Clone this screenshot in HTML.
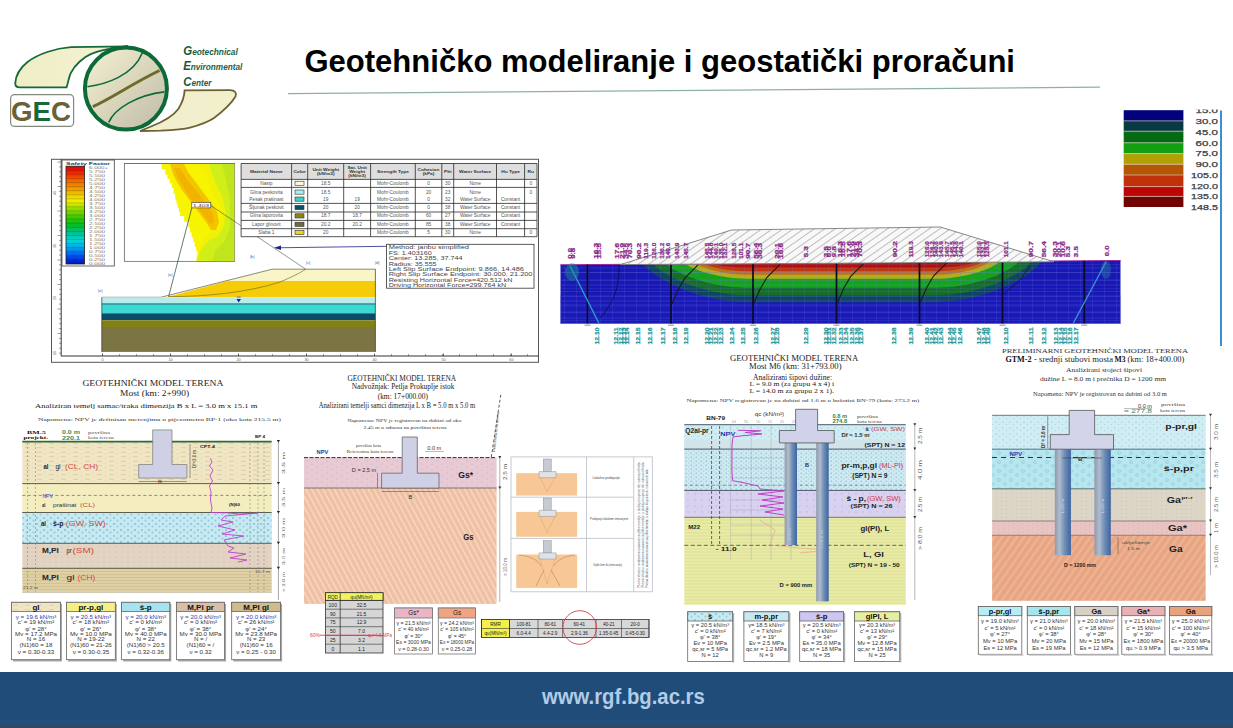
<!DOCTYPE html>
<html><head><meta charset="utf-8"><title>Geotehnicko modeliranje</title>
<style>*{margin:0;padding:0}html,body{width:1233px;height:728px;overflow:hidden;background:#fff;font-family:"Liberation Sans",sans-serif}</style>
</head><body>
<svg width="1233" height="728" viewBox="0 0 1233 728" style="position:absolute;left:0;top:0">
<defs>
<linearGradient id="cg" x1="0" y1="0" x2="1" y2="1"><stop offset="0" stop-color="#f4f1d2"/><stop offset="1" stop-color="#bfbba6"/></linearGradient>
<linearGradient id="sf" x1="0" y1="0" x2="0" y2="1">
<stop offset="0" stop-color="#e00000"/><stop offset="0.08" stop-color="#f03000"/><stop offset="0.16" stop-color="#f07000"/>
<stop offset="0.24" stop-color="#f0a000"/><stop offset="0.30" stop-color="#f0d000"/><stop offset="0.36" stop-color="#f0f000"/>
<stop offset="0.42" stop-color="#a8e000"/><stop offset="0.52" stop-color="#40c800"/><stop offset="0.60" stop-color="#00c020"/>
<stop offset="0.68" stop-color="#00c090"/><stop offset="0.76" stop-color="#00d8d8"/><stop offset="0.84" stop-color="#00a0f0"/>
<stop offset="0.92" stop-color="#0050f0"/><stop offset="1" stop-color="#0010c0"/></linearGradient>
<pattern id="hatch" width="6" height="6" patternUnits="userSpaceOnUse" patternTransform="rotate(55)"><rect width="6" height="6" fill="#f8f8f8"/><line x1="0" y1="0" x2="0" y2="6" stroke="#8c8c8c" stroke-width="1.1"/></pattern>
<pattern id="hatch2" width="5" height="5" patternUnits="userSpaceOnUse" patternTransform="rotate(-28)"><rect width="5" height="5" fill="#f1c4a8"/><line x1="0.5" y1="0" x2="0.5" y2="5" stroke="#f8d9c6" stroke-width="1.2"/><line x1="3" y1="0" x2="3" y2="5" stroke="#e9b497" stroke-width="0.7"/></pattern>
<pattern id="hatch3" width="6" height="6" patternUnits="userSpaceOnUse" patternTransform="rotate(35)"><rect width="6" height="6" fill="#e9a886"/><line x1="1" y1="0" x2="1" y2="6" stroke="#f0b898" stroke-width="1.4"/><line x1="4" y1="0" x2="4" y2="6" stroke="#e29e7c" stroke-width="0.8"/></pattern>
<pattern id="dots" width="7" height="6" patternUnits="userSpaceOnUse"><rect width="7" height="6" fill="#c6e9f2"/><circle cx="2" cy="2" r="1.1" fill="#8fc2d8"/><circle cx="5.5" cy="4.5" r="1" fill="#98c8dc"/></pattern>
<pattern id="dots2" width="7" height="6" patternUnits="userSpaceOnUse"><rect width="7" height="6" fill="#d0edf4"/><circle cx="2" cy="2" r="0.8" fill="#a8d0dc"/><circle cx="5.5" cy="4.5" r="0.7" fill="#b0d6e2"/></pattern>
<pattern id="circ" width="12" height="9" patternUnits="userSpaceOnUse"><rect width="12" height="9" fill="#b7e6ef"/><circle cx="3" cy="3" r="1.5" fill="none" stroke="#8ccbd8" stroke-width="0.7"/><circle cx="9" cy="7" r="1.3" fill="none" stroke="#8ccbd8" stroke-width="0.7"/></pattern>
<pattern id="dash1" width="12" height="4.5" patternUnits="userSpaceOnUse"><rect width="12" height="4.5" fill="#f0e6c4"/><line x1="1" y1="2.2" x2="6" y2="2.2" stroke="#d8c8a0" stroke-width="0.9"/><line x1="7.5" y1="4.4" x2="11" y2="4.4" stroke="#e0d2ac" stroke-width="0.7"/></pattern>
<pattern id="hl" width="10" height="3" patternUnits="userSpaceOnUse"><rect width="10" height="3" fill="#e0d0a6"/><line x1="0" y1="1.5" x2="10" y2="1.5" stroke="#cbb98c" stroke-width="0.6"/></pattern>
<pattern id="hl2" width="10" height="3.2" patternUnits="userSpaceOnUse"><rect width="10" height="3.2" fill="#e9eca6"/><line x1="0" y1="1.6" x2="10" y2="1.6" stroke="#d2d488" stroke-width="0.6"/></pattern>
<pattern id="bgrid" width="12" height="8" patternUnits="userSpaceOnUse"><line x1="0" y1="0" x2="0" y2="8" stroke="#6a78e8" stroke-width="0.5" opacity="0.6"/><line x1="0" y1="0" x2="12" y2="0" stroke="#6a78e8" stroke-width="0.5" opacity="0.6"/></pattern>
<pattern id="pinkd" width="6" height="5" patternUnits="userSpaceOnUse"><rect width="6" height="5" fill="#e3d3c3"/><circle cx="2" cy="2" r="0.6" fill="#cdb8a8"/></pattern>
<pattern id="lav" width="7" height="6" patternUnits="userSpaceOnUse"><rect width="7" height="6" fill="#d8d2f0"/><circle cx="2" cy="2" r="0.7" fill="#b8b0dc"/></pattern>
<pattern id="beige" width="5" height="4" patternUnits="userSpaceOnUse"><rect width="5" height="4" fill="#ddd5c6"/><circle cx="1.5" cy="1.5" r="0.5" fill="#c8bfae"/></pattern>
<linearGradient id="pile" x1="0" y1="0" x2="1" y2="0"><stop offset="0" stop-color="#8e9aae"/><stop offset="0.3" stop-color="#b0bccc"/><stop offset="0.6" stop-color="#7090b8"/><stop offset="1" stop-color="#3e64a0"/></linearGradient>
<pattern id="dots3" width="5" height="4" patternUnits="userSpaceOnUse"><rect width="5" height="4" fill="#cdeaf2"/><circle cx="1.2" cy="1.2" r="0.7" fill="#8ab8cc"/><circle cx="3.7" cy="3" r="0.6" fill="#9cc4d6"/></pattern>
</defs>
<rect x="0.0" y="0.0" width="1233.0" height="728.0" fill="#ffffff" />
<linearGradient id="lf" x1="0" y1="0" x2="1" y2="0"><stop offset="0" stop-color="#eeeec6"/><stop offset="1" stop-color="#f6f2d4"/></linearGradient>
<path d="M128,46.4 L71,47.2 C55,48.3 38,54 27.5,62 C20,68 15.6,76 15.2,83.4 C15.4,86.6 17,87.4 19.5,87.4 L66.5,87.4 C68,84 68.6,77 71.2,72.3 C75,65 83,57.5 90.7,54.2 C98,51 108,48.6 118,47.6 Z" fill="url(#lf)" stroke="#17683a" stroke-width="1.8" />
<path d="M140,131 L160.6,130.7 C175,130 184,129.2 190,127.6 C200,125 208,122 214,118 C222,112 231,104 235.5,96.5 C237,93 235,90.2 230,90.2 L184.6,90.4 C184.4,95 182.6,102 178.5,108.7 C174,115 165,121 151,126.5 Z" fill="#f2efcc" stroke="#6c6232" stroke-width="1.8" />
<circle cx="125.9" cy="88.6" r="41" fill="url(#cg)" stroke="#0b6a37" stroke-width="4"/>
<path d="M87.4,86.7 C105,84.5 133,76 142.3,53" fill="none" stroke="#0b6a37" stroke-width="1.6" />
<path d="M108.7,122.4 C115,108 138,95 164.3,91.9" fill="none" stroke="#0b6a37" stroke-width="1.6" />
<path d="M92.9,106.6 C112,98 128,86 159.5,70.5" fill="none" stroke="#6d6a2c" stroke-width="3" />
<rect x="10.6" y="94.6" width="63" height="31.8" rx="4" fill="#ffffff" stroke="#7f8a7c" stroke-width="1.2"/>
<text x="11" y="120.7" font-family='"Liberation Sans",sans-serif' font-weight="bold" font-size="27.5" fill="#6a6236" textLength="60" lengthAdjust="spacingAndGlyphs">G<tspan fill="#13683c">E</tspan>C</text>
<text x="183.2" y="55.1" font-family='"Liberation Sans",sans-serif' font-weight="bold" font-style="italic" fill="#1d6145" font-size="8.6" textLength="54.60000000000002" lengthAdjust="spacingAndGlyphs"><tspan font-size="11.9" fill="#1a5a38">G</tspan>eotechnical</text>
<text x="183.2" y="70.2" font-family='"Liberation Sans",sans-serif' font-weight="bold" font-style="italic" fill="#1d6145" font-size="8.6" textLength="59.10000000000002" lengthAdjust="spacingAndGlyphs"><tspan font-size="11.9" fill="#1a5a38">E</tspan>nvironmental</text>
<text x="183.2" y="86" font-family='"Liberation Sans",sans-serif' font-weight="bold" font-style="italic" fill="#1d6145" font-size="8.6" textLength="28.200000000000017" lengthAdjust="spacingAndGlyphs"><tspan font-size="11.9" fill="#1a5a38">C</tspan>enter</text>
<text x="304.4" y="71.8" font-family='"Liberation Sans",sans-serif' font-size="32" fill="#000" font-weight="bold" textLength="710.6" lengthAdjust="spacingAndGlyphs" >Geotehničko modeliranje i geostatički proračuni</text>
<line x1="288.0" y1="93.6" x2="1100.0" y2="87.2" stroke="#8fb0a6" stroke-width="1.2" />
<rect x="51.5" y="159.3" width="487.0" height="203.0" fill="#ffffff" stroke="#555" stroke-width="1" />
<line x1="61.2" y1="159.3" x2="61.2" y2="356.0" stroke="#333" stroke-width="1" />
<line x1="61.2" y1="356.0" x2="538.5" y2="356.0" stroke="#333" stroke-width="1" />
<line x1="57.5" y1="162.0" x2="61.2" y2="162.0" stroke="#555" stroke-width="0.6" />
<line x1="59.0" y1="166.9" x2="61.2" y2="166.9" stroke="#555" stroke-width="0.6" />
<line x1="59.0" y1="171.8" x2="61.2" y2="171.8" stroke="#555" stroke-width="0.6" />
<line x1="59.0" y1="176.7" x2="61.2" y2="176.7" stroke="#555" stroke-width="0.6" />
<line x1="59.0" y1="181.6" x2="61.2" y2="181.6" stroke="#555" stroke-width="0.6" />
<line x1="57.5" y1="186.5" x2="61.2" y2="186.5" stroke="#555" stroke-width="0.6" />
<line x1="59.0" y1="191.4" x2="61.2" y2="191.4" stroke="#555" stroke-width="0.6" />
<line x1="59.0" y1="196.3" x2="61.2" y2="196.3" stroke="#555" stroke-width="0.6" />
<line x1="59.0" y1="201.2" x2="61.2" y2="201.2" stroke="#555" stroke-width="0.6" />
<line x1="59.0" y1="206.1" x2="61.2" y2="206.1" stroke="#555" stroke-width="0.6" />
<line x1="57.5" y1="211.0" x2="61.2" y2="211.0" stroke="#555" stroke-width="0.6" />
<line x1="59.0" y1="215.9" x2="61.2" y2="215.9" stroke="#555" stroke-width="0.6" />
<line x1="59.0" y1="220.8" x2="61.2" y2="220.8" stroke="#555" stroke-width="0.6" />
<line x1="59.0" y1="225.7" x2="61.2" y2="225.7" stroke="#555" stroke-width="0.6" />
<line x1="59.0" y1="230.6" x2="61.2" y2="230.6" stroke="#555" stroke-width="0.6" />
<line x1="57.5" y1="235.5" x2="61.2" y2="235.5" stroke="#555" stroke-width="0.6" />
<line x1="59.0" y1="240.4" x2="61.2" y2="240.4" stroke="#555" stroke-width="0.6" />
<line x1="59.0" y1="245.3" x2="61.2" y2="245.3" stroke="#555" stroke-width="0.6" />
<line x1="59.0" y1="250.2" x2="61.2" y2="250.2" stroke="#555" stroke-width="0.6" />
<line x1="59.0" y1="255.1" x2="61.2" y2="255.1" stroke="#555" stroke-width="0.6" />
<line x1="57.5" y1="260.0" x2="61.2" y2="260.0" stroke="#555" stroke-width="0.6" />
<line x1="59.0" y1="264.9" x2="61.2" y2="264.9" stroke="#555" stroke-width="0.6" />
<line x1="59.0" y1="269.8" x2="61.2" y2="269.8" stroke="#555" stroke-width="0.6" />
<line x1="59.0" y1="274.7" x2="61.2" y2="274.7" stroke="#555" stroke-width="0.6" />
<line x1="59.0" y1="279.6" x2="61.2" y2="279.6" stroke="#555" stroke-width="0.6" />
<line x1="57.5" y1="284.5" x2="61.2" y2="284.5" stroke="#555" stroke-width="0.6" />
<line x1="59.0" y1="289.4" x2="61.2" y2="289.4" stroke="#555" stroke-width="0.6" />
<line x1="59.0" y1="294.3" x2="61.2" y2="294.3" stroke="#555" stroke-width="0.6" />
<line x1="59.0" y1="299.2" x2="61.2" y2="299.2" stroke="#555" stroke-width="0.6" />
<line x1="59.0" y1="304.1" x2="61.2" y2="304.1" stroke="#555" stroke-width="0.6" />
<line x1="57.5" y1="309.0" x2="61.2" y2="309.0" stroke="#555" stroke-width="0.6" />
<line x1="59.0" y1="313.9" x2="61.2" y2="313.9" stroke="#555" stroke-width="0.6" />
<line x1="59.0" y1="318.8" x2="61.2" y2="318.8" stroke="#555" stroke-width="0.6" />
<line x1="59.0" y1="323.7" x2="61.2" y2="323.7" stroke="#555" stroke-width="0.6" />
<line x1="59.0" y1="328.6" x2="61.2" y2="328.6" stroke="#555" stroke-width="0.6" />
<line x1="57.5" y1="333.5" x2="61.2" y2="333.5" stroke="#555" stroke-width="0.6" />
<line x1="59.0" y1="338.4" x2="61.2" y2="338.4" stroke="#555" stroke-width="0.6" />
<line x1="59.0" y1="343.3" x2="61.2" y2="343.3" stroke="#555" stroke-width="0.6" />
<line x1="59.0" y1="348.2" x2="61.2" y2="348.2" stroke="#555" stroke-width="0.6" />
<line x1="59.0" y1="353.1" x2="61.2" y2="353.1" stroke="#555" stroke-width="0.6" />
<line x1="102.5" y1="354.2" x2="102.5" y2="356.0" stroke="#555" stroke-width="0.7" />
<line x1="119.5" y1="354.2" x2="119.5" y2="356.0" stroke="#555" stroke-width="0.7" />
<line x1="136.5" y1="354.2" x2="136.5" y2="356.0" stroke="#555" stroke-width="0.7" />
<line x1="153.5" y1="354.2" x2="153.5" y2="356.0" stroke="#555" stroke-width="0.7" />
<line x1="170.5" y1="354.2" x2="170.5" y2="356.0" stroke="#555" stroke-width="0.7" />
<line x1="187.5" y1="354.2" x2="187.5" y2="356.0" stroke="#555" stroke-width="0.7" />
<line x1="204.5" y1="354.2" x2="204.5" y2="356.0" stroke="#555" stroke-width="0.7" />
<line x1="221.5" y1="354.2" x2="221.5" y2="356.0" stroke="#555" stroke-width="0.7" />
<line x1="238.5" y1="354.2" x2="238.5" y2="356.0" stroke="#555" stroke-width="0.7" />
<line x1="255.5" y1="354.2" x2="255.5" y2="356.0" stroke="#555" stroke-width="0.7" />
<line x1="272.5" y1="354.2" x2="272.5" y2="356.0" stroke="#555" stroke-width="0.7" />
<line x1="289.5" y1="354.2" x2="289.5" y2="356.0" stroke="#555" stroke-width="0.7" />
<line x1="306.5" y1="354.2" x2="306.5" y2="356.0" stroke="#555" stroke-width="0.7" />
<line x1="323.5" y1="354.2" x2="323.5" y2="356.0" stroke="#555" stroke-width="0.7" />
<line x1="340.5" y1="354.2" x2="340.5" y2="356.0" stroke="#555" stroke-width="0.7" />
<line x1="357.5" y1="354.2" x2="357.5" y2="356.0" stroke="#555" stroke-width="0.7" />
<line x1="374.5" y1="354.2" x2="374.5" y2="356.0" stroke="#555" stroke-width="0.7" />
<line x1="391.5" y1="354.2" x2="391.5" y2="356.0" stroke="#555" stroke-width="0.7" />
<line x1="408.5" y1="354.2" x2="408.5" y2="356.0" stroke="#555" stroke-width="0.7" />
<line x1="425.5" y1="354.2" x2="425.5" y2="356.0" stroke="#555" stroke-width="0.7" />
<line x1="442.5" y1="354.2" x2="442.5" y2="356.0" stroke="#555" stroke-width="0.7" />
<line x1="459.5" y1="354.2" x2="459.5" y2="356.0" stroke="#555" stroke-width="0.7" />
<line x1="476.5" y1="354.2" x2="476.5" y2="356.0" stroke="#555" stroke-width="0.7" />
<line x1="493.5" y1="354.2" x2="493.5" y2="356.0" stroke="#555" stroke-width="0.7" />
<line x1="510.5" y1="354.2" x2="510.5" y2="356.0" stroke="#555" stroke-width="0.7" />
<line x1="527.5" y1="354.2" x2="527.5" y2="356.0" stroke="#555" stroke-width="0.7" />
<text x="54" y="193" font-family='"Liberation Sans",sans-serif' font-size="3.5" fill="#555" transform="rotate(-90 56 193)">40</text>
<text x="54" y="246" font-family='"Liberation Sans",sans-serif' font-size="3.5" fill="#555" transform="rotate(-90 56 246)">30</text>
<text x="54" y="298" font-family='"Liberation Sans",sans-serif' font-size="3.5" fill="#555" transform="rotate(-90 56 298)">20</text>
<text x="54" y="353" font-family='"Liberation Sans",sans-serif' font-size="3.5" fill="#555" transform="rotate(-90 56 353)">10</text>
<text x="101.4" y="361.0" font-family='"Liberation Sans",sans-serif' font-size="3.8" fill="#666" textLength="2.1" lengthAdjust="spacingAndGlyphs" >0</text>
<line x1="102.5" y1="353.5" x2="102.5" y2="356.0" stroke="#444" stroke-width="0.8" />
<text x="168.4" y="361.0" font-family='"Liberation Sans",sans-serif' font-size="3.8" fill="#666" textLength="4.2" lengthAdjust="spacingAndGlyphs" >10</text>
<line x1="170.5" y1="353.5" x2="170.5" y2="356.0" stroke="#444" stroke-width="0.8" />
<text x="236.4" y="361.0" font-family='"Liberation Sans",sans-serif' font-size="3.8" fill="#666" textLength="4.2" lengthAdjust="spacingAndGlyphs" >20</text>
<line x1="238.5" y1="353.5" x2="238.5" y2="356.0" stroke="#444" stroke-width="0.8" />
<text x="304.4" y="361.0" font-family='"Liberation Sans",sans-serif' font-size="3.8" fill="#666" textLength="4.2" lengthAdjust="spacingAndGlyphs" >30</text>
<line x1="306.5" y1="353.5" x2="306.5" y2="356.0" stroke="#444" stroke-width="0.8" />
<text x="372.4" y="361.0" font-family='"Liberation Sans",sans-serif' font-size="3.8" fill="#666" textLength="4.2" lengthAdjust="spacingAndGlyphs" >40</text>
<line x1="374.5" y1="353.5" x2="374.5" y2="356.0" stroke="#444" stroke-width="0.8" />
<text x="441.4" y="361.0" font-family='"Liberation Sans",sans-serif' font-size="3.8" fill="#666" textLength="4.2" lengthAdjust="spacingAndGlyphs" >50</text>
<line x1="443.5" y1="353.5" x2="443.5" y2="356.0" stroke="#444" stroke-width="0.8" />
<text x="509.3" y="361.0" font-family='"Liberation Sans",sans-serif' font-size="3.8" fill="#666" textLength="4.2" lengthAdjust="spacingAndGlyphs" >60</text>
<line x1="511.4" y1="353.5" x2="511.4" y2="356.0" stroke="#444" stroke-width="0.8" />
<rect x="62.0" y="160.0" width="52.3" height="106.0" fill="#ffffff" stroke="#444" stroke-width="0.8" />
<text x="66.0" y="164.8" font-family='"Liberation Sans",sans-serif' font-size="4" fill="#333" font-weight="bold" textLength="44.0" lengthAdjust="spacingAndGlyphs" >Safety Factor</text>
<rect x="66.0" y="166.2" width="18.6" height="97.8" fill="url(#sf)" stroke="#222" stroke-width="0.8" />
<line x1="66.0" y1="170.3" x2="84.6" y2="170.3" stroke="#00000055" stroke-width="0.5" />
<line x1="66.0" y1="174.3" x2="84.6" y2="174.3" stroke="#00000055" stroke-width="0.5" />
<line x1="66.0" y1="178.4" x2="84.6" y2="178.4" stroke="#00000055" stroke-width="0.5" />
<line x1="66.0" y1="182.5" x2="84.6" y2="182.5" stroke="#00000055" stroke-width="0.5" />
<line x1="66.0" y1="186.6" x2="84.6" y2="186.6" stroke="#00000055" stroke-width="0.5" />
<line x1="66.0" y1="190.6" x2="84.6" y2="190.6" stroke="#00000055" stroke-width="0.5" />
<line x1="66.0" y1="194.7" x2="84.6" y2="194.7" stroke="#00000055" stroke-width="0.5" />
<line x1="66.0" y1="198.8" x2="84.6" y2="198.8" stroke="#00000055" stroke-width="0.5" />
<line x1="66.0" y1="202.9" x2="84.6" y2="202.9" stroke="#00000055" stroke-width="0.5" />
<line x1="66.0" y1="206.9" x2="84.6" y2="206.9" stroke="#00000055" stroke-width="0.5" />
<line x1="66.0" y1="211.0" x2="84.6" y2="211.0" stroke="#00000055" stroke-width="0.5" />
<line x1="66.0" y1="215.1" x2="84.6" y2="215.1" stroke="#00000055" stroke-width="0.5" />
<line x1="66.0" y1="219.2" x2="84.6" y2="219.2" stroke="#00000055" stroke-width="0.5" />
<line x1="66.0" y1="223.2" x2="84.6" y2="223.2" stroke="#00000055" stroke-width="0.5" />
<line x1="66.0" y1="227.3" x2="84.6" y2="227.3" stroke="#00000055" stroke-width="0.5" />
<line x1="66.0" y1="231.4" x2="84.6" y2="231.4" stroke="#00000055" stroke-width="0.5" />
<line x1="66.0" y1="235.5" x2="84.6" y2="235.5" stroke="#00000055" stroke-width="0.5" />
<line x1="66.0" y1="239.6" x2="84.6" y2="239.6" stroke="#00000055" stroke-width="0.5" />
<line x1="66.0" y1="243.6" x2="84.6" y2="243.6" stroke="#00000055" stroke-width="0.5" />
<line x1="66.0" y1="247.7" x2="84.6" y2="247.7" stroke="#00000055" stroke-width="0.5" />
<line x1="66.0" y1="251.8" x2="84.6" y2="251.8" stroke="#00000055" stroke-width="0.5" />
<line x1="66.0" y1="255.9" x2="84.6" y2="255.9" stroke="#00000055" stroke-width="0.5" />
<line x1="66.0" y1="259.9" x2="84.6" y2="259.9" stroke="#00000055" stroke-width="0.5" />
<text x="89.0" y="168.8" font-family='"Liberation Sans",sans-serif' font-size="3.8" fill="#777" textLength="19.0" lengthAdjust="spacingAndGlyphs" >6.000+</text>
<text x="89.0" y="172.8" font-family='"Liberation Sans",sans-serif' font-size="3.8" fill="#777" textLength="16.0" lengthAdjust="spacingAndGlyphs" >5.750</text>
<text x="89.0" y="176.8" font-family='"Liberation Sans",sans-serif' font-size="3.8" fill="#777" textLength="16.0" lengthAdjust="spacingAndGlyphs" >5.500</text>
<text x="89.0" y="180.8" font-family='"Liberation Sans",sans-serif' font-size="3.8" fill="#777" textLength="16.0" lengthAdjust="spacingAndGlyphs" >5.250</text>
<text x="89.0" y="184.8" font-family='"Liberation Sans",sans-serif' font-size="3.8" fill="#777" textLength="16.0" lengthAdjust="spacingAndGlyphs" >5.000</text>
<text x="89.0" y="188.8" font-family='"Liberation Sans",sans-serif' font-size="3.8" fill="#777" textLength="16.0" lengthAdjust="spacingAndGlyphs" >4.750</text>
<text x="89.0" y="192.8" font-family='"Liberation Sans",sans-serif' font-size="3.8" fill="#777" textLength="16.0" lengthAdjust="spacingAndGlyphs" >4.500</text>
<text x="89.0" y="196.8" font-family='"Liberation Sans",sans-serif' font-size="3.8" fill="#777" textLength="16.0" lengthAdjust="spacingAndGlyphs" >4.250</text>
<text x="89.0" y="200.8" font-family='"Liberation Sans",sans-serif' font-size="3.8" fill="#777" textLength="16.0" lengthAdjust="spacingAndGlyphs" >4.000</text>
<text x="89.0" y="204.8" font-family='"Liberation Sans",sans-serif' font-size="3.8" fill="#777" textLength="16.0" lengthAdjust="spacingAndGlyphs" >3.750</text>
<text x="89.0" y="208.8" font-family='"Liberation Sans",sans-serif' font-size="3.8" fill="#777" textLength="16.0" lengthAdjust="spacingAndGlyphs" >3.500</text>
<text x="89.0" y="212.8" font-family='"Liberation Sans",sans-serif' font-size="3.8" fill="#777" textLength="16.0" lengthAdjust="spacingAndGlyphs" >3.250</text>
<text x="89.0" y="216.8" font-family='"Liberation Sans",sans-serif' font-size="3.8" fill="#777" textLength="16.0" lengthAdjust="spacingAndGlyphs" >3.000</text>
<text x="89.0" y="220.8" font-family='"Liberation Sans",sans-serif' font-size="3.8" fill="#777" textLength="16.0" lengthAdjust="spacingAndGlyphs" >2.750</text>
<text x="89.0" y="224.8" font-family='"Liberation Sans",sans-serif' font-size="3.8" fill="#777" textLength="16.0" lengthAdjust="spacingAndGlyphs" >2.500</text>
<text x="89.0" y="228.8" font-family='"Liberation Sans",sans-serif' font-size="3.8" fill="#777" textLength="16.0" lengthAdjust="spacingAndGlyphs" >2.250</text>
<text x="89.0" y="232.8" font-family='"Liberation Sans",sans-serif' font-size="3.8" fill="#777" textLength="16.0" lengthAdjust="spacingAndGlyphs" >2.000</text>
<text x="89.0" y="236.8" font-family='"Liberation Sans",sans-serif' font-size="3.8" fill="#777" textLength="16.0" lengthAdjust="spacingAndGlyphs" >1.750</text>
<text x="89.0" y="240.8" font-family='"Liberation Sans",sans-serif' font-size="3.8" fill="#777" textLength="16.0" lengthAdjust="spacingAndGlyphs" >1.500</text>
<text x="89.0" y="244.8" font-family='"Liberation Sans",sans-serif' font-size="3.8" fill="#777" textLength="16.0" lengthAdjust="spacingAndGlyphs" >1.250</text>
<text x="89.0" y="248.8" font-family='"Liberation Sans",sans-serif' font-size="3.8" fill="#777" textLength="16.0" lengthAdjust="spacingAndGlyphs" >1.000</text>
<text x="89.0" y="252.8" font-family='"Liberation Sans",sans-serif' font-size="3.8" fill="#777" textLength="16.0" lengthAdjust="spacingAndGlyphs" >0.750</text>
<text x="89.0" y="256.8" font-family='"Liberation Sans",sans-serif' font-size="3.8" fill="#777" textLength="16.0" lengthAdjust="spacingAndGlyphs" >0.500</text>
<text x="89.0" y="260.8" font-family='"Liberation Sans",sans-serif' font-size="3.8" fill="#777" textLength="16.0" lengthAdjust="spacingAndGlyphs" >0.250</text>
<text x="89.0" y="264.8" font-family='"Liberation Sans",sans-serif' font-size="3.8" fill="#777" textLength="16.0" lengthAdjust="spacingAndGlyphs" >0.000</text>
<rect x="124.4" y="163.5" width="110.2" height="97.8" fill="#ffffff" stroke="#666" stroke-width="0.9" />
<rect x="124.9" y="164.0" width="109.2" height="96.8" fill="#ffffff" />
<path d="M234.1,164 L234.1,260.8 L199.1,260.8 L199.1,256.2 L197.7,256.2 L197.7,251.6 L196.2,251.6 L196.2,246.9 L194.8,246.9 L194.8,242.3 L193.3,242.3 L193.3,237.4 L191.7,237.4 L191.7,232.4 L190.0,232.4 L190.0,227.5 L188.4,227.5 L188.4,221.8 L184.2,221.8 L184.2,216.0 L180.1,216.0 L180.1,211.9 L178.9,211.9 L178.9,207.8 L177.6,207.8 L177.6,203.6 L176.4,203.6 L176.4,199.5 L175.2,199.5 L175.2,193.7 L173.6,193.7 L173.6,187.9 L171.9,187.9 L171.9,183.5 L169.7,183.5 L169.7,179.1 L167.5,179.1 L167.5,174.7 L165.3,174.7 L165.3,169.3 L161.6,169.3 L161.6,164.0 L157.9,164 Z" fill="#f8f400" />
<path d="M198,164 L234.1,164 L234.1,260.8 L196,260.8 L198,252 L202,244 L206,236 L212,230 L220,228 L222,218 L220,206 L214,196 L210,186 L206,176 L202,170 Z" fill="#f2f006" />
<path d="M209,164 L234.1,164 L234.1,260.8 L198,260.8 L200,252 L204,246 L210,240 L218,236 L224,226 L226,212 L222,196 L216,184 L212,174 Z" fill="#d0ee18" />
<path d="M222,164 L234.1,164 L234.1,260.8 L212,260.8 L216,250 L224,242 L230,228 L230,200 L226,180 Z" fill="#bfe61c" />
<path d="M170,164 L184,164 L188,172 L194,180 L200,188 L206,196 L212,204 L217,212 L219,222 L216,230 L211,230 L206,222 L200,214 L194,206 L188,198 L182,190 L177,182 L173,174 Z" fill="#f4c400" />
<path d="M174,168 L180,168 L186,178 L194,188 L202,198 L208,206 L213,214 L214,222 L210,224 L204,216 L198,208 L190,198 L184,188 L178,178 Z" fill="#f0b400" />
<rect x="191.8" y="202.5" width="19.0" height="5.4" fill="#ffffff" stroke="#333" stroke-width="0.6" />
<text x="193.0" y="206.6" font-family='"Liberation Sans",sans-serif' font-size="4" fill="#333" textLength="16.0" lengthAdjust="spacingAndGlyphs" >1.403</text>
<line x1="191.8" y1="207.9" x2="168.5" y2="297.0" stroke="#3a5a4a" stroke-width="0.8" />
<line x1="210.8" y1="205.5" x2="305.7" y2="269.2" stroke="#3a5a4a" stroke-width="0.6" />
<line x1="386.6" y1="246.3" x2="276.0" y2="247.8" stroke="#23238a" stroke-width="0.8" />
<path d="M274,247.8 L281,245.6 L281,250 Z" fill="#22227f" />
<path d="M101.8,297.3 L166,297.3 L227.7,281 L375.4,281 L375.4,297.3 Z" fill="#f6cc08" />
<path d="M227.7,281 L272.2,269.2 L375.4,269.2 L375.4,281 Z" fill="#faf5c6" />
<path d="M101.8,297.3 L160.7,297.3 L272.2,269.2 L375.4,269.2" fill="none" stroke="#5a5a3a" stroke-width="0.7" />
<path d="M168.5,296.5 C205,297 250,292 280,282 C292,277 300,273 305.7,269.2" fill="none" stroke="#7a7420" stroke-width="0.7" />
<rect x="101.8" y="297.3" width="273.6" height="6.6" fill="#b8ecec" />
<rect x="101.8" y="303.9" width="273.6" height="9.4" fill="#3cd8d2" />
<rect x="101.8" y="313.3" width="273.6" height="7.0" fill="#0d4a6a" />
<rect x="101.8" y="320.3" width="273.6" height="6.7" fill="#838014" />
<rect x="101.8" y="327.0" width="273.6" height="24.9" fill="#7b7543" />
<line x1="101.8" y1="303.9" x2="375.4" y2="303.9" stroke="#124" stroke-width="0.7" />
<line x1="101.8" y1="297.3" x2="101.8" y2="351.9" stroke="#333" stroke-width="0.7" />
<line x1="375.4" y1="269.2" x2="375.4" y2="351.9" stroke="#333" stroke-width="0.7" />
<path d="M236.5,299 L241,299 L238.75,302.5 Z" fill="#1020c0" />
<rect x="236.8" y="296.5" width="3.9" height="1.0" fill="#6070d0" />
<text x="168.0" y="276.0" font-family='"Liberation Sans",sans-serif' font-size="3.5" fill="#4466aa" textLength="4.5" lengthAdjust="spacingAndGlyphs" >|a|</text>
<text x="250.0" y="258.0" font-family='"Liberation Sans",sans-serif' font-size="3.5" fill="#4466aa" textLength="4.5" lengthAdjust="spacingAndGlyphs" >|b|</text>
<text x="306.0" y="264.0" font-family='"Liberation Sans",sans-serif' font-size="3.5" fill="#4466aa" textLength="4.5" lengthAdjust="spacingAndGlyphs" >|c|</text>
<text x="375.0" y="264.0" font-family='"Liberation Sans",sans-serif' font-size="3.5" fill="#4466aa" textLength="4.5" lengthAdjust="spacingAndGlyphs" >|d|</text>
<text x="98.0" y="292.0" font-family='"Liberation Sans",sans-serif' font-size="3.5" fill="#4466aa" textLength="4.5" lengthAdjust="spacingAndGlyphs" >|e|</text>
<rect x="241.1" y="163.5" width="295.9" height="15.9" fill="#dedede" />
<rect x="241.1" y="179.4" width="295.9" height="57.3" fill="#ffffff" />
<line x1="241.1" y1="163.5" x2="241.1" y2="236.7" stroke="#2a2a2a" stroke-width="0.8" />
<line x1="291.6" y1="163.5" x2="291.6" y2="236.7" stroke="#2a2a2a" stroke-width="0.8" />
<line x1="307.7" y1="163.5" x2="307.7" y2="236.7" stroke="#2a2a2a" stroke-width="0.8" />
<line x1="343.7" y1="163.5" x2="343.7" y2="236.7" stroke="#2a2a2a" stroke-width="0.8" />
<line x1="370.6" y1="163.5" x2="370.6" y2="236.7" stroke="#2a2a2a" stroke-width="0.8" />
<line x1="415.3" y1="163.5" x2="415.3" y2="236.7" stroke="#2a2a2a" stroke-width="0.8" />
<line x1="441.8" y1="163.5" x2="441.8" y2="236.7" stroke="#2a2a2a" stroke-width="0.8" />
<line x1="453.7" y1="163.5" x2="453.7" y2="236.7" stroke="#2a2a2a" stroke-width="0.8" />
<line x1="496.5" y1="163.5" x2="496.5" y2="236.7" stroke="#2a2a2a" stroke-width="0.8" />
<line x1="524.6" y1="163.5" x2="524.6" y2="236.7" stroke="#2a2a2a" stroke-width="0.8" />
<line x1="537.0" y1="163.5" x2="537.0" y2="236.7" stroke="#2a2a2a" stroke-width="0.8" />
<line x1="241.1" y1="163.5" x2="537.0" y2="163.5" stroke="#2a2a2a" stroke-width="0.8" />
<line x1="241.1" y1="179.4" x2="537.0" y2="179.4" stroke="#2a2a2a" stroke-width="0.8" />
<line x1="241.1" y1="187.4" x2="537.0" y2="187.4" stroke="#2a2a2a" stroke-width="0.8" />
<line x1="241.1" y1="203.4" x2="537.0" y2="203.4" stroke="#2a2a2a" stroke-width="0.8" />
<line x1="241.1" y1="212.0" x2="537.0" y2="212.0" stroke="#2a2a2a" stroke-width="0.8" />
<line x1="241.1" y1="220.4" x2="537.0" y2="220.4" stroke="#2a2a2a" stroke-width="0.8" />
<line x1="241.1" y1="228.7" x2="537.0" y2="228.7" stroke="#2a2a2a" stroke-width="0.8" />
<line x1="241.1" y1="236.7" x2="537.0" y2="236.7" stroke="#2a2a2a" stroke-width="0.8" />
<text x="250.1" y="172.8" font-family='"Liberation Sans",sans-serif' font-size="4.4" fill="#333" font-weight="bold" textLength="32.5" lengthAdjust="spacingAndGlyphs" >Material Name</text>
<text x="293.4" y="172.8" font-family='"Liberation Sans",sans-serif' font-size="4.4" fill="#333" font-weight="bold" textLength="12.5" lengthAdjust="spacingAndGlyphs" >Color</text>
<text x="312.4" y="170.8" font-family='"Liberation Sans",sans-serif' font-size="4.4" fill="#333" font-weight="bold" textLength="26.6" lengthAdjust="spacingAndGlyphs" >Unit Weight</text>
<text x="316.9" y="174.8" font-family='"Liberation Sans",sans-serif' font-size="4.4" fill="#333" font-weight="bold" textLength="17.6" lengthAdjust="spacingAndGlyphs" >(kN/m3)</text>
<text x="347.4" y="168.8" font-family='"Liberation Sans",sans-serif' font-size="4.4" fill="#333" font-weight="bold" textLength="19.5" lengthAdjust="spacingAndGlyphs" >Sat. Unit</text>
<text x="349.2" y="172.8" font-family='"Liberation Sans",sans-serif' font-size="4.4" fill="#333" font-weight="bold" textLength="15.9" lengthAdjust="spacingAndGlyphs" >Weight</text>
<text x="348.3" y="176.8" font-family='"Liberation Sans",sans-serif' font-size="4.4" fill="#333" font-weight="bold" textLength="17.6" lengthAdjust="spacingAndGlyphs" >(kN/m3)</text>
<text x="377.0" y="172.8" font-family='"Liberation Sans",sans-serif' font-size="4.4" fill="#333" font-weight="bold" textLength="31.9" lengthAdjust="spacingAndGlyphs" >Strength Type</text>
<text x="417.6" y="170.8" font-family='"Liberation Sans",sans-serif' font-size="4.4" fill="#333" font-weight="bold" textLength="21.9" lengthAdjust="spacingAndGlyphs" >Cohesion</text>
<text x="422.7" y="174.8" font-family='"Liberation Sans",sans-serif' font-size="4.4" fill="#333" font-weight="bold" textLength="11.7" lengthAdjust="spacingAndGlyphs" >(kPa)</text>
<text x="444.0" y="172.8" font-family='"Liberation Sans",sans-serif' font-size="4.4" fill="#333" font-weight="bold" textLength="7.5" lengthAdjust="spacingAndGlyphs" >Phi</text>
<text x="459.1" y="172.8" font-family='"Liberation Sans",sans-serif' font-size="4.4" fill="#333" font-weight="bold" textLength="32.1" lengthAdjust="spacingAndGlyphs" >Water Surface</text>
<text x="501.3" y="172.8" font-family='"Liberation Sans",sans-serif' font-size="4.4" fill="#333" font-weight="bold" textLength="18.6" lengthAdjust="spacingAndGlyphs" >Hu Type</text>
<text x="527.6" y="172.8" font-family='"Liberation Sans",sans-serif' font-size="4.4" fill="#333" font-weight="bold" textLength="6.4" lengthAdjust="spacingAndGlyphs" >Ru</text>
<text x="260.2" y="184.8" font-family='"Liberation Sans",sans-serif' font-size="4.6" fill="#555" textLength="12.3" lengthAdjust="spacingAndGlyphs" >Nasip</text>
<rect x="295.0" y="181.2" width="9.0" height="4.2" fill="#fff6d6" stroke="#333" stroke-width="0.6" />
<text x="321.0" y="184.8" font-family='"Liberation Sans",sans-serif' font-size="4.6" fill="#555" textLength="9.3" lengthAdjust="spacingAndGlyphs" >18.5</text>
<text x="377.1" y="184.8" font-family='"Liberation Sans",sans-serif' font-size="4.6" fill="#555" textLength="31.7" lengthAdjust="spacingAndGlyphs" >Mohr-Coulomb</text>
<text x="427.2" y="184.8" font-family='"Liberation Sans",sans-serif' font-size="4.6" fill="#555" textLength="2.7" lengthAdjust="spacingAndGlyphs" >0</text>
<text x="445.1" y="184.8" font-family='"Liberation Sans",sans-serif' font-size="4.6" fill="#555" textLength="5.3" lengthAdjust="spacingAndGlyphs" >30</text>
<text x="469.4" y="184.8" font-family='"Liberation Sans",sans-serif' font-size="4.6" fill="#555" textLength="11.5" lengthAdjust="spacingAndGlyphs" >None</text>
<text x="529.5" y="184.8" font-family='"Liberation Sans",sans-serif' font-size="4.6" fill="#555" textLength="2.7" lengthAdjust="spacingAndGlyphs" >0</text>
<text x="249.9" y="193.6" font-family='"Liberation Sans",sans-serif' font-size="4.6" fill="#555" textLength="32.8" lengthAdjust="spacingAndGlyphs" >Glina peskovita</text>
<rect x="295.0" y="190.0" width="9.0" height="4.2" fill="#a8eeee" stroke="#333" stroke-width="0.6" />
<text x="321.0" y="193.6" font-family='"Liberation Sans",sans-serif' font-size="4.6" fill="#555" textLength="9.3" lengthAdjust="spacingAndGlyphs" >18.5</text>
<text x="377.1" y="193.6" font-family='"Liberation Sans",sans-serif' font-size="4.6" fill="#555" textLength="31.7" lengthAdjust="spacingAndGlyphs" >Mohr-Coulomb</text>
<text x="425.9" y="193.6" font-family='"Liberation Sans",sans-serif' font-size="4.6" fill="#555" textLength="5.3" lengthAdjust="spacingAndGlyphs" >20</text>
<text x="445.1" y="193.6" font-family='"Liberation Sans",sans-serif' font-size="4.6" fill="#555" textLength="5.3" lengthAdjust="spacingAndGlyphs" >23</text>
<text x="469.4" y="193.6" font-family='"Liberation Sans",sans-serif' font-size="4.6" fill="#555" textLength="11.5" lengthAdjust="spacingAndGlyphs" >None</text>
<text x="529.5" y="193.6" font-family='"Liberation Sans",sans-serif' font-size="4.6" fill="#555" textLength="2.7" lengthAdjust="spacingAndGlyphs" >0</text>
<text x="249.3" y="200.6" font-family='"Liberation Sans",sans-serif' font-size="4.6" fill="#555" textLength="34.1" lengthAdjust="spacingAndGlyphs" >Pesak prašinast</text>
<rect x="295.0" y="197.0" width="9.0" height="4.2" fill="#3ccfc6" stroke="#333" stroke-width="0.6" />
<text x="323.0" y="200.6" font-family='"Liberation Sans",sans-serif' font-size="4.6" fill="#555" textLength="5.3" lengthAdjust="spacingAndGlyphs" >19</text>
<text x="354.5" y="200.6" font-family='"Liberation Sans",sans-serif' font-size="4.6" fill="#555" textLength="5.3" lengthAdjust="spacingAndGlyphs" >19</text>
<text x="377.1" y="200.6" font-family='"Liberation Sans",sans-serif' font-size="4.6" fill="#555" textLength="31.7" lengthAdjust="spacingAndGlyphs" >Mohr-Coulomb</text>
<text x="427.2" y="200.6" font-family='"Liberation Sans",sans-serif' font-size="4.6" fill="#555" textLength="2.7" lengthAdjust="spacingAndGlyphs" >0</text>
<text x="445.1" y="200.6" font-family='"Liberation Sans",sans-serif' font-size="4.6" fill="#555" textLength="5.3" lengthAdjust="spacingAndGlyphs" >32</text>
<text x="459.9" y="200.6" font-family='"Liberation Sans",sans-serif' font-size="4.6" fill="#555" textLength="30.5" lengthAdjust="spacingAndGlyphs" >Water Surface</text>
<text x="500.9" y="200.6" font-family='"Liberation Sans",sans-serif' font-size="4.6" fill="#555" textLength="19.2" lengthAdjust="spacingAndGlyphs" >Constant</text>
<text x="249.0" y="209.0" font-family='"Liberation Sans",sans-serif' font-size="4.6" fill="#555" textLength="34.7" lengthAdjust="spacingAndGlyphs" >Šljunak peskovit</text>
<rect x="295.0" y="205.4" width="9.0" height="4.2" fill="#0d4d68" stroke="#333" stroke-width="0.6" />
<text x="323.0" y="209.0" font-family='"Liberation Sans",sans-serif' font-size="4.6" fill="#555" textLength="5.3" lengthAdjust="spacingAndGlyphs" >20</text>
<text x="354.5" y="209.0" font-family='"Liberation Sans",sans-serif' font-size="4.6" fill="#555" textLength="5.3" lengthAdjust="spacingAndGlyphs" >20</text>
<text x="377.1" y="209.0" font-family='"Liberation Sans",sans-serif' font-size="4.6" fill="#555" textLength="31.7" lengthAdjust="spacingAndGlyphs" >Mohr-Coulomb</text>
<text x="427.2" y="209.0" font-family='"Liberation Sans",sans-serif' font-size="4.6" fill="#555" textLength="2.7" lengthAdjust="spacingAndGlyphs" >0</text>
<text x="445.1" y="209.0" font-family='"Liberation Sans",sans-serif' font-size="4.6" fill="#555" textLength="5.3" lengthAdjust="spacingAndGlyphs" >38</text>
<text x="459.9" y="209.0" font-family='"Liberation Sans",sans-serif' font-size="4.6" fill="#555" textLength="30.5" lengthAdjust="spacingAndGlyphs" >Water Surface</text>
<text x="500.9" y="209.0" font-family='"Liberation Sans",sans-serif' font-size="4.6" fill="#555" textLength="19.2" lengthAdjust="spacingAndGlyphs" >Constant</text>
<text x="249.7" y="217.4" font-family='"Liberation Sans",sans-serif' font-size="4.6" fill="#555" textLength="33.3" lengthAdjust="spacingAndGlyphs" >Glina laporovita</text>
<rect x="295.0" y="213.8" width="9.0" height="4.2" fill="#8a8418" stroke="#333" stroke-width="0.6" />
<text x="321.0" y="217.4" font-family='"Liberation Sans",sans-serif' font-size="4.6" fill="#555" textLength="9.3" lengthAdjust="spacingAndGlyphs" >18.7</text>
<text x="352.5" y="217.4" font-family='"Liberation Sans",sans-serif' font-size="4.6" fill="#555" textLength="9.3" lengthAdjust="spacingAndGlyphs" >18.7</text>
<text x="377.1" y="217.4" font-family='"Liberation Sans",sans-serif' font-size="4.6" fill="#555" textLength="31.7" lengthAdjust="spacingAndGlyphs" >Mohr-Coulomb</text>
<text x="425.9" y="217.4" font-family='"Liberation Sans",sans-serif' font-size="4.6" fill="#555" textLength="5.3" lengthAdjust="spacingAndGlyphs" >60</text>
<text x="445.1" y="217.4" font-family='"Liberation Sans",sans-serif' font-size="4.6" fill="#555" textLength="5.3" lengthAdjust="spacingAndGlyphs" >27</text>
<text x="459.9" y="217.4" font-family='"Liberation Sans",sans-serif' font-size="4.6" fill="#555" textLength="30.5" lengthAdjust="spacingAndGlyphs" >Water Surface</text>
<text x="500.9" y="217.4" font-family='"Liberation Sans",sans-serif' font-size="4.6" fill="#555" textLength="19.2" lengthAdjust="spacingAndGlyphs" >Constant</text>
<text x="252.1" y="225.8" font-family='"Liberation Sans",sans-serif' font-size="4.6" fill="#555" textLength="28.5" lengthAdjust="spacingAndGlyphs" >Lapor glinovit</text>
<rect x="295.0" y="222.2" width="9.0" height="4.2" fill="#6c6c3c" stroke="#333" stroke-width="0.6" />
<text x="321.0" y="225.8" font-family='"Liberation Sans",sans-serif' font-size="4.6" fill="#555" textLength="9.3" lengthAdjust="spacingAndGlyphs" >20.2</text>
<text x="352.5" y="225.8" font-family='"Liberation Sans",sans-serif' font-size="4.6" fill="#555" textLength="9.3" lengthAdjust="spacingAndGlyphs" >20.2</text>
<text x="377.1" y="225.8" font-family='"Liberation Sans",sans-serif' font-size="4.6" fill="#555" textLength="31.7" lengthAdjust="spacingAndGlyphs" >Mohr-Coulomb</text>
<text x="425.9" y="225.8" font-family='"Liberation Sans",sans-serif' font-size="4.6" fill="#555" textLength="5.3" lengthAdjust="spacingAndGlyphs" >85</text>
<text x="445.1" y="225.8" font-family='"Liberation Sans",sans-serif' font-size="4.6" fill="#555" textLength="5.3" lengthAdjust="spacingAndGlyphs" >38</text>
<text x="459.9" y="225.8" font-family='"Liberation Sans",sans-serif' font-size="4.6" fill="#555" textLength="30.5" lengthAdjust="spacingAndGlyphs" >Water Surface</text>
<text x="500.9" y="225.8" font-family='"Liberation Sans",sans-serif' font-size="4.6" fill="#555" textLength="19.2" lengthAdjust="spacingAndGlyphs" >Constant</text>
<text x="258.2" y="234.0" font-family='"Liberation Sans",sans-serif' font-size="4.6" fill="#555" textLength="16.3" lengthAdjust="spacingAndGlyphs" >Slaba 1</text>
<rect x="295.0" y="230.4" width="9.0" height="4.2" fill="#eed61a" stroke="#333" stroke-width="0.6" />
<text x="323.0" y="234.0" font-family='"Liberation Sans",sans-serif' font-size="4.6" fill="#555" textLength="5.3" lengthAdjust="spacingAndGlyphs" >20</text>
<text x="377.1" y="234.0" font-family='"Liberation Sans",sans-serif' font-size="4.6" fill="#555" textLength="31.7" lengthAdjust="spacingAndGlyphs" >Mohr-Coulomb</text>
<text x="427.2" y="234.0" font-family='"Liberation Sans",sans-serif' font-size="4.6" fill="#555" textLength="2.7" lengthAdjust="spacingAndGlyphs" >5</text>
<text x="445.1" y="234.0" font-family='"Liberation Sans",sans-serif' font-size="4.6" fill="#555" textLength="5.3" lengthAdjust="spacingAndGlyphs" >30</text>
<text x="469.4" y="234.0" font-family='"Liberation Sans",sans-serif' font-size="4.6" fill="#555" textLength="11.5" lengthAdjust="spacingAndGlyphs" >None</text>
<text x="529.5" y="234.0" font-family='"Liberation Sans",sans-serif' font-size="4.6" fill="#555" textLength="2.7" lengthAdjust="spacingAndGlyphs" >0</text>
<rect x="386.6" y="244.3" width="147.4" height="43.9" fill="#ffffff" stroke="#333" stroke-width="0.8" />
<text x="388.7" y="249.3" font-family='"Liberation Sans",sans-serif' font-size="4.7" fill="#444" textLength="80.3" lengthAdjust="spacingAndGlyphs" >Method: janbu simplified</text>
<text x="388.7" y="254.7" font-family='"Liberation Sans",sans-serif' font-size="4.7" fill="#444" textLength="43.0" lengthAdjust="spacingAndGlyphs" >FS: 1.403160</text>
<text x="388.7" y="260.1" font-family='"Liberation Sans",sans-serif' font-size="4.7" fill="#444" textLength="73.8" lengthAdjust="spacingAndGlyphs" >Center: 13.285, 37.744</text>
<text x="388.7" y="265.5" font-family='"Liberation Sans",sans-serif' font-size="4.7" fill="#444" textLength="47.9" lengthAdjust="spacingAndGlyphs" >Radius: 35.555</text>
<text x="388.7" y="270.9" font-family='"Liberation Sans",sans-serif' font-size="4.7" fill="#444" textLength="135.3" lengthAdjust="spacingAndGlyphs" >Left Slip Surface Endpoint: 9.866, 14.486</text>
<text x="388.7" y="276.3" font-family='"Liberation Sans",sans-serif' font-size="4.7" fill="#444" textLength="143.8" lengthAdjust="spacingAndGlyphs" >Right Slip Surface Endpoint: 30.000, 21.200</text>
<text x="388.7" y="281.7" font-family='"Liberation Sans",sans-serif' font-size="4.7" fill="#444" textLength="123.8" lengthAdjust="spacingAndGlyphs" >Resisting Horizontal Force=420.512 kN</text>
<text x="388.7" y="287.1" font-family='"Liberation Sans",sans-serif' font-size="4.7" fill="#444" textLength="117.5" lengthAdjust="spacingAndGlyphs" >Driving Horizontal Force=299.764 kN</text>
<clipPath id="fclip"><path d="M560.3,264.8 L1120.7,260.5 L1120.7,323.4 L560.3,323.4 Z"/></clipPath>
<g clip-path="url(#fclip)">
<rect x="560.3" y="250.0" width="560.4" height="73.4" fill="#1818b4" />
<rect x="560.3" y="295" width="560.4" height="30" fill="#2020c0" opacity="0.35"/>
<path d="M639,259.1461634546752 L641,262.1461634546752 C656.75,282.1461634546752 704.0,302.1461634546752 746,302.1461634546752 L936,302.1461634546752 C978.0,302.1461634546752 1025.25,282.1461634546752 1041,262.1461634546752 L1043,259.1461634546752 Z" fill="#0e4662" />
<path d="M649,259.1461634546752 L651,262.1461634546752 C665.25,278.6461634546752 708.0,295.1461634546752 746,295.1461634546752 L936,295.1461634546752 C974.0,295.1461634546752 1016.75,278.6461634546752 1031,262.1461634546752 L1033,259.1461634546752 Z" fill="#136e26" />
<path d="M662,259.1461634546752 L664,262.1461634546752 C676.3,274.8961634546752 713.2,287.6461634546752 746,287.6461634546752 L936,287.6461634546752 C968.8,287.6461634546752 1005.7,274.8961634546752 1018,262.1461634546752 L1020,259.1461634546752 Z" fill="#14a41c" />
<path d="M681,259.1461634546752 L683,262.1461634546752 C692.45,270.3961634546752 720.8,278.6461634546752 746,278.6461634546752 L936,278.6461634546752 C961.2,278.6461634546752 989.55,270.3961634546752 999,262.1461634546752 L1001,259.1461634546752 Z" fill="#b4ac18" />
<path d="M691,259.1461634546752 L693,262.1461634546752 C700.95,268.3961634546752 724.8,274.6461634546752 746,274.6461634546752 L936,274.6461634546752 C957.2,274.6461634546752 981.05,268.3961634546752 989,262.1461634546752 L991,259.1461634546752 Z" fill="#c4700e" />
<path d="M698,259.1461634546752 L700,262.1461634546752 C706.9,266.6461634546752 727.6,271.1461634546752 746,271.1461634546752 L936,271.1461634546752 C954.4,271.1461634546752 975.1,266.6461634546752 982,262.1461634546752 L984,259.1461634546752 Z" fill="#c4340c" />
<path d="M705,259.1461634546752 L707,262.1461634546752 C712.85,264.8961634546752 730.4,267.6461634546752 746,267.6461634546752 L936,267.6461634546752 C951.6,267.6461634546752 969.15,264.8961634546752 975,262.1461634546752 L977,259.1461634546752 Z" fill="#b41008" />
<rect x="560.3" y="250.0" width="560.4" height="73.4" fill="url(#bgrid)" />
<line x1="560.3" y1="268.0" x2="1120.7" y2="268.0" stroke="#7a86e0" stroke-width="0.5" opacity="0.45"/>
<line x1="560.3" y1="272.5" x2="1120.7" y2="272.5" stroke="#7a86e0" stroke-width="0.5" opacity="0.45"/>
<line x1="560.3" y1="280.0" x2="1120.7" y2="280.0" stroke="#7a86e0" stroke-width="0.5" opacity="0.45"/>
<line x1="560.3" y1="285.0" x2="1120.7" y2="285.0" stroke="#7a86e0" stroke-width="0.5" opacity="0.45"/>
<line x1="560.3" y1="291.4" x2="1120.7" y2="291.4" stroke="#7a86e0" stroke-width="0.5" opacity="0.45"/>
<line x1="560.3" y1="296.0" x2="1120.7" y2="296.0" stroke="#7a86e0" stroke-width="0.5" opacity="0.45"/>
<line x1="560.3" y1="301.0" x2="1120.7" y2="301.0" stroke="#7a86e0" stroke-width="0.5" opacity="0.45"/>
<line x1="560.3" y1="306.0" x2="1120.7" y2="306.0" stroke="#7a86e0" stroke-width="0.5" opacity="0.45"/>
<line x1="560.3" y1="312.0" x2="1120.7" y2="312.0" stroke="#7a86e0" stroke-width="0.5" opacity="0.45"/>
<line x1="560.3" y1="318.0" x2="1120.7" y2="318.0" stroke="#7a86e0" stroke-width="0.5" opacity="0.45"/>
</g>
<line x1="560.3" y1="264.8" x2="1120.7" y2="260.5" stroke="#9a2a9a" stroke-width="1" />
<line x1="560.3" y1="323.4" x2="1120.7" y2="323.4" stroke="#2a2a80" stroke-width="0.6" />
<line x1="587.5" y1="264.6" x2="587.5" y2="323.4" stroke="#0a0a28" stroke-width="1.7" />
<line x1="671.0" y1="264.0" x2="671.0" y2="323.4" stroke="#0a0a28" stroke-width="1.7" />
<line x1="753.0" y1="263.3" x2="753.0" y2="323.4" stroke="#0a0a28" stroke-width="1.7" />
<line x1="836.5" y1="262.7" x2="836.5" y2="323.4" stroke="#0a0a28" stroke-width="1.7" />
<line x1="919.5" y1="262.0" x2="919.5" y2="323.4" stroke="#0a0a28" stroke-width="1.7" />
<line x1="1002.5" y1="261.4" x2="1002.5" y2="323.4" stroke="#0a0a28" stroke-width="1.7" />
<line x1="1084.3" y1="260.8" x2="1084.3" y2="323.4" stroke="#0a0a28" stroke-width="1.7" />
<path d="M698,264.9505888650964 L685,277.9505888650964 L678,289.9505888650964 L672,303.9505888650964" fill="none" stroke="#1a1a1a" stroke-width="1.1" />
<path d="M780,264.3213954318344 L767,277.3213954318344 L760,289.3213954318344 L754,303.3213954318344" fill="none" stroke="#1a1a1a" stroke-width="1.1" />
<path d="M863.5,263.68069236259817 L850.5,276.68069236259817 L843.5,288.68069236259817 L837.5,302.68069236259817" fill="none" stroke="#1a1a1a" stroke-width="1.1" />
<path d="M946.5,263.04382583868664 L933.5,276.04382583868664 L926.5,288.04382583868664 L920.5,302.04382583868664" fill="none" stroke="#1a1a1a" stroke-width="1.1" />
<path d="M1002.5,295 L1020,280 L1030,266" fill="none" stroke="#1a1a3a" stroke-width="1" />
<path d="M619,265 C619,285 616,300 600,318" fill="none" stroke="#101060" stroke-width="1" />
<line x1="570.0" y1="265.7" x2="598.8" y2="323.0" stroke="#2a9ec4" stroke-width="1.4" />
<line x1="1106.0" y1="262.0" x2="1073.4" y2="323.0" stroke="#3a90d0" stroke-width="1.4" />
<ellipse cx="1106" cy="270" rx="5" ry="9" fill="#2a9a9a" opacity="0.35"/>
<ellipse cx="572" cy="272" rx="7" ry="9" fill="#1a9a8a" opacity="0.45"/>
<path d="M620.4,264.6 L731.6,230 L940.3,227 L1054,261.8 Z" fill="url(#hatch)" stroke="#7a7a7a" stroke-width="0.9" />
<text transform="translate(571.5,258.8) rotate(-90)" font-family='"Liberation Sans",sans-serif' font-size="6.2" fill="#8a2a8a" font-weight="bold" stroke="#8a2a8a" stroke-width="0.25" textLength="11.0" lengthAdjust="spacingAndGlyphs">0.0</text>
<text transform="translate(574.9,258.8) rotate(-90)" font-family='"Liberation Sans",sans-serif' font-size="6.2" fill="#8a2a8a" font-weight="bold" stroke="#8a2a8a" stroke-width="0.25" textLength="11.0" lengthAdjust="spacingAndGlyphs">9.8</text>
<text transform="translate(597.6,258.8) rotate(-90)" font-family='"Liberation Sans",sans-serif' font-size="6.2" fill="#8a2a8a" font-weight="bold" stroke="#8a2a8a" stroke-width="0.25" textLength="16.0" lengthAdjust="spacingAndGlyphs">16.3</text>
<text transform="translate(601.0,258.8) rotate(-90)" font-family='"Liberation Sans",sans-serif' font-size="6.2" fill="#8a2a8a" font-weight="bold" stroke="#8a2a8a" stroke-width="0.25" textLength="16.0" lengthAdjust="spacingAndGlyphs">15.5</text>
<text transform="translate(619.2,258.8) rotate(-90)" font-family='"Liberation Sans",sans-serif' font-size="6.2" fill="#8a2a8a" font-weight="bold" stroke="#8a2a8a" stroke-width="0.25" textLength="16.0" lengthAdjust="spacingAndGlyphs">17.6</text>
<text transform="translate(623.7,258.8) rotate(-90)" font-family='"Liberation Sans",sans-serif' font-size="6.2" fill="#8a2a8a" font-weight="bold" stroke="#8a2a8a" stroke-width="0.25" textLength="16.0" lengthAdjust="spacingAndGlyphs">21.9</text>
<text transform="translate(628.2,258.8) rotate(-90)" font-family='"Liberation Sans",sans-serif' font-size="6.2" fill="#8a2a8a" font-weight="bold" stroke="#8a2a8a" stroke-width="0.25" textLength="16.0" lengthAdjust="spacingAndGlyphs">34.5</text>
<text transform="translate(631.7,258.8) rotate(-90)" font-family='"Liberation Sans",sans-serif' font-size="6.2" fill="#8a2a8a" font-weight="bold" stroke="#8a2a8a" stroke-width="0.25" textLength="16.0" lengthAdjust="spacingAndGlyphs">70.3</text>
<text transform="translate(640.8,258.8) rotate(-90)" font-family='"Liberation Sans",sans-serif' font-size="6.2" fill="#8a2a8a" font-weight="bold" stroke="#8a2a8a" stroke-width="0.25" textLength="16.0" lengthAdjust="spacingAndGlyphs">90.2</text>
<text transform="translate(647.6,258.8) rotate(-90)" font-family='"Liberation Sans",sans-serif' font-size="6.2" fill="#8a2a8a" font-weight="bold" stroke="#8a2a8a" stroke-width="0.25" textLength="16.0" lengthAdjust="spacingAndGlyphs">119.3</text>
<text transform="translate(655.5,258.8) rotate(-90)" font-family='"Liberation Sans",sans-serif' font-size="6.2" fill="#8a2a8a" font-weight="bold" stroke="#8a2a8a" stroke-width="0.25" textLength="16.0" lengthAdjust="spacingAndGlyphs">126.0</text>
<text transform="translate(663.5,258.8) rotate(-90)" font-family='"Liberation Sans",sans-serif' font-size="6.2" fill="#8a2a8a" font-weight="bold" stroke="#8a2a8a" stroke-width="0.25" textLength="16.0" lengthAdjust="spacingAndGlyphs">136.2</text>
<text transform="translate(670.2,258.8) rotate(-90)" font-family='"Liberation Sans",sans-serif' font-size="6.2" fill="#8a2a8a" font-weight="bold" stroke="#8a2a8a" stroke-width="0.25" textLength="16.0" lengthAdjust="spacingAndGlyphs">140.6</text>
<text transform="translate(679.4,258.8) rotate(-90)" font-family='"Liberation Sans",sans-serif' font-size="6.2" fill="#8a2a8a" font-weight="bold" stroke="#8a2a8a" stroke-width="0.25" textLength="16.0" lengthAdjust="spacingAndGlyphs">143.9</text>
<text transform="translate(688.4,258.8) rotate(-90)" font-family='"Liberation Sans",sans-serif' font-size="6.2" fill="#8a2a8a" font-weight="bold" stroke="#8a2a8a" stroke-width="0.25" textLength="16.0" lengthAdjust="spacingAndGlyphs">145.7</text>
<text transform="translate(708.9,258.8) rotate(-90)" font-family='"Liberation Sans",sans-serif' font-size="6.2" fill="#8a2a8a" font-weight="bold" stroke="#8a2a8a" stroke-width="0.25" textLength="16.0" lengthAdjust="spacingAndGlyphs">145.5</text>
<text transform="translate(713.4,258.8) rotate(-90)" font-family='"Liberation Sans",sans-serif' font-size="6.2" fill="#8a2a8a" font-weight="bold" stroke="#8a2a8a" stroke-width="0.25" textLength="16.0" lengthAdjust="spacingAndGlyphs">144.8</text>
<text transform="translate(718.0,258.8) rotate(-90)" font-family='"Liberation Sans",sans-serif' font-size="6.2" fill="#8a2a8a" font-weight="bold" stroke="#8a2a8a" stroke-width="0.25" textLength="16.0" lengthAdjust="spacingAndGlyphs">140.1</text>
<text transform="translate(722.5,258.8) rotate(-90)" font-family='"Liberation Sans",sans-serif' font-size="6.2" fill="#8a2a8a" font-weight="bold" stroke="#8a2a8a" stroke-width="0.25" textLength="16.0" lengthAdjust="spacingAndGlyphs">135.0</text>
<text transform="translate(727.0,258.8) rotate(-90)" font-family='"Liberation Sans",sans-serif' font-size="6.2" fill="#8a2a8a" font-weight="bold" stroke="#8a2a8a" stroke-width="0.25" textLength="16.0" lengthAdjust="spacingAndGlyphs">132.1</text>
<text transform="translate(736.2,258.8) rotate(-90)" font-family='"Liberation Sans",sans-serif' font-size="6.2" fill="#8a2a8a" font-weight="bold" stroke="#8a2a8a" stroke-width="0.25" textLength="16.0" lengthAdjust="spacingAndGlyphs">128.5</text>
<text transform="translate(742.9,258.8) rotate(-90)" font-family='"Liberation Sans",sans-serif' font-size="6.2" fill="#8a2a8a" font-weight="bold" stroke="#8a2a8a" stroke-width="0.25" textLength="16.0" lengthAdjust="spacingAndGlyphs">101.1</text>
<text transform="translate(749.7,258.8) rotate(-90)" font-family='"Liberation Sans",sans-serif' font-size="6.2" fill="#8a2a8a" font-weight="bold" stroke="#8a2a8a" stroke-width="0.25" textLength="16.0" lengthAdjust="spacingAndGlyphs">90.7</text>
<text transform="translate(757.7,258.8) rotate(-90)" font-family='"Liberation Sans",sans-serif' font-size="6.2" fill="#8a2a8a" font-weight="bold" stroke="#8a2a8a" stroke-width="0.25" textLength="16.0" lengthAdjust="spacingAndGlyphs">56.4</text>
<text transform="translate(762.2,258.8) rotate(-90)" font-family='"Liberation Sans",sans-serif' font-size="6.2" fill="#8a2a8a" font-weight="bold" stroke="#8a2a8a" stroke-width="0.25" textLength="16.0" lengthAdjust="spacingAndGlyphs">30.3</text>
<text transform="translate(779.2,258.8) rotate(-90)" font-family='"Liberation Sans",sans-serif' font-size="6.2" fill="#8a2a8a" font-weight="bold" stroke="#8a2a8a" stroke-width="0.25" textLength="16.0" lengthAdjust="spacingAndGlyphs">20.1</text>
<text transform="translate(782.7,258.8) rotate(-90)" font-family='"Liberation Sans",sans-serif' font-size="6.2" fill="#8a2a8a" font-weight="bold" stroke="#8a2a8a" stroke-width="0.25" textLength="16.0" lengthAdjust="spacingAndGlyphs">10.6</text>
<text transform="translate(807.7,257.2) rotate(-90)" font-family='"Liberation Sans",sans-serif' font-size="6.2" fill="#8a2a8a" font-weight="bold" stroke="#8a2a8a" stroke-width="0.25" textLength="11.0" lengthAdjust="spacingAndGlyphs">5.3</text>
<text transform="translate(828.2,257.2) rotate(-90)" font-family='"Liberation Sans",sans-serif' font-size="6.2" fill="#8a2a8a" font-weight="bold" stroke="#8a2a8a" stroke-width="0.25" textLength="11.0" lengthAdjust="spacingAndGlyphs">3.5</text>
<text transform="translate(831.2,257.2) rotate(-90)" font-family='"Liberation Sans",sans-serif' font-size="6.2" fill="#8a2a8a" font-weight="bold" stroke="#8a2a8a" stroke-width="0.25" textLength="11.0" lengthAdjust="spacingAndGlyphs">0.0</text>
<text transform="translate(835.8,257.2) rotate(-90)" font-family='"Liberation Sans",sans-serif' font-size="6.2" fill="#8a2a8a" font-weight="bold" stroke="#8a2a8a" stroke-width="0.25" textLength="11.0" lengthAdjust="spacingAndGlyphs">9.8</text>
<text transform="translate(841.5,257.2) rotate(-90)" font-family='"Liberation Sans",sans-serif' font-size="6.2" fill="#8a2a8a" font-weight="bold" stroke="#8a2a8a" stroke-width="0.25" textLength="16.0" lengthAdjust="spacingAndGlyphs">16.3</text>
<text transform="translate(844.9,257.2) rotate(-90)" font-family='"Liberation Sans",sans-serif' font-size="6.2" fill="#8a2a8a" font-weight="bold" stroke="#8a2a8a" stroke-width="0.25" textLength="16.0" lengthAdjust="spacingAndGlyphs">15.5</text>
<text transform="translate(850.6,257.2) rotate(-90)" font-family='"Liberation Sans",sans-serif' font-size="6.2" fill="#8a2a8a" font-weight="bold" stroke="#8a2a8a" stroke-width="0.25" textLength="16.0" lengthAdjust="spacingAndGlyphs">17.6</text>
<text transform="translate(855.2,257.2) rotate(-90)" font-family='"Liberation Sans",sans-serif' font-size="6.2" fill="#8a2a8a" font-weight="bold" stroke="#8a2a8a" stroke-width="0.25" textLength="16.0" lengthAdjust="spacingAndGlyphs">21.9</text>
<text transform="translate(858.5,257.2) rotate(-90)" font-family='"Liberation Sans",sans-serif' font-size="6.2" fill="#8a2a8a" font-weight="bold" stroke="#8a2a8a" stroke-width="0.25" textLength="16.0" lengthAdjust="spacingAndGlyphs">34.5</text>
<text transform="translate(861.9,257.2) rotate(-90)" font-family='"Liberation Sans",sans-serif' font-size="6.2" fill="#8a2a8a" font-weight="bold" stroke="#8a2a8a" stroke-width="0.25" textLength="16.0" lengthAdjust="spacingAndGlyphs">70.3</text>
<text transform="translate(897.2,257.2) rotate(-90)" font-family='"Liberation Sans",sans-serif' font-size="6.2" fill="#8a2a8a" font-weight="bold" stroke="#8a2a8a" stroke-width="0.25" textLength="16.0" lengthAdjust="spacingAndGlyphs">90.2</text>
<text transform="translate(913.0,257.2) rotate(-90)" font-family='"Liberation Sans",sans-serif' font-size="6.2" fill="#8a2a8a" font-weight="bold" stroke="#8a2a8a" stroke-width="0.25" textLength="16.0" lengthAdjust="spacingAndGlyphs">119.3</text>
<text transform="translate(928.9,257.2) rotate(-90)" font-family='"Liberation Sans",sans-serif' font-size="6.2" fill="#8a2a8a" font-weight="bold" stroke="#8a2a8a" stroke-width="0.25" textLength="16.0" lengthAdjust="spacingAndGlyphs">126.0</text>
<text transform="translate(933.5,257.2) rotate(-90)" font-family='"Liberation Sans",sans-serif' font-size="6.2" fill="#8a2a8a" font-weight="bold" stroke="#8a2a8a" stroke-width="0.25" textLength="16.0" lengthAdjust="spacingAndGlyphs">136.2</text>
<text transform="translate(938.0,257.2) rotate(-90)" font-family='"Liberation Sans",sans-serif' font-size="6.2" fill="#8a2a8a" font-weight="bold" stroke="#8a2a8a" stroke-width="0.25" textLength="16.0" lengthAdjust="spacingAndGlyphs">140.6</text>
<text transform="translate(942.5,257.2) rotate(-90)" font-family='"Liberation Sans",sans-serif' font-size="6.2" fill="#8a2a8a" font-weight="bold" stroke="#8a2a8a" stroke-width="0.25" textLength="16.0" lengthAdjust="spacingAndGlyphs">143.9</text>
<text transform="translate(949.4,257.2) rotate(-90)" font-family='"Liberation Sans",sans-serif' font-size="6.2" fill="#8a2a8a" font-weight="bold" stroke="#8a2a8a" stroke-width="0.25" textLength="16.0" lengthAdjust="spacingAndGlyphs">145.7</text>
<text transform="translate(953.9,257.2) rotate(-90)" font-family='"Liberation Sans",sans-serif' font-size="6.2" fill="#8a2a8a" font-weight="bold" stroke="#8a2a8a" stroke-width="0.25" textLength="16.0" lengthAdjust="spacingAndGlyphs">145.5</text>
<text transform="translate(958.4,257.2) rotate(-90)" font-family='"Liberation Sans",sans-serif' font-size="6.2" fill="#8a2a8a" font-weight="bold" stroke="#8a2a8a" stroke-width="0.25" textLength="16.0" lengthAdjust="spacingAndGlyphs">144.8</text>
<text transform="translate(963.0,257.2) rotate(-90)" font-family='"Liberation Sans",sans-serif' font-size="6.2" fill="#8a2a8a" font-weight="bold" stroke="#8a2a8a" stroke-width="0.25" textLength="16.0" lengthAdjust="spacingAndGlyphs">140.1</text>
<text transform="translate(981.2,257.2) rotate(-90)" font-family='"Liberation Sans",sans-serif' font-size="6.2" fill="#8a2a8a" font-weight="bold" stroke="#8a2a8a" stroke-width="0.25" textLength="16.0" lengthAdjust="spacingAndGlyphs">135.0</text>
<text transform="translate(984.6,257.2) rotate(-90)" font-family='"Liberation Sans",sans-serif' font-size="6.2" fill="#8a2a8a" font-weight="bold" stroke="#8a2a8a" stroke-width="0.25" textLength="16.0" lengthAdjust="spacingAndGlyphs">132.1</text>
<text transform="translate(989.1,257.2) rotate(-90)" font-family='"Liberation Sans",sans-serif' font-size="6.2" fill="#8a2a8a" font-weight="bold" stroke="#8a2a8a" stroke-width="0.25" textLength="16.0" lengthAdjust="spacingAndGlyphs">128.5</text>
<text transform="translate(1008.4,257.2) rotate(-90)" font-family='"Liberation Sans",sans-serif' font-size="6.2" fill="#8a2a8a" font-weight="bold" stroke="#8a2a8a" stroke-width="0.25" textLength="16.0" lengthAdjust="spacingAndGlyphs">101.1</text>
<text transform="translate(1033.4,257.2) rotate(-90)" font-family='"Liberation Sans",sans-serif' font-size="6.2" fill="#8a2a8a" font-weight="bold" stroke="#8a2a8a" stroke-width="0.25" textLength="16.0" lengthAdjust="spacingAndGlyphs">90.7</text>
<text transform="translate(1045.9,257.2) rotate(-90)" font-family='"Liberation Sans",sans-serif' font-size="6.2" fill="#8a2a8a" font-weight="bold" stroke="#8a2a8a" stroke-width="0.25" textLength="16.0" lengthAdjust="spacingAndGlyphs">56.4</text>
<text transform="translate(1057.2,257.2) rotate(-90)" font-family='"Liberation Sans",sans-serif' font-size="6.2" fill="#8a2a8a" font-weight="bold" stroke="#8a2a8a" stroke-width="0.25" textLength="16.0" lengthAdjust="spacingAndGlyphs">30.3</text>
<text transform="translate(1060.6,257.2) rotate(-90)" font-family='"Liberation Sans",sans-serif' font-size="6.2" fill="#8a2a8a" font-weight="bold" stroke="#8a2a8a" stroke-width="0.25" textLength="16.0" lengthAdjust="spacingAndGlyphs">20.1</text>
<text transform="translate(1065.2,257.2) rotate(-90)" font-family='"Liberation Sans",sans-serif' font-size="6.2" fill="#8a2a8a" font-weight="bold" stroke="#8a2a8a" stroke-width="0.25" textLength="16.0" lengthAdjust="spacingAndGlyphs">10.6</text>
<text transform="translate(1069.7,257.2) rotate(-90)" font-family='"Liberation Sans",sans-serif' font-size="6.2" fill="#8a2a8a" font-weight="bold" stroke="#8a2a8a" stroke-width="0.25" textLength="11.0" lengthAdjust="spacingAndGlyphs">5.3</text>
<text transform="translate(1077.7,257.2) rotate(-90)" font-family='"Liberation Sans",sans-serif' font-size="6.2" fill="#8a2a8a" font-weight="bold" stroke="#8a2a8a" stroke-width="0.25" textLength="11.0" lengthAdjust="spacingAndGlyphs">3.5</text>
<text transform="translate(1109.2,256.3) rotate(-90)" font-family='"Liberation Sans",sans-serif' font-size="6.2" fill="#8a2a8a" font-weight="bold" stroke="#8a2a8a" stroke-width="0.25" textLength="11.0" lengthAdjust="spacingAndGlyphs">0.0</text>
<text transform="translate(598.7,344.5) rotate(-90)" font-family='"Liberation Sans",sans-serif' font-size="6" fill="#2a9a9c" font-weight="bold" stroke="#2a9a9c" stroke-width="0.25" textLength="17.0" lengthAdjust="spacingAndGlyphs">12.10</text>
<text transform="translate(618.0,344.5) rotate(-90)" font-family='"Liberation Sans",sans-serif' font-size="6" fill="#2a9a9c" font-weight="bold" stroke="#2a9a9c" stroke-width="0.25" textLength="17.0" lengthAdjust="spacingAndGlyphs">12.11</text>
<text transform="translate(622.6,344.5) rotate(-90)" font-family='"Liberation Sans",sans-serif' font-size="6" fill="#2a9a9c" font-weight="bold" stroke="#2a9a9c" stroke-width="0.25" textLength="17.0" lengthAdjust="spacingAndGlyphs">12.12</text>
<text transform="translate(626.0,344.5) rotate(-90)" font-family='"Liberation Sans",sans-serif' font-size="6" fill="#2a9a9c" font-weight="bold" stroke="#2a9a9c" stroke-width="0.25" textLength="17.0" lengthAdjust="spacingAndGlyphs">12.13</text>
<text transform="translate(629.4,344.5) rotate(-90)" font-family='"Liberation Sans",sans-serif' font-size="6" fill="#2a9a9c" font-weight="bold" stroke="#2a9a9c" stroke-width="0.25" textLength="17.0" lengthAdjust="spacingAndGlyphs">12.14</text>
<text transform="translate(639.6,344.5) rotate(-90)" font-family='"Liberation Sans",sans-serif' font-size="6" fill="#2a9a9c" font-weight="bold" stroke="#2a9a9c" stroke-width="0.25" textLength="17.0" lengthAdjust="spacingAndGlyphs">12.15</text>
<text transform="translate(652.2,344.5) rotate(-90)" font-family='"Liberation Sans",sans-serif' font-size="6" fill="#2a9a9c" font-weight="bold" stroke="#2a9a9c" stroke-width="0.25" textLength="17.0" lengthAdjust="spacingAndGlyphs">12.16</text>
<text transform="translate(664.6,344.5) rotate(-90)" font-family='"Liberation Sans",sans-serif' font-size="6" fill="#2a9a9c" font-weight="bold" stroke="#2a9a9c" stroke-width="0.25" textLength="17.0" lengthAdjust="spacingAndGlyphs">12.17</text>
<text transform="translate(677.1,344.5) rotate(-90)" font-family='"Liberation Sans",sans-serif' font-size="6" fill="#2a9a9c" font-weight="bold" stroke="#2a9a9c" stroke-width="0.25" textLength="17.0" lengthAdjust="spacingAndGlyphs">12.18</text>
<text transform="translate(688.4,344.5) rotate(-90)" font-family='"Liberation Sans",sans-serif' font-size="6" fill="#2a9a9c" font-weight="bold" stroke="#2a9a9c" stroke-width="0.25" textLength="17.0" lengthAdjust="spacingAndGlyphs">12.19</text>
<text transform="translate(708.9,344.5) rotate(-90)" font-family='"Liberation Sans",sans-serif' font-size="6" fill="#2a9a9c" font-weight="bold" stroke="#2a9a9c" stroke-width="0.25" textLength="17.0" lengthAdjust="spacingAndGlyphs">12.20</text>
<text transform="translate(713.4,344.5) rotate(-90)" font-family='"Liberation Sans",sans-serif' font-size="6" fill="#2a9a9c" font-weight="bold" stroke="#2a9a9c" stroke-width="0.25" textLength="17.0" lengthAdjust="spacingAndGlyphs">12.21</text>
<text transform="translate(718.0,344.5) rotate(-90)" font-family='"Liberation Sans",sans-serif' font-size="6" fill="#2a9a9c" font-weight="bold" stroke="#2a9a9c" stroke-width="0.25" textLength="17.0" lengthAdjust="spacingAndGlyphs">12.22</text>
<text transform="translate(722.5,344.5) rotate(-90)" font-family='"Liberation Sans",sans-serif' font-size="6" fill="#2a9a9c" font-weight="bold" stroke="#2a9a9c" stroke-width="0.25" textLength="17.0" lengthAdjust="spacingAndGlyphs">12.23</text>
<text transform="translate(733.8,344.5) rotate(-90)" font-family='"Liberation Sans",sans-serif' font-size="6" fill="#2a9a9c" font-weight="bold" stroke="#2a9a9c" stroke-width="0.25" textLength="17.0" lengthAdjust="spacingAndGlyphs">12.24</text>
<text transform="translate(745.2,344.5) rotate(-90)" font-family='"Liberation Sans",sans-serif' font-size="6" fill="#2a9a9c" font-weight="bold" stroke="#2a9a9c" stroke-width="0.25" textLength="17.0" lengthAdjust="spacingAndGlyphs">12.25</text>
<text transform="translate(757.7,344.5) rotate(-90)" font-family='"Liberation Sans",sans-serif' font-size="6" fill="#2a9a9c" font-weight="bold" stroke="#2a9a9c" stroke-width="0.25" textLength="17.0" lengthAdjust="spacingAndGlyphs">12.26</text>
<text transform="translate(774.7,344.5) rotate(-90)" font-family='"Liberation Sans",sans-serif' font-size="6" fill="#2a9a9c" font-weight="bold" stroke="#2a9a9c" stroke-width="0.25" textLength="17.0" lengthAdjust="spacingAndGlyphs">12.27</text>
<text transform="translate(779.2,344.5) rotate(-90)" font-family='"Liberation Sans",sans-serif' font-size="6" fill="#2a9a9c" font-weight="bold" stroke="#2a9a9c" stroke-width="0.25" textLength="17.0" lengthAdjust="spacingAndGlyphs">12.28</text>
<text transform="translate(807.7,344.5) rotate(-90)" font-family='"Liberation Sans",sans-serif' font-size="6" fill="#2a9a9c" font-weight="bold" stroke="#2a9a9c" stroke-width="0.25" textLength="17.0" lengthAdjust="spacingAndGlyphs">12.29</text>
<text transform="translate(828.2,344.5) rotate(-90)" font-family='"Liberation Sans",sans-serif' font-size="6" fill="#2a9a9c" font-weight="bold" stroke="#2a9a9c" stroke-width="0.25" textLength="17.0" lengthAdjust="spacingAndGlyphs">12.30</text>
<text transform="translate(831.2,344.5) rotate(-90)" font-family='"Liberation Sans",sans-serif' font-size="6" fill="#2a9a9c" font-weight="bold" stroke="#2a9a9c" stroke-width="0.25" textLength="17.0" lengthAdjust="spacingAndGlyphs">12.31</text>
<text transform="translate(835.8,344.5) rotate(-90)" font-family='"Liberation Sans",sans-serif' font-size="6" fill="#2a9a9c" font-weight="bold" stroke="#2a9a9c" stroke-width="0.25" textLength="17.0" lengthAdjust="spacingAndGlyphs">12.32</text>
<text transform="translate(842.6,344.5) rotate(-90)" font-family='"Liberation Sans",sans-serif' font-size="6" fill="#2a9a9c" font-weight="bold" stroke="#2a9a9c" stroke-width="0.25" textLength="17.0" lengthAdjust="spacingAndGlyphs">12.33</text>
<text transform="translate(848.3,344.5) rotate(-90)" font-family='"Liberation Sans",sans-serif' font-size="6" fill="#2a9a9c" font-weight="bold" stroke="#2a9a9c" stroke-width="0.25" textLength="17.0" lengthAdjust="spacingAndGlyphs">12.34</text>
<text transform="translate(854.0,344.5) rotate(-90)" font-family='"Liberation Sans",sans-serif' font-size="6" fill="#2a9a9c" font-weight="bold" stroke="#2a9a9c" stroke-width="0.25" textLength="17.0" lengthAdjust="spacingAndGlyphs">12.35</text>
<text transform="translate(858.5,344.5) rotate(-90)" font-family='"Liberation Sans",sans-serif' font-size="6" fill="#2a9a9c" font-weight="bold" stroke="#2a9a9c" stroke-width="0.25" textLength="17.0" lengthAdjust="spacingAndGlyphs">12.36</text>
<text transform="translate(863.1,344.5) rotate(-90)" font-family='"Liberation Sans",sans-serif' font-size="6" fill="#2a9a9c" font-weight="bold" stroke="#2a9a9c" stroke-width="0.25" textLength="17.0" lengthAdjust="spacingAndGlyphs">12.37</text>
<text transform="translate(896.0,344.5) rotate(-90)" font-family='"Liberation Sans",sans-serif' font-size="6" fill="#2a9a9c" font-weight="bold" stroke="#2a9a9c" stroke-width="0.25" textLength="17.0" lengthAdjust="spacingAndGlyphs">12.38</text>
<text transform="translate(913.0,344.5) rotate(-90)" font-family='"Liberation Sans",sans-serif' font-size="6" fill="#2a9a9c" font-weight="bold" stroke="#2a9a9c" stroke-width="0.25" textLength="17.0" lengthAdjust="spacingAndGlyphs">12.39</text>
<text transform="translate(928.9,344.5) rotate(-90)" font-family='"Liberation Sans",sans-serif' font-size="6" fill="#2a9a9c" font-weight="bold" stroke="#2a9a9c" stroke-width="0.25" textLength="17.0" lengthAdjust="spacingAndGlyphs">12.40</text>
<text transform="translate(933.5,344.5) rotate(-90)" font-family='"Liberation Sans",sans-serif' font-size="6" fill="#2a9a9c" font-weight="bold" stroke="#2a9a9c" stroke-width="0.25" textLength="17.0" lengthAdjust="spacingAndGlyphs">12.41</text>
<text transform="translate(938.0,344.5) rotate(-90)" font-family='"Liberation Sans",sans-serif' font-size="6" fill="#2a9a9c" font-weight="bold" stroke="#2a9a9c" stroke-width="0.25" textLength="17.0" lengthAdjust="spacingAndGlyphs">12.42</text>
<text transform="translate(942.5,344.5) rotate(-90)" font-family='"Liberation Sans",sans-serif' font-size="6" fill="#2a9a9c" font-weight="bold" stroke="#2a9a9c" stroke-width="0.25" textLength="17.0" lengthAdjust="spacingAndGlyphs">12.43</text>
<text transform="translate(951.6,344.5) rotate(-90)" font-family='"Liberation Sans",sans-serif' font-size="6" fill="#2a9a9c" font-weight="bold" stroke="#2a9a9c" stroke-width="0.25" textLength="17.0" lengthAdjust="spacingAndGlyphs">12.44</text>
<text transform="translate(956.2,344.5) rotate(-90)" font-family='"Liberation Sans",sans-serif' font-size="6" fill="#2a9a9c" font-weight="bold" stroke="#2a9a9c" stroke-width="0.25" textLength="17.0" lengthAdjust="spacingAndGlyphs">12.45</text>
<text transform="translate(961.8,344.5) rotate(-90)" font-family='"Liberation Sans",sans-serif' font-size="6" fill="#2a9a9c" font-weight="bold" stroke="#2a9a9c" stroke-width="0.25" textLength="17.0" lengthAdjust="spacingAndGlyphs">12.46</text>
<text transform="translate(981.2,344.5) rotate(-90)" font-family='"Liberation Sans",sans-serif' font-size="6" fill="#2a9a9c" font-weight="bold" stroke="#2a9a9c" stroke-width="0.25" textLength="17.0" lengthAdjust="spacingAndGlyphs">12.47</text>
<text transform="translate(985.7,344.5) rotate(-90)" font-family='"Liberation Sans",sans-serif' font-size="6" fill="#2a9a9c" font-weight="bold" stroke="#2a9a9c" stroke-width="0.25" textLength="17.0" lengthAdjust="spacingAndGlyphs">12.48</text>
<text transform="translate(990.2,344.5) rotate(-90)" font-family='"Liberation Sans",sans-serif' font-size="6" fill="#2a9a9c" font-weight="bold" stroke="#2a9a9c" stroke-width="0.25" textLength="17.0" lengthAdjust="spacingAndGlyphs">12.49</text>
<text transform="translate(1008.4,344.5) rotate(-90)" font-family='"Liberation Sans",sans-serif' font-size="6" fill="#2a9a9c" font-weight="bold" stroke="#2a9a9c" stroke-width="0.25" textLength="17.0" lengthAdjust="spacingAndGlyphs">12.10</text>
<text transform="translate(1033.4,344.5) rotate(-90)" font-family='"Liberation Sans",sans-serif' font-size="6" fill="#2a9a9c" font-weight="bold" stroke="#2a9a9c" stroke-width="0.25" textLength="17.0" lengthAdjust="spacingAndGlyphs">12.11</text>
<text transform="translate(1045.9,344.5) rotate(-90)" font-family='"Liberation Sans",sans-serif' font-size="6" fill="#2a9a9c" font-weight="bold" stroke="#2a9a9c" stroke-width="0.25" textLength="17.0" lengthAdjust="spacingAndGlyphs">12.12</text>
<text transform="translate(1058.4,344.5) rotate(-90)" font-family='"Liberation Sans",sans-serif' font-size="6" fill="#2a9a9c" font-weight="bold" stroke="#2a9a9c" stroke-width="0.25" textLength="17.0" lengthAdjust="spacingAndGlyphs">12.13</text>
<text transform="translate(1062.9,344.5) rotate(-90)" font-family='"Liberation Sans",sans-serif' font-size="6" fill="#2a9a9c" font-weight="bold" stroke="#2a9a9c" stroke-width="0.25" textLength="17.0" lengthAdjust="spacingAndGlyphs">12.14</text>
<text transform="translate(1067.4,344.5) rotate(-90)" font-family='"Liberation Sans",sans-serif' font-size="6" fill="#2a9a9c" font-weight="bold" stroke="#2a9a9c" stroke-width="0.25" textLength="17.0" lengthAdjust="spacingAndGlyphs">12.15</text>
<text transform="translate(1072.0,344.5) rotate(-90)" font-family='"Liberation Sans",sans-serif' font-size="6" fill="#2a9a9c" font-weight="bold" stroke="#2a9a9c" stroke-width="0.25" textLength="17.0" lengthAdjust="spacingAndGlyphs">12.16</text>
<text transform="translate(1077.7,344.5) rotate(-90)" font-family='"Liberation Sans",sans-serif' font-size="6" fill="#2a9a9c" font-weight="bold" stroke="#2a9a9c" stroke-width="0.25" textLength="17.0" lengthAdjust="spacingAndGlyphs">12.17</text>
<rect x="584.5" y="324.5" width="6.0" height="1.5" fill="#b0b0c8" />
<rect x="668.0" y="324.5" width="6.0" height="1.5" fill="#b0b0c8" />
<rect x="750.0" y="324.5" width="6.0" height="1.5" fill="#b0b0c8" />
<rect x="833.5" y="324.5" width="6.0" height="1.5" fill="#b0b0c8" />
<rect x="916.5" y="324.5" width="6.0" height="1.5" fill="#b0b0c8" />
<rect x="999.5" y="324.5" width="6.0" height="1.5" fill="#b0b0c8" />
<rect x="1081.3" y="324.5" width="6.0" height="1.5" fill="#b0b0c8" />
<rect x="1123.7" y="110.2" width="59.7" height="10.7" fill="#02027a" />
<rect x="1123.7" y="120.9" width="59.7" height="10.3" fill="#083a44" />
<rect x="1123.7" y="131.2" width="59.7" height="11.6" fill="#066a14" />
<rect x="1123.7" y="142.8" width="59.7" height="10.8" fill="#12a012" />
<rect x="1123.7" y="153.6" width="59.7" height="10.7" fill="#b0a004" />
<rect x="1123.7" y="164.3" width="59.7" height="10.7" fill="#b45606" />
<rect x="1123.7" y="175.0" width="59.7" height="11.6" fill="#c0300a" />
<rect x="1123.7" y="186.6" width="59.7" height="9.8" fill="#bc0606" />
<rect x="1123.7" y="196.4" width="59.7" height="10.6" fill="#700404" />
<line x1="1123.7" y1="120.9" x2="1183.4" y2="120.9" stroke="#e8d8c0" stroke-width="0.6" />
<line x1="1123.7" y1="131.2" x2="1183.4" y2="131.2" stroke="#e8d8c0" stroke-width="0.6" />
<line x1="1123.7" y1="142.8" x2="1183.4" y2="142.8" stroke="#e8d8c0" stroke-width="0.6" />
<line x1="1123.7" y1="153.6" x2="1183.4" y2="153.6" stroke="#e8d8c0" stroke-width="0.6" />
<line x1="1123.7" y1="164.3" x2="1183.4" y2="164.3" stroke="#e8d8c0" stroke-width="0.6" />
<line x1="1123.7" y1="175.0" x2="1183.4" y2="175.0" stroke="#e8d8c0" stroke-width="0.6" />
<line x1="1123.7" y1="186.6" x2="1183.4" y2="186.6" stroke="#e8d8c0" stroke-width="0.6" />
<line x1="1123.7" y1="196.4" x2="1183.4" y2="196.4" stroke="#e8d8c0" stroke-width="0.6" />
<text x="1195.5" y="113.4" font-family='"Liberation Sans",sans-serif' font-size="7.6" fill="#3a3a3a" textLength="22.4" lengthAdjust="spacingAndGlyphs" stroke="#3a3a3a" stroke-width="0.25">15.0</text>
<text x="1195.5" y="124.1" font-family='"Liberation Sans",sans-serif' font-size="7.6" fill="#3a3a3a" textLength="22.4" lengthAdjust="spacingAndGlyphs" stroke="#3a3a3a" stroke-width="0.25">30.0</text>
<text x="1195.5" y="134.9" font-family='"Liberation Sans",sans-serif' font-size="7.6" fill="#3a3a3a" textLength="22.4" lengthAdjust="spacingAndGlyphs" stroke="#3a3a3a" stroke-width="0.25">45.0</text>
<text x="1195.5" y="145.6" font-family='"Liberation Sans",sans-serif' font-size="7.6" fill="#3a3a3a" textLength="22.4" lengthAdjust="spacingAndGlyphs" stroke="#3a3a3a" stroke-width="0.25">60.0</text>
<text x="1195.5" y="156.3" font-family='"Liberation Sans",sans-serif' font-size="7.6" fill="#3a3a3a" textLength="22.4" lengthAdjust="spacingAndGlyphs" stroke="#3a3a3a" stroke-width="0.25">75.0</text>
<text x="1195.5" y="167.1" font-family='"Liberation Sans",sans-serif' font-size="7.6" fill="#3a3a3a" textLength="22.4" lengthAdjust="spacingAndGlyphs" stroke="#3a3a3a" stroke-width="0.25">90.0</text>
<text x="1191.0" y="177.8" font-family='"Liberation Sans",sans-serif' font-size="7.6" fill="#3a3a3a" textLength="26.9" lengthAdjust="spacingAndGlyphs" stroke="#3a3a3a" stroke-width="0.25">105.0</text>
<text x="1191.0" y="188.5" font-family='"Liberation Sans",sans-serif' font-size="7.6" fill="#3a3a3a" textLength="26.9" lengthAdjust="spacingAndGlyphs" stroke="#3a3a3a" stroke-width="0.25">120.0</text>
<text x="1191.0" y="199.2" font-family='"Liberation Sans",sans-serif' font-size="7.6" fill="#3a3a3a" textLength="26.9" lengthAdjust="spacingAndGlyphs" stroke="#3a3a3a" stroke-width="0.25">135.0</text>
<text x="1191.0" y="210.0" font-family='"Liberation Sans",sans-serif' font-size="7.6" fill="#3a3a3a" textLength="26.9" lengthAdjust="spacingAndGlyphs" stroke="#3a3a3a" stroke-width="0.25">148.5</text>
<rect x="1100.0" y="100.0" width="133.0" height="9.5" fill="#ffffff" />
<line x1="1221.0" y1="110.5" x2="1221.0" y2="346.0" stroke="#3b8fd0" stroke-width="2" />
<text x="82.4" y="386.0" font-family='"Liberation Serif",serif' font-size="7.6" fill="#222" textLength="141.0" lengthAdjust="spacingAndGlyphs" >GEOTEHNIČKI MODEL TERENA</text>
<text x="120.1" y="395.5" font-family='"Liberation Serif",serif' font-size="8.2" fill="#222" textLength="69.0" lengthAdjust="spacingAndGlyphs" >Most (km: 2+990)</text>
<text x="35.0" y="408.2" font-family='"Liberation Serif",serif' font-size="6.8" fill="#222" textLength="222.5" lengthAdjust="spacingAndGlyphs" >Analiziran temelj samac/traka dimenzija B x L = 3.0 m x 15.1 m</text>
<text x="38.0" y="420.6" font-family='"Liberation Serif",serif' font-size="4.6" fill="#333" textLength="243.0" lengthAdjust="spacingAndGlyphs" >Napomena: NPV je definisan merenjima u pijezometru BP-1 (oko kota 215.5 m)</text>
<text x="27.0" y="433.5" font-family='"Liberation Serif",serif' font-size="5" fill="#111" font-weight="bold" textLength="19.0" lengthAdjust="spacingAndGlyphs" >BM-5</text>
<text x="23.5" y="439.3" font-family='"Liberation Serif",serif' font-size="5" fill="#111" font-weight="bold" textLength="24.5" lengthAdjust="spacingAndGlyphs" >projekt.</text>
<text x="62.0" y="433.8" font-family='"Liberation Sans",sans-serif' font-size="5" fill="#3a8a5a" font-weight="bold" textLength="18.0" lengthAdjust="spacingAndGlyphs" >0.0 m</text>
<text x="62.0" y="439.8" font-family='"Liberation Sans",sans-serif' font-size="5" fill="#3a8a5a" font-weight="bold" textLength="18.0" lengthAdjust="spacingAndGlyphs" >220.1</text>
<text x="88.0" y="433.5" font-family='"Liberation Serif",serif' font-size="3.8" fill="#555" textLength="22.0" lengthAdjust="spacingAndGlyphs" >površina</text>
<text x="88.0" y="439.0" font-family='"Liberation Serif",serif' font-size="3.6" fill="#555" textLength="26.0" lengthAdjust="spacingAndGlyphs" >kota terena</text>
<text x="254.9" y="437.6" font-family='"Liberation Sans",sans-serif' font-size="4.2" fill="#222" font-weight="bold" textLength="10.1" lengthAdjust="spacingAndGlyphs" >BP 4</text>
<rect x="22.3" y="441.6" width="249.4" height="42.0" fill="url(#dash1)" />
<rect x="22.3" y="483.6" width="249.4" height="28.9" fill="#f3edbf" />
<rect x="22.3" y="512.5" width="249.4" height="30.8" fill="url(#dots)" />
<rect x="22.3" y="543.3" width="249.4" height="25.0" fill="url(#pinkd)" />
<rect x="22.3" y="568.3" width="249.4" height="24.2" fill="url(#hl)" />
<line x1="22.3" y1="441.6" x2="271.7" y2="441.6" stroke="#2d6b35" stroke-width="1.8" />
<line x1="22.3" y1="483.6" x2="271.7" y2="483.6" stroke="#3a3a2a" stroke-width="0.8" />
<line x1="22.3" y1="512.5" x2="271.7" y2="512.5" stroke="#3a3a2a" stroke-width="0.8" />
<line x1="22.3" y1="543.3" x2="271.7" y2="543.3" stroke="#3a3a2a" stroke-width="0.8" />
<line x1="22.3" y1="568.3" x2="271.7" y2="568.3" stroke="#3a3a2a" stroke-width="0.8" />
<line x1="22.3" y1="592.5" x2="271.7" y2="592.5" stroke="#bba" stroke-width="0.6" />
<line x1="22.3" y1="495.4" x2="271.7" y2="495.4" stroke="#666" stroke-width="0.7" stroke-dasharray="3,2.5"/>
<line x1="27.6" y1="443" x2="27.6" y2="592" stroke="#777" stroke-width="0.5" stroke-dasharray="2,2"/>
<line x1="35.5" y1="443" x2="35.5" y2="592" stroke="#777" stroke-width="0.5" stroke-dasharray="2,2"/>
<line x1="250" y1="443" x2="250" y2="592" stroke="#777" stroke-width="0.5" stroke-dasharray="2,2"/>
<line x1="258" y1="443" x2="258" y2="592" stroke="#777" stroke-width="0.5" stroke-dasharray="2,2"/>
<line x1="264" y1="443" x2="264" y2="592" stroke="#777" stroke-width="0.5" stroke-dasharray="2,2"/>
<path d="M152.7,429.9 L172,429.9 L172,464.5 L186.9,464.5 L186.9,478.1 L138.7,478.1 L138.7,464.5 L152.7,464.5 Z" fill="#cfd0e6" stroke="#777" stroke-width="0.7" />
<line x1="138.7" y1="481.5" x2="186.9" y2="481.5" stroke="#444" stroke-width="0.5" />
<text x="158.0" y="482.5" font-family='"Liberation Sans",sans-serif' font-size="4" fill="#333" textLength="4.0" lengthAdjust="spacingAndGlyphs" >B</text>
<line x1="190.0" y1="444.0" x2="190.0" y2="478.0" stroke="#444" stroke-width="0.5" />
<text transform="translate(196,468) rotate(-90)" font-family='"Liberation Sans",sans-serif' font-size="5.2" fill="#333" textLength="18" lengthAdjust="spacingAndGlyphs">Df=3.0 m</text>
<text x="200.0" y="448.3" font-family='"Liberation Sans",sans-serif' font-size="4.4" fill="#222" font-weight="bold" textLength="15.0" lengthAdjust="spacingAndGlyphs" >CPT-4</text>
<path d="M210.4,458.3 L212,462 L209.5,466 L213,470 L210,476 L212.5,481 L209.5,486 L211,492 L210.5,500 L212,508 L211,512.5 L226,512.8 L240,514 L258,513 L225,516 L221,520 L233,522 L218,526 L235,530 L222,534 L244,536 L224,540 L228,546 L234,548 L228,552 L246,554 L230,558 L247,560 L238,562" fill="none" stroke="#c040c8" stroke-width="0.9" />
<text x="43.5" y="469.4" font-family='"Liberation Sans",sans-serif' font-size="6.8" fill="#222" font-weight="bold" textLength="5.0" lengthAdjust="spacingAndGlyphs" >al</text>
<text x="55.4" y="469.4" font-family='"Liberation Sans",sans-serif' font-size="6.8" fill="#222" textLength="5.1" lengthAdjust="spacingAndGlyphs" >gl</text>
<text x="65.0" y="469.4" font-family='"Liberation Sans",sans-serif' font-size="6.8" fill="#d04a3a" textLength="33.0" lengthAdjust="spacingAndGlyphs" >(CL, CH)</text>
<text x="42.4" y="497.5" font-family='"Liberation Sans",sans-serif' font-size="5.2" fill="#3a40c0" textLength="10.6" lengthAdjust="spacingAndGlyphs" >NPV</text>
<text x="41.9" y="506.9" font-family='"Liberation Sans",sans-serif' font-size="5.6" fill="#333" font-weight="bold" textLength="3.6" lengthAdjust="spacingAndGlyphs" >al</text>
<text x="53.0" y="506.9" font-family='"Liberation Sans",sans-serif' font-size="5.6" fill="#333" textLength="23.4" lengthAdjust="spacingAndGlyphs" >prašinat</text>
<text x="80.0" y="506.9" font-family='"Liberation Sans",sans-serif' font-size="5.6" fill="#d04a3a" textLength="15.2" lengthAdjust="spacingAndGlyphs" >(CL)</text>
<text x="41.0" y="526.3" font-family='"Liberation Sans",sans-serif' font-size="6.6" fill="#222" font-weight="bold" textLength="5.0" lengthAdjust="spacingAndGlyphs" >al</text>
<text x="53.0" y="526.3" font-family='"Liberation Sans",sans-serif' font-size="6.6" fill="#222" font-weight="bold" textLength="10.5" lengthAdjust="spacingAndGlyphs" >š-p</text>
<text x="65.8" y="526.3" font-family='"Liberation Sans",sans-serif' font-size="6.6" fill="#d04a3a" textLength="40.0" lengthAdjust="spacingAndGlyphs" >(GW, SW)</text>
<text x="41.9" y="553.0" font-family='"Liberation Sans",sans-serif' font-size="6.6" fill="#222" font-weight="bold" textLength="16.9" lengthAdjust="spacingAndGlyphs" >M,Pl</text>
<text x="66.6" y="553.0" font-family='"Liberation Sans",sans-serif' font-size="6.6" fill="#222" textLength="5.1" lengthAdjust="spacingAndGlyphs" >pr</text>
<text x="72.5" y="553.0" font-family='"Liberation Sans",sans-serif' font-size="6.6" fill="#d04a3a" textLength="21.5" lengthAdjust="spacingAndGlyphs" >(SM)</text>
<text x="41.9" y="580.0" font-family='"Liberation Sans",sans-serif' font-size="6.6" fill="#222" font-weight="bold" textLength="16.9" lengthAdjust="spacingAndGlyphs" >M,Pl</text>
<text x="66.6" y="580.0" font-family='"Liberation Sans",sans-serif' font-size="6.6" fill="#222" textLength="7.9" lengthAdjust="spacingAndGlyphs" >gl</text>
<text x="77.6" y="580.0" font-family='"Liberation Sans",sans-serif' font-size="6.6" fill="#d04a3a" textLength="17.6" lengthAdjust="spacingAndGlyphs" >(CH)</text>
<text x="229.0" y="506.0" font-family='"Liberation Sans",sans-serif' font-size="4.2" fill="#222" font-weight="bold" textLength="11.0" lengthAdjust="spacingAndGlyphs" >(N)60</text>
<text x="255.0" y="573.0" font-family='"Liberation Sans",sans-serif' font-size="3.6" fill="#555" textLength="15.0" lengthAdjust="spacingAndGlyphs" >15.7 m</text>
<text x="23.0" y="588.5" font-family='"Liberation Sans",sans-serif' font-size="3.6" fill="#555" textLength="15.0" lengthAdjust="spacingAndGlyphs" >21.2 m</text>
<line x1="278.4" y1="440.0" x2="278.4" y2="600.0" stroke="#666" stroke-width="0.6" />
<path d="M276.8,440.1 L280,440.1 L278.4,442.6 Z" fill="#222" />
<path d="M276.8,482.1 L280,482.1 L278.4,484.6 Z" fill="#222" />
<path d="M276.8,511.0 L280,511.0 L278.4,513.5 Z" fill="#222" />
<path d="M276.8,541.8 L280,541.8 L278.4,544.3 Z" fill="#222" />
<path d="M276.8,566.8 L280,566.8 L278.4,569.3 Z" fill="#222" />
<text transform="translate(285,474) rotate(-90)" font-family='"Liberation Sans",sans-serif' font-size="4.4" fill="#555" textLength="22" lengthAdjust="spacingAndGlyphs">3.5 m</text>
<text transform="translate(285,507) rotate(-90)" font-family='"Liberation Sans",sans-serif' font-size="4.4" fill="#555" textLength="19" lengthAdjust="spacingAndGlyphs">3.5 m</text>
<text transform="translate(285,538) rotate(-90)" font-family='"Liberation Sans",sans-serif' font-size="4.4" fill="#555" textLength="20" lengthAdjust="spacingAndGlyphs">3.0 m</text>
<text transform="translate(285,565) rotate(-90)" font-family='"Liberation Sans",sans-serif' font-size="4.4" fill="#555" textLength="17" lengthAdjust="spacingAndGlyphs">3.0 m</text>
<text transform="translate(285,592) rotate(-90)" font-family='"Liberation Sans",sans-serif' font-size="4.4" fill="#555" textLength="20" lengthAdjust="spacingAndGlyphs">> 3.0 m</text>
<rect x="13.0" y="604.0" width="49.0" height="57.5" fill="#a8a8a8" />
<rect x="11.5" y="602.3" width="49.0" height="57.4" fill="#ffffff" stroke="#666" stroke-width="0.8" />
<rect x="11.5" y="602.3" width="49.0" height="9.2" fill="url(#dash1)" stroke="#666" stroke-width="0.8" />
<text x="32.4" y="610.2" font-family='"Liberation Sans",sans-serif' font-size="8" fill="#111" font-weight="bold" textLength="7.1" lengthAdjust="spacingAndGlyphs" >gl</text>
<text x="15.8" y="618.8" font-family='"Liberation Sans",sans-serif' font-size="5.7" fill="#3a3aa0" textLength="40.5" lengthAdjust="spacingAndGlyphs" >γ = 19.6 kN/m³</text>
<text x="17.8" y="624.2" font-family='"Liberation Sans",sans-serif' font-size="5.7" fill="#333" textLength="36.5" lengthAdjust="spacingAndGlyphs" >c' = 19 kN/m²</text>
<text x="25.2" y="630.5" font-family='"Liberation Sans",sans-serif' font-size="5.7" fill="#333" textLength="21.6" lengthAdjust="spacingAndGlyphs" >φ' = 28°</text>
<text x="15.1" y="635.8" font-family='"Liberation Sans",sans-serif' font-size="5.7" fill="#333" textLength="41.9" lengthAdjust="spacingAndGlyphs" >Mv = 17.2 MPa</text>
<text x="26.8" y="641.4" font-family='"Liberation Sans",sans-serif' font-size="5.7" fill="#333" textLength="18.4" lengthAdjust="spacingAndGlyphs" >N = 16</text>
<text x="19.5" y="647.0" font-family='"Liberation Sans",sans-serif' font-size="5.7" fill="#333" textLength="32.9" lengthAdjust="spacingAndGlyphs" >(N1)60 = 18</text>
<text x="17.8" y="654.0" font-family='"Liberation Sans",sans-serif' font-size="5.7" fill="#333" textLength="36.4" lengthAdjust="spacingAndGlyphs" >ν = 0.30-0.33</text>
<rect x="67.9" y="604.0" width="48.9" height="57.5" fill="#a8a8a8" />
<rect x="66.4" y="602.3" width="48.9" height="57.4" fill="#ffffff" stroke="#666" stroke-width="0.8" />
<rect x="66.4" y="602.3" width="48.9" height="9.2" fill="#f6ee86" stroke="#666" stroke-width="0.8" />
<text x="78.4" y="610.2" font-family='"Liberation Sans",sans-serif' font-size="8" fill="#111" font-weight="bold" textLength="24.9" lengthAdjust="spacingAndGlyphs" >pr-p,gl</text>
<text x="70.6" y="618.8" font-family='"Liberation Sans",sans-serif' font-size="5.7" fill="#3a3aa0" textLength="40.5" lengthAdjust="spacingAndGlyphs" >γ = 20.5 kN/m³</text>
<text x="72.6" y="624.2" font-family='"Liberation Sans",sans-serif' font-size="5.7" fill="#333" textLength="36.5" lengthAdjust="spacingAndGlyphs" >c' = 18 kN/m²</text>
<text x="80.0" y="630.5" font-family='"Liberation Sans",sans-serif' font-size="5.7" fill="#333" textLength="21.6" lengthAdjust="spacingAndGlyphs" >φ' = 26°</text>
<text x="69.9" y="635.8" font-family='"Liberation Sans",sans-serif' font-size="5.7" fill="#333" textLength="41.9" lengthAdjust="spacingAndGlyphs" >Mv = 10.0 MPa</text>
<text x="77.2" y="641.4" font-family='"Liberation Sans",sans-serif' font-size="5.7" fill="#333" textLength="27.4" lengthAdjust="spacingAndGlyphs" >N = 19-22</text>
<text x="69.9" y="647.0" font-family='"Liberation Sans",sans-serif' font-size="5.7" fill="#333" textLength="41.9" lengthAdjust="spacingAndGlyphs" >(N1)60 = 21-26</text>
<text x="72.7" y="654.0" font-family='"Liberation Sans",sans-serif' font-size="5.7" fill="#333" textLength="36.4" lengthAdjust="spacingAndGlyphs" >ν = 0.30-0.35</text>
<rect x="123.1" y="604.0" width="48.2" height="57.5" fill="#a8a8a8" />
<rect x="121.6" y="602.3" width="48.2" height="57.4" fill="#ffffff" stroke="#666" stroke-width="0.8" />
<rect x="121.6" y="602.3" width="48.2" height="9.2" fill="#a6e2f0" stroke="#666" stroke-width="0.8" />
<text x="139.7" y="610.2" font-family='"Liberation Sans",sans-serif' font-size="8" fill="#111" font-weight="bold" textLength="12.0" lengthAdjust="spacingAndGlyphs" >š-p</text>
<text x="125.5" y="618.8" font-family='"Liberation Sans",sans-serif' font-size="5.7" fill="#3a3aa0" textLength="40.5" lengthAdjust="spacingAndGlyphs" >γ = 20.0 kN/m³</text>
<text x="129.2" y="624.2" font-family='"Liberation Sans",sans-serif' font-size="5.7" fill="#333" textLength="33.0" lengthAdjust="spacingAndGlyphs" >c' = 0 kN/m²</text>
<text x="134.9" y="630.5" font-family='"Liberation Sans",sans-serif' font-size="5.7" fill="#333" textLength="21.6" lengthAdjust="spacingAndGlyphs" >φ' = 38°</text>
<text x="124.8" y="635.8" font-family='"Liberation Sans",sans-serif' font-size="5.7" fill="#333" textLength="41.9" lengthAdjust="spacingAndGlyphs" >Mv = 40.0 MPa</text>
<text x="136.5" y="641.4" font-family='"Liberation Sans",sans-serif' font-size="5.7" fill="#333" textLength="18.4" lengthAdjust="spacingAndGlyphs" >N = 22</text>
<text x="126.7" y="647.0" font-family='"Liberation Sans",sans-serif' font-size="5.7" fill="#333" textLength="38.1" lengthAdjust="spacingAndGlyphs" >(N1)60 &gt; 20.5</text>
<text x="127.5" y="654.0" font-family='"Liberation Sans",sans-serif' font-size="5.7" fill="#333" textLength="36.4" lengthAdjust="spacingAndGlyphs" >ν = 0.32-0.36</text>
<rect x="177.9" y="604.0" width="48.2" height="57.5" fill="#a8a8a8" />
<rect x="176.4" y="602.3" width="48.2" height="57.4" fill="#ffffff" stroke="#666" stroke-width="0.8" />
<rect x="176.4" y="602.3" width="48.2" height="9.2" fill="#d8c0a8" stroke="#666" stroke-width="0.8" />
<text x="187.2" y="610.2" font-family='"Liberation Sans",sans-serif' font-size="8" fill="#111" font-weight="bold" textLength="26.7" lengthAdjust="spacingAndGlyphs" >M,Pl pr</text>
<text x="180.3" y="618.8" font-family='"Liberation Sans",sans-serif' font-size="5.7" fill="#3a3aa0" textLength="40.5" lengthAdjust="spacingAndGlyphs" >γ = 20.0 kN/m³</text>
<text x="184.0" y="624.2" font-family='"Liberation Sans",sans-serif' font-size="5.7" fill="#333" textLength="33.0" lengthAdjust="spacingAndGlyphs" >c' = 0 kN/m²</text>
<text x="189.7" y="630.5" font-family='"Liberation Sans",sans-serif' font-size="5.7" fill="#333" textLength="21.6" lengthAdjust="spacingAndGlyphs" >φ' = 38°</text>
<text x="179.6" y="635.8" font-family='"Liberation Sans",sans-serif' font-size="5.7" fill="#333" textLength="41.9" lengthAdjust="spacingAndGlyphs" >Mv = 30.0 MPa</text>
<text x="193.9" y="641.4" font-family='"Liberation Sans",sans-serif' font-size="5.7" fill="#333" textLength="13.3" lengthAdjust="spacingAndGlyphs" >N = /</text>
<text x="186.6" y="647.0" font-family='"Liberation Sans",sans-serif' font-size="5.7" fill="#333" textLength="27.7" lengthAdjust="spacingAndGlyphs" >(N1)60 = /</text>
<text x="189.4" y="654.0" font-family='"Liberation Sans",sans-serif' font-size="5.7" fill="#333" textLength="22.2" lengthAdjust="spacingAndGlyphs" >ν = 0.32</text>
<rect x="233.2" y="604.0" width="48.9" height="57.5" fill="#a8a8a8" />
<rect x="231.7" y="602.3" width="48.9" height="57.4" fill="#ffffff" stroke="#666" stroke-width="0.8" />
<rect x="231.7" y="602.3" width="48.9" height="9.2" fill="#cfbb8c" stroke="#666" stroke-width="0.8" />
<text x="243.3" y="610.2" font-family='"Liberation Sans",sans-serif' font-size="8" fill="#111" font-weight="bold" textLength="25.8" lengthAdjust="spacingAndGlyphs" >M,Pl gl</text>
<text x="235.9" y="618.8" font-family='"Liberation Sans",sans-serif' font-size="5.7" fill="#3a3aa0" textLength="40.5" lengthAdjust="spacingAndGlyphs" >γ = 20.0 kN/m³</text>
<text x="237.9" y="624.2" font-family='"Liberation Sans",sans-serif' font-size="5.7" fill="#333" textLength="36.5" lengthAdjust="spacingAndGlyphs" >c' = 26 kN/m²</text>
<text x="245.3" y="630.5" font-family='"Liberation Sans",sans-serif' font-size="5.7" fill="#333" textLength="21.6" lengthAdjust="spacingAndGlyphs" >φ' = 24°</text>
<text x="235.2" y="635.8" font-family='"Liberation Sans",sans-serif' font-size="5.7" fill="#333" textLength="41.9" lengthAdjust="spacingAndGlyphs" >Mv = 23.8 MPa</text>
<text x="246.9" y="641.4" font-family='"Liberation Sans",sans-serif' font-size="5.7" fill="#333" textLength="18.4" lengthAdjust="spacingAndGlyphs" >N = 23</text>
<text x="239.7" y="647.0" font-family='"Liberation Sans",sans-serif' font-size="5.7" fill="#333" textLength="32.9" lengthAdjust="spacingAndGlyphs" >(N1)60 = 16</text>
<text x="236.2" y="654.0" font-family='"Liberation Sans",sans-serif' font-size="5.7" fill="#333" textLength="39.8" lengthAdjust="spacingAndGlyphs" >ν = 0.25 - 0.30</text>
<text x="347.5" y="380.8" font-family='"Liberation Serif",serif' font-size="7.4" fill="#222" textLength="108.6" lengthAdjust="spacingAndGlyphs" >GEOTEHNIČKI MODEL TERENA</text>
<text x="351.8" y="389.4" font-family='"Liberation Serif",serif' font-size="7.4" fill="#222" textLength="102.6" lengthAdjust="spacingAndGlyphs" >Nadvožnjak: Petlja Prokuplje istok</text>
<text x="377.7" y="398.6" font-family='"Liberation Serif",serif' font-size="7.4" fill="#222" textLength="50.3" lengthAdjust="spacingAndGlyphs" >(km: 17+000.00)</text>
<text x="318.7" y="408.4" font-family='"Liberation Serif",serif' font-size="7.2" fill="#222" textLength="156.6" lengthAdjust="spacingAndGlyphs" >Analizirani temelji samci dimenzija L x B = 5.0 m x 5.0 m</text>
<text x="347.5" y="421.8" font-family='"Liberation Serif",serif' font-size="5" fill="#333" textLength="113.9" lengthAdjust="spacingAndGlyphs" >Napomena: NPV je registrovan na dubini od oko</text>
<text x="363.5" y="428.6" font-family='"Liberation Serif",serif' font-size="5" fill="#333" textLength="83.0" lengthAdjust="spacingAndGlyphs" >2.45 m u odnosu na površinu terena</text>
<text x="316.6" y="454.3" font-family='"Liberation Sans",sans-serif' font-size="5.4" fill="#2a3aa0" font-weight="bold" textLength="11.7" lengthAdjust="spacingAndGlyphs" >NPV</text>
<text x="356.0" y="447.0" font-family='"Liberation Serif",serif' font-size="3.8" fill="#444" textLength="25.0" lengthAdjust="spacingAndGlyphs" >površina kota</text>
<text x="346.4" y="452.5" font-family='"Liberation Serif",serif' font-size="3.8" fill="#444" textLength="46.9" lengthAdjust="spacingAndGlyphs" >Referentna kota terena</text>
<text x="427.3" y="449.5" font-family='"Liberation Sans",sans-serif' font-size="4.8" fill="#333" textLength="13.9" lengthAdjust="spacingAndGlyphs" >0.0 m</text>
<line x1="425.0" y1="451.5" x2="444.0" y2="451.5" stroke="#555" stroke-width="0.4" />
<rect x="304.0" y="488.0" width="192.6" height="115.9" fill="url(#hatch2)" />
<rect x="304.0" y="457.6" width="192.6" height="30.4" fill="#e7cad3" />
<rect x="304" y="457.6" width="192.6" height="30.4" fill="url(#dots)" opacity="0.0"/>
<circle cx="307.0" cy="461.0" r="0.6" fill="#d2a8b8"/>
<circle cx="307.0" cy="467.0" r="0.6" fill="#d2a8b8"/>
<circle cx="307.0" cy="473.0" r="0.6" fill="#d2a8b8"/>
<circle cx="307.0" cy="479.0" r="0.6" fill="#d2a8b8"/>
<circle cx="307.0" cy="485.0" r="0.6" fill="#d2a8b8"/>
<circle cx="312.0" cy="464.0" r="0.6" fill="#d2a8b8"/>
<circle cx="312.0" cy="470.0" r="0.6" fill="#d2a8b8"/>
<circle cx="312.0" cy="476.0" r="0.6" fill="#d2a8b8"/>
<circle cx="312.0" cy="482.0" r="0.6" fill="#d2a8b8"/>
<circle cx="317.0" cy="461.0" r="0.6" fill="#d2a8b8"/>
<circle cx="317.0" cy="467.0" r="0.6" fill="#d2a8b8"/>
<circle cx="317.0" cy="473.0" r="0.6" fill="#d2a8b8"/>
<circle cx="317.0" cy="479.0" r="0.6" fill="#d2a8b8"/>
<circle cx="317.0" cy="485.0" r="0.6" fill="#d2a8b8"/>
<circle cx="322.0" cy="464.0" r="0.6" fill="#d2a8b8"/>
<circle cx="322.0" cy="470.0" r="0.6" fill="#d2a8b8"/>
<circle cx="322.0" cy="476.0" r="0.6" fill="#d2a8b8"/>
<circle cx="322.0" cy="482.0" r="0.6" fill="#d2a8b8"/>
<circle cx="327.0" cy="461.0" r="0.6" fill="#d2a8b8"/>
<circle cx="327.0" cy="467.0" r="0.6" fill="#d2a8b8"/>
<circle cx="327.0" cy="473.0" r="0.6" fill="#d2a8b8"/>
<circle cx="327.0" cy="479.0" r="0.6" fill="#d2a8b8"/>
<circle cx="327.0" cy="485.0" r="0.6" fill="#d2a8b8"/>
<circle cx="332.0" cy="464.0" r="0.6" fill="#d2a8b8"/>
<circle cx="332.0" cy="470.0" r="0.6" fill="#d2a8b8"/>
<circle cx="332.0" cy="476.0" r="0.6" fill="#d2a8b8"/>
<circle cx="332.0" cy="482.0" r="0.6" fill="#d2a8b8"/>
<circle cx="337.0" cy="461.0" r="0.6" fill="#d2a8b8"/>
<circle cx="337.0" cy="467.0" r="0.6" fill="#d2a8b8"/>
<circle cx="337.0" cy="473.0" r="0.6" fill="#d2a8b8"/>
<circle cx="337.0" cy="479.0" r="0.6" fill="#d2a8b8"/>
<circle cx="337.0" cy="485.0" r="0.6" fill="#d2a8b8"/>
<circle cx="342.0" cy="464.0" r="0.6" fill="#d2a8b8"/>
<circle cx="342.0" cy="470.0" r="0.6" fill="#d2a8b8"/>
<circle cx="342.0" cy="476.0" r="0.6" fill="#d2a8b8"/>
<circle cx="342.0" cy="482.0" r="0.6" fill="#d2a8b8"/>
<circle cx="347.0" cy="461.0" r="0.6" fill="#d2a8b8"/>
<circle cx="347.0" cy="467.0" r="0.6" fill="#d2a8b8"/>
<circle cx="347.0" cy="473.0" r="0.6" fill="#d2a8b8"/>
<circle cx="347.0" cy="479.0" r="0.6" fill="#d2a8b8"/>
<circle cx="347.0" cy="485.0" r="0.6" fill="#d2a8b8"/>
<circle cx="352.0" cy="464.0" r="0.6" fill="#d2a8b8"/>
<circle cx="352.0" cy="470.0" r="0.6" fill="#d2a8b8"/>
<circle cx="352.0" cy="476.0" r="0.6" fill="#d2a8b8"/>
<circle cx="352.0" cy="482.0" r="0.6" fill="#d2a8b8"/>
<circle cx="357.0" cy="461.0" r="0.6" fill="#d2a8b8"/>
<circle cx="357.0" cy="467.0" r="0.6" fill="#d2a8b8"/>
<circle cx="357.0" cy="473.0" r="0.6" fill="#d2a8b8"/>
<circle cx="357.0" cy="479.0" r="0.6" fill="#d2a8b8"/>
<circle cx="357.0" cy="485.0" r="0.6" fill="#d2a8b8"/>
<circle cx="362.0" cy="464.0" r="0.6" fill="#d2a8b8"/>
<circle cx="362.0" cy="470.0" r="0.6" fill="#d2a8b8"/>
<circle cx="362.0" cy="476.0" r="0.6" fill="#d2a8b8"/>
<circle cx="362.0" cy="482.0" r="0.6" fill="#d2a8b8"/>
<circle cx="367.0" cy="461.0" r="0.6" fill="#d2a8b8"/>
<circle cx="367.0" cy="467.0" r="0.6" fill="#d2a8b8"/>
<circle cx="367.0" cy="473.0" r="0.6" fill="#d2a8b8"/>
<circle cx="367.0" cy="479.0" r="0.6" fill="#d2a8b8"/>
<circle cx="367.0" cy="485.0" r="0.6" fill="#d2a8b8"/>
<circle cx="372.0" cy="464.0" r="0.6" fill="#d2a8b8"/>
<circle cx="372.0" cy="470.0" r="0.6" fill="#d2a8b8"/>
<circle cx="372.0" cy="476.0" r="0.6" fill="#d2a8b8"/>
<circle cx="372.0" cy="482.0" r="0.6" fill="#d2a8b8"/>
<circle cx="377.0" cy="461.0" r="0.6" fill="#d2a8b8"/>
<circle cx="377.0" cy="467.0" r="0.6" fill="#d2a8b8"/>
<circle cx="377.0" cy="473.0" r="0.6" fill="#d2a8b8"/>
<circle cx="377.0" cy="479.0" r="0.6" fill="#d2a8b8"/>
<circle cx="377.0" cy="485.0" r="0.6" fill="#d2a8b8"/>
<circle cx="382.0" cy="464.0" r="0.6" fill="#d2a8b8"/>
<circle cx="382.0" cy="470.0" r="0.6" fill="#d2a8b8"/>
<circle cx="382.0" cy="476.0" r="0.6" fill="#d2a8b8"/>
<circle cx="382.0" cy="482.0" r="0.6" fill="#d2a8b8"/>
<circle cx="387.0" cy="461.0" r="0.6" fill="#d2a8b8"/>
<circle cx="387.0" cy="467.0" r="0.6" fill="#d2a8b8"/>
<circle cx="387.0" cy="473.0" r="0.6" fill="#d2a8b8"/>
<circle cx="387.0" cy="479.0" r="0.6" fill="#d2a8b8"/>
<circle cx="387.0" cy="485.0" r="0.6" fill="#d2a8b8"/>
<circle cx="392.0" cy="464.0" r="0.6" fill="#d2a8b8"/>
<circle cx="392.0" cy="470.0" r="0.6" fill="#d2a8b8"/>
<circle cx="392.0" cy="476.0" r="0.6" fill="#d2a8b8"/>
<circle cx="392.0" cy="482.0" r="0.6" fill="#d2a8b8"/>
<circle cx="397.0" cy="461.0" r="0.6" fill="#d2a8b8"/>
<circle cx="397.0" cy="467.0" r="0.6" fill="#d2a8b8"/>
<circle cx="397.0" cy="473.0" r="0.6" fill="#d2a8b8"/>
<circle cx="397.0" cy="479.0" r="0.6" fill="#d2a8b8"/>
<circle cx="397.0" cy="485.0" r="0.6" fill="#d2a8b8"/>
<circle cx="402.0" cy="464.0" r="0.6" fill="#d2a8b8"/>
<circle cx="402.0" cy="470.0" r="0.6" fill="#d2a8b8"/>
<circle cx="402.0" cy="476.0" r="0.6" fill="#d2a8b8"/>
<circle cx="402.0" cy="482.0" r="0.6" fill="#d2a8b8"/>
<circle cx="407.0" cy="461.0" r="0.6" fill="#d2a8b8"/>
<circle cx="407.0" cy="467.0" r="0.6" fill="#d2a8b8"/>
<circle cx="407.0" cy="473.0" r="0.6" fill="#d2a8b8"/>
<circle cx="407.0" cy="479.0" r="0.6" fill="#d2a8b8"/>
<circle cx="407.0" cy="485.0" r="0.6" fill="#d2a8b8"/>
<circle cx="412.0" cy="464.0" r="0.6" fill="#d2a8b8"/>
<circle cx="412.0" cy="470.0" r="0.6" fill="#d2a8b8"/>
<circle cx="412.0" cy="476.0" r="0.6" fill="#d2a8b8"/>
<circle cx="412.0" cy="482.0" r="0.6" fill="#d2a8b8"/>
<circle cx="417.0" cy="461.0" r="0.6" fill="#d2a8b8"/>
<circle cx="417.0" cy="467.0" r="0.6" fill="#d2a8b8"/>
<circle cx="417.0" cy="473.0" r="0.6" fill="#d2a8b8"/>
<circle cx="417.0" cy="479.0" r="0.6" fill="#d2a8b8"/>
<circle cx="417.0" cy="485.0" r="0.6" fill="#d2a8b8"/>
<circle cx="422.0" cy="464.0" r="0.6" fill="#d2a8b8"/>
<circle cx="422.0" cy="470.0" r="0.6" fill="#d2a8b8"/>
<circle cx="422.0" cy="476.0" r="0.6" fill="#d2a8b8"/>
<circle cx="422.0" cy="482.0" r="0.6" fill="#d2a8b8"/>
<circle cx="427.0" cy="461.0" r="0.6" fill="#d2a8b8"/>
<circle cx="427.0" cy="467.0" r="0.6" fill="#d2a8b8"/>
<circle cx="427.0" cy="473.0" r="0.6" fill="#d2a8b8"/>
<circle cx="427.0" cy="479.0" r="0.6" fill="#d2a8b8"/>
<circle cx="427.0" cy="485.0" r="0.6" fill="#d2a8b8"/>
<circle cx="432.0" cy="464.0" r="0.6" fill="#d2a8b8"/>
<circle cx="432.0" cy="470.0" r="0.6" fill="#d2a8b8"/>
<circle cx="432.0" cy="476.0" r="0.6" fill="#d2a8b8"/>
<circle cx="432.0" cy="482.0" r="0.6" fill="#d2a8b8"/>
<circle cx="437.0" cy="461.0" r="0.6" fill="#d2a8b8"/>
<circle cx="437.0" cy="467.0" r="0.6" fill="#d2a8b8"/>
<circle cx="437.0" cy="473.0" r="0.6" fill="#d2a8b8"/>
<circle cx="437.0" cy="479.0" r="0.6" fill="#d2a8b8"/>
<circle cx="437.0" cy="485.0" r="0.6" fill="#d2a8b8"/>
<circle cx="442.0" cy="464.0" r="0.6" fill="#d2a8b8"/>
<circle cx="442.0" cy="470.0" r="0.6" fill="#d2a8b8"/>
<circle cx="442.0" cy="476.0" r="0.6" fill="#d2a8b8"/>
<circle cx="442.0" cy="482.0" r="0.6" fill="#d2a8b8"/>
<circle cx="447.0" cy="461.0" r="0.6" fill="#d2a8b8"/>
<circle cx="447.0" cy="467.0" r="0.6" fill="#d2a8b8"/>
<circle cx="447.0" cy="473.0" r="0.6" fill="#d2a8b8"/>
<circle cx="447.0" cy="479.0" r="0.6" fill="#d2a8b8"/>
<circle cx="447.0" cy="485.0" r="0.6" fill="#d2a8b8"/>
<circle cx="452.0" cy="464.0" r="0.6" fill="#d2a8b8"/>
<circle cx="452.0" cy="470.0" r="0.6" fill="#d2a8b8"/>
<circle cx="452.0" cy="476.0" r="0.6" fill="#d2a8b8"/>
<circle cx="452.0" cy="482.0" r="0.6" fill="#d2a8b8"/>
<circle cx="457.0" cy="461.0" r="0.6" fill="#d2a8b8"/>
<circle cx="457.0" cy="467.0" r="0.6" fill="#d2a8b8"/>
<circle cx="457.0" cy="473.0" r="0.6" fill="#d2a8b8"/>
<circle cx="457.0" cy="479.0" r="0.6" fill="#d2a8b8"/>
<circle cx="457.0" cy="485.0" r="0.6" fill="#d2a8b8"/>
<circle cx="462.0" cy="464.0" r="0.6" fill="#d2a8b8"/>
<circle cx="462.0" cy="470.0" r="0.6" fill="#d2a8b8"/>
<circle cx="462.0" cy="476.0" r="0.6" fill="#d2a8b8"/>
<circle cx="462.0" cy="482.0" r="0.6" fill="#d2a8b8"/>
<circle cx="467.0" cy="461.0" r="0.6" fill="#d2a8b8"/>
<circle cx="467.0" cy="467.0" r="0.6" fill="#d2a8b8"/>
<circle cx="467.0" cy="473.0" r="0.6" fill="#d2a8b8"/>
<circle cx="467.0" cy="479.0" r="0.6" fill="#d2a8b8"/>
<circle cx="467.0" cy="485.0" r="0.6" fill="#d2a8b8"/>
<circle cx="472.0" cy="464.0" r="0.6" fill="#d2a8b8"/>
<circle cx="472.0" cy="470.0" r="0.6" fill="#d2a8b8"/>
<circle cx="472.0" cy="476.0" r="0.6" fill="#d2a8b8"/>
<circle cx="472.0" cy="482.0" r="0.6" fill="#d2a8b8"/>
<circle cx="477.0" cy="461.0" r="0.6" fill="#d2a8b8"/>
<circle cx="477.0" cy="467.0" r="0.6" fill="#d2a8b8"/>
<circle cx="477.0" cy="473.0" r="0.6" fill="#d2a8b8"/>
<circle cx="477.0" cy="479.0" r="0.6" fill="#d2a8b8"/>
<circle cx="477.0" cy="485.0" r="0.6" fill="#d2a8b8"/>
<circle cx="482.0" cy="464.0" r="0.6" fill="#d2a8b8"/>
<circle cx="482.0" cy="470.0" r="0.6" fill="#d2a8b8"/>
<circle cx="482.0" cy="476.0" r="0.6" fill="#d2a8b8"/>
<circle cx="482.0" cy="482.0" r="0.6" fill="#d2a8b8"/>
<circle cx="487.0" cy="461.0" r="0.6" fill="#d2a8b8"/>
<circle cx="487.0" cy="467.0" r="0.6" fill="#d2a8b8"/>
<circle cx="487.0" cy="473.0" r="0.6" fill="#d2a8b8"/>
<circle cx="487.0" cy="479.0" r="0.6" fill="#d2a8b8"/>
<circle cx="487.0" cy="485.0" r="0.6" fill="#d2a8b8"/>
<circle cx="492.0" cy="464.0" r="0.6" fill="#d2a8b8"/>
<circle cx="492.0" cy="470.0" r="0.6" fill="#d2a8b8"/>
<circle cx="492.0" cy="476.0" r="0.6" fill="#d2a8b8"/>
<circle cx="492.0" cy="482.0" r="0.6" fill="#d2a8b8"/>
<line x1="304" y1="457.6" x2="496.6" y2="457.6" stroke="#333" stroke-width="1" stroke-dasharray="4,1.5"/>
<line x1="304.0" y1="488.0" x2="496.6" y2="488.0" stroke="#6a5a5a" stroke-width="0.8" />
<path d="M402.2,437 L417.3,437 L417.3,473.2 L439,473.2 L439,488.1 L381.6,488.1 L381.6,473.2 L402.2,473.2 Z" fill="#cfd0e6" stroke="#666" stroke-width="0.8" />
<line x1="377.5" y1="473.0" x2="377.5" y2="488.0" stroke="#444" stroke-width="0.5" />
<line x1="381.6" y1="491.5" x2="439.0" y2="491.5" stroke="#444" stroke-width="0.5" />
<text x="408.5" y="498.5" font-family='"Liberation Sans",sans-serif' font-size="5.2" fill="#333" textLength="4.0" lengthAdjust="spacingAndGlyphs" >B</text>
<text x="351.8" y="471.5" font-family='"Liberation Sans",sans-serif' font-size="5.2" fill="#333" textLength="24.4" lengthAdjust="spacingAndGlyphs" >D = 2.5 m</text>
<text x="458.2" y="477.6" font-family='"Liberation Sans",sans-serif' font-size="9.5" fill="#222" font-weight="bold" textLength="14.9" lengthAdjust="spacingAndGlyphs" >Gs*</text>
<text x="463.2" y="539.6" font-family='"Liberation Sans",sans-serif' font-size="9.5" fill="#222" font-weight="bold" textLength="10.3" lengthAdjust="spacingAndGlyphs" >Gs</text>
<line x1="499.8" y1="456.0" x2="499.8" y2="602.0" stroke="#777" stroke-width="0.6" />
<path d="M498.3,456.1 L501.3,456.1 L499.8,458.6 Z" fill="#333" />
<path d="M498.3,486.5 L501.3,486.5 L499.8,489 Z" fill="#333" />
<text transform="translate(507,480) rotate(-90)" font-family='"Liberation Sans",sans-serif' font-size="4.6" fill="#555" textLength="16" lengthAdjust="spacingAndGlyphs">2.5 m</text>
<text transform="translate(507,576) rotate(-90)" font-family='"Liberation Sans",sans-serif' font-size="4.6" fill="#555" textLength="18" lengthAdjust="spacingAndGlyphs">&gt; 10.0 m</text>
<line x1="500.8" y1="394.8" x2="491.2" y2="457.6" stroke="#333" stroke-width="0.8" stroke-dasharray="3,2"/>
<text transform="translate(495,452) rotate(-84)" font-family='"Liberation Sans",sans-serif' font-size="3.6" fill="#444" textLength="40" lengthAdjust="spacingAndGlyphs">Referentna kota terena</text>
<rect x="511.0" y="456.9" width="141.3" height="134.9" fill="#ffffff" stroke="#b8bcc8" stroke-width="0.8" />
<line x1="586.5" y1="456.9" x2="586.5" y2="591.8" stroke="#b8bcc8" stroke-width="0.8" />
<line x1="633.7" y1="456.9" x2="633.7" y2="591.8" stroke="#b8bcc8" stroke-width="0.8" />
<line x1="511.0" y1="497.2" x2="633.7" y2="497.2" stroke="#b8bcc8" stroke-width="0.8" />
<line x1="511.0" y1="538.4" x2="633.7" y2="538.4" stroke="#b8bcc8" stroke-width="0.8" />
<rect x="516.2" y="473.2" width="60.9" height="22.4" fill="#f7c896" />
<rect x="543.3" y="459.0" width="7.9" height="12.7" fill="#c6cad2" stroke="#8a8e98" stroke-width="0.5" />
<path d="M539,471.59999999999997 L556.1,471.59999999999997 L556.1,477.7 L539,477.7 Z" fill="#e0e2e8" stroke="#8a8e98" stroke-width="0.5" />
<path d="M540,477.7 L547,491.6 L555,477.7" fill="none" stroke="#d8a070" stroke-width="0.5" />
<rect x="516.2" y="511.9" width="60.9" height="24.9" fill="#f7c896" />
<rect x="543.3" y="498.0" width="7.9" height="12.4" fill="#c6cad2" stroke="#8a8e98" stroke-width="0.5" />
<path d="M539,510.29999999999995 L556.1,510.29999999999995 L556.1,516.4 L539,516.4 Z" fill="#e0e2e8" stroke="#8a8e98" stroke-width="0.5" />
<path d="M540,516.4 L547,532.8 L555,516.4" fill="none" stroke="#d8a070" stroke-width="0.5" />
<rect x="516.2" y="554.5" width="60.9" height="33.4" fill="#f7c896" />
<rect x="543.3" y="540.7" width="7.9" height="12.3" fill="#c6cad2" stroke="#8a8e98" stroke-width="0.5" />
<path d="M539,552.9 L556.1,552.9 L556.1,559.0 L539,559.0 Z" fill="#e0e2e8" stroke="#8a8e98" stroke-width="0.5" />
<path d="M540,559.0 L547,583.9 L555,559.0" fill="none" stroke="#d8a070" stroke-width="0.5" />
<path d="M519,555 C530,556 538,560 541,566 M575,555 C565,556 557,560 554,566 M544,570 L536,586 M551,570 L560,586" fill="none" stroke="#c08050" stroke-width="0.6" />
<text x="592.4" y="478.5" font-family='"Liberation Sans",sans-serif' font-size="3.6" fill="#444" textLength="27.6" lengthAdjust="spacingAndGlyphs" >Lokalno probijanje</text>
<text x="590.0" y="520.3" font-family='"Liberation Sans",sans-serif' font-size="3.6" fill="#444" textLength="38.0" lengthAdjust="spacingAndGlyphs" >Probijanje lokalnim smicanjem</text>
<text x="593.0" y="566.4" font-family='"Liberation Sans",sans-serif' font-size="3.6" fill="#444" textLength="29.0" lengthAdjust="spacingAndGlyphs" >Opšti lom tla (smicanje)</text>
<text transform="translate(640.4,587.5) rotate(-90)" font-family='"Liberation Sans",sans-serif' font-size="3.4" fill="#555" textLength="125" lengthAdjust="spacingAndGlyphs">Prema Vesiću i analizama nosivosti za plitke temelje, u slučaju krupnozrnih i sitnozrnih tala</text>
<text transform="translate(644.2,587.5) rotate(-90)" font-family='"Liberation Sans",sans-serif' font-size="3.4" fill="#555" textLength="125" lengthAdjust="spacingAndGlyphs">Prema Vesiću i analizama nosivosti za plitke temelje, u slučaju krupnozrnih i sitnozrnih tala</text>
<text transform="translate(648,587.5) rotate(-90)" font-family='"Liberation Sans",sans-serif' font-size="3.4" fill="#555" textLength="118" lengthAdjust="spacingAndGlyphs">Prema Vesiću i analizama nosivosti za plitke temelje, u slučaju krupnozrnih i sitnozrnih tala</text>
<rect x="325.5" y="592.7" width="57.5" height="60.3" fill="#d6d6d6" stroke="#333" stroke-width="0.8" />
<rect x="325.5" y="592.7" width="57.5" height="7.7" fill="#f2f25a" stroke="#333" stroke-width="0.8" />
<line x1="340.2" y1="592.7" x2="340.2" y2="653.0" stroke="#333" stroke-width="0.8" />
<line x1="325.5" y1="600.4" x2="383.0" y2="600.4" stroke="#333" stroke-width="0.6" />
<text x="328.6" y="606.8" font-family='"Liberation Sans",sans-serif' font-size="5" fill="#222" textLength="8.3" lengthAdjust="spacingAndGlyphs" >100</text>
<text x="356.7" y="606.8" font-family='"Liberation Sans",sans-serif' font-size="5" fill="#222" textLength="9.7" lengthAdjust="spacingAndGlyphs" >32.5</text>
<line x1="325.5" y1="609.2" x2="383.0" y2="609.2" stroke="#333" stroke-width="0.6" />
<text x="330.0" y="615.6" font-family='"Liberation Sans",sans-serif' font-size="5" fill="#222" textLength="5.6" lengthAdjust="spacingAndGlyphs" >90</text>
<text x="356.7" y="615.6" font-family='"Liberation Sans",sans-serif' font-size="5" fill="#222" textLength="9.7" lengthAdjust="spacingAndGlyphs" >21.5</text>
<line x1="325.5" y1="617.9" x2="383.0" y2="617.9" stroke="#333" stroke-width="0.6" />
<text x="330.0" y="624.3" font-family='"Liberation Sans",sans-serif' font-size="5" fill="#222" textLength="5.6" lengthAdjust="spacingAndGlyphs" >75</text>
<text x="356.7" y="624.3" font-family='"Liberation Sans",sans-serif' font-size="5" fill="#222" textLength="9.7" lengthAdjust="spacingAndGlyphs" >12.9</text>
<line x1="325.5" y1="626.7" x2="383.0" y2="626.7" stroke="#333" stroke-width="0.6" />
<text x="330.0" y="633.1" font-family='"Liberation Sans",sans-serif' font-size="5" fill="#222" textLength="5.6" lengthAdjust="spacingAndGlyphs" >50</text>
<text x="358.1" y="633.1" font-family='"Liberation Sans",sans-serif' font-size="5" fill="#222" textLength="7.0" lengthAdjust="spacingAndGlyphs" >7.0</text>
<line x1="325.5" y1="635.5" x2="383.0" y2="635.5" stroke="#333" stroke-width="0.6" />
<text x="330.0" y="641.9" font-family='"Liberation Sans",sans-serif' font-size="5" fill="#222" textLength="5.6" lengthAdjust="spacingAndGlyphs" >25</text>
<text x="358.1" y="641.9" font-family='"Liberation Sans",sans-serif' font-size="5" fill="#222" textLength="7.0" lengthAdjust="spacingAndGlyphs" >3.2</text>
<line x1="325.5" y1="644.2" x2="383.0" y2="644.2" stroke="#333" stroke-width="0.6" />
<text x="331.4" y="650.6" font-family='"Liberation Sans",sans-serif' font-size="5" fill="#222" textLength="2.8" lengthAdjust="spacingAndGlyphs" >0</text>
<text x="358.1" y="650.6" font-family='"Liberation Sans",sans-serif' font-size="5" fill="#222" textLength="7.0" lengthAdjust="spacingAndGlyphs" >1.1</text>
<text x="327.7" y="598.6" font-family='"Liberation Sans",sans-serif' font-size="4.6" fill="#222" textLength="10.2" lengthAdjust="spacingAndGlyphs" >RQD</text>
<text x="350.6" y="598.6" font-family='"Liberation Sans",sans-serif' font-size="4.6" fill="#222" textLength="22.0" lengthAdjust="spacingAndGlyphs" >qu(MN/m²)</text>
<line x1="320.0" y1="635.2" x2="352.0" y2="635.2" stroke="#e04060" stroke-width="0.9" />
<text x="310.0" y="637.2" font-family='"Liberation Sans",sans-serif' font-size="5.2" fill="#e04060" textLength="10.0" lengthAdjust="spacingAndGlyphs" >60%</text>
<text x="367.7" y="637.2" font-family='"Liberation Sans",sans-serif' font-size="5.2" fill="#e04060" textLength="24.3" lengthAdjust="spacingAndGlyphs" >qu=4.6 MPa</text>
<line x1="352.0" y1="635.2" x2="367.0" y2="635.2" stroke="#e04060" stroke-width="0.9" />
<rect x="394.6" y="608.0" width="37.8" height="46.0" fill="#ffffff" stroke="#777" stroke-width="0.8" />
<rect x="394.6" y="608.0" width="37.8" height="10.0" fill="#eab6c6" stroke="#777" stroke-width="0.8" />
<text x="408.2" y="615.4" font-family='"Liberation Sans",sans-serif' font-size="6.4" fill="#222" textLength="10.7" lengthAdjust="spacingAndGlyphs" >Gs*</text>
<text x="396.5" y="624.5" font-family='"Liberation Sans",sans-serif' font-size="5" fill="#333" textLength="34.0" lengthAdjust="spacingAndGlyphs" >γ = 21.5 kN/m³</text>
<text x="398.2" y="631.1" font-family='"Liberation Sans",sans-serif' font-size="5" fill="#333" textLength="30.6" lengthAdjust="spacingAndGlyphs" >c' = 40 kN/m²</text>
<text x="404.4" y="637.7" font-family='"Liberation Sans",sans-serif' font-size="5" fill="#333" textLength="18.2" lengthAdjust="spacingAndGlyphs" >φ' = 30°</text>
<text x="396.1" y="644.3" font-family='"Liberation Sans",sans-serif' font-size="5" fill="#333" textLength="34.8" lengthAdjust="spacingAndGlyphs" >Ex = 3000 MPa</text>
<text x="398.3" y="650.9" font-family='"Liberation Sans",sans-serif' font-size="5" fill="#333" textLength="30.5" lengthAdjust="spacingAndGlyphs" >ν = 0.28-0.30</text>
<rect x="438.3" y="608.0" width="37.3" height="46.0" fill="#ffffff" stroke="#777" stroke-width="0.8" />
<rect x="438.3" y="608.0" width="37.3" height="10.0" fill="#f0a482" stroke="#777" stroke-width="0.8" />
<text x="452.9" y="615.4" font-family='"Liberation Sans",sans-serif' font-size="6.4" fill="#222" textLength="8.2" lengthAdjust="spacingAndGlyphs" >Gs</text>
<text x="440.0" y="624.5" font-family='"Liberation Sans",sans-serif' font-size="5" fill="#333" textLength="34.0" lengthAdjust="spacingAndGlyphs" >γ = 24.2 kN/m³</text>
<text x="440.2" y="631.1" font-family='"Liberation Sans",sans-serif' font-size="5" fill="#333" textLength="33.5" lengthAdjust="spacingAndGlyphs" >c' = 105 kN/m²</text>
<text x="447.9" y="637.7" font-family='"Liberation Sans",sans-serif' font-size="5" fill="#333" textLength="18.2" lengthAdjust="spacingAndGlyphs" >φ' = 45°</text>
<text x="439.8" y="644.3" font-family='"Liberation Sans",sans-serif' font-size="5" fill="#333" textLength="34.3" lengthAdjust="spacingAndGlyphs" >Ex = 18000 MPa</text>
<text x="441.7" y="650.9" font-family='"Liberation Sans",sans-serif' font-size="5" fill="#333" textLength="30.5" lengthAdjust="spacingAndGlyphs" >ν = 0.25-0.28</text>
<rect x="481.5" y="619.5" width="167.5" height="18.1" fill="#d8d8d8" stroke="#333" stroke-width="0.8" />
<rect x="481.5" y="619.5" width="28.0" height="18.1" fill="#f4f04a" stroke="#333" stroke-width="0.8" />
<line x1="481.5" y1="628.5" x2="649.0" y2="628.5" stroke="#333" stroke-width="0.6" />
<line x1="481.5" y1="619.5" x2="481.5" y2="637.6" stroke="#333" stroke-width="0.6" />
<line x1="509.5" y1="619.5" x2="509.5" y2="637.6" stroke="#333" stroke-width="0.6" />
<line x1="538.0" y1="619.5" x2="538.0" y2="637.6" stroke="#333" stroke-width="0.6" />
<line x1="562.6" y1="619.5" x2="562.6" y2="637.6" stroke="#333" stroke-width="0.6" />
<line x1="596.0" y1="619.5" x2="596.0" y2="637.6" stroke="#333" stroke-width="0.6" />
<line x1="621.5" y1="619.5" x2="621.5" y2="637.6" stroke="#333" stroke-width="0.6" />
<line x1="649.0" y1="619.5" x2="649.0" y2="637.6" stroke="#333" stroke-width="0.6" />
<text x="490.3" y="626.3" font-family='"Liberation Sans",sans-serif' font-size="4.6" fill="#222" textLength="10.5" lengthAdjust="spacingAndGlyphs" >RMR</text>
<text x="484.5" y="635.2" font-family='"Liberation Sans",sans-serif' font-size="4.6" fill="#222" textLength="22.0" lengthAdjust="spacingAndGlyphs" >qu(MN/m²)</text>
<text x="516.6" y="626.3" font-family='"Liberation Sans",sans-serif' font-size="4.6" fill="#222" textLength="14.3" lengthAdjust="spacingAndGlyphs" >100-81</text>
<text x="516.6" y="635.2" font-family='"Liberation Sans",sans-serif' font-size="4.6" fill="#222" textLength="14.3" lengthAdjust="spacingAndGlyphs" >6.0-4.4</text>
<text x="544.4" y="626.3" font-family='"Liberation Sans",sans-serif' font-size="4.6" fill="#222" textLength="11.8" lengthAdjust="spacingAndGlyphs" >80-61</text>
<text x="543.1" y="635.2" font-family='"Liberation Sans",sans-serif' font-size="4.6" fill="#222" textLength="14.3" lengthAdjust="spacingAndGlyphs" >4.4-2.9</text>
<text x="573.4" y="626.3" font-family='"Liberation Sans",sans-serif' font-size="4.6" fill="#222" textLength="11.8" lengthAdjust="spacingAndGlyphs" >60-41</text>
<text x="570.9" y="635.2" font-family='"Liberation Sans",sans-serif' font-size="4.6" fill="#222" textLength="16.9" lengthAdjust="spacingAndGlyphs" >2.9-1.36</text>
<text x="602.9" y="626.3" font-family='"Liberation Sans",sans-serif' font-size="4.6" fill="#222" textLength="11.8" lengthAdjust="spacingAndGlyphs" >40-21</text>
<text x="599.0" y="635.2" font-family='"Liberation Sans",sans-serif' font-size="4.6" fill="#222" textLength="19.4" lengthAdjust="spacingAndGlyphs" >1.35-0.45</text>
<text x="630.6" y="626.3" font-family='"Liberation Sans",sans-serif' font-size="4.6" fill="#222" textLength="9.2" lengthAdjust="spacingAndGlyphs" >20-0</text>
<text x="625.5" y="635.2" font-family='"Liberation Sans",sans-serif' font-size="4.6" fill="#222" textLength="19.4" lengthAdjust="spacingAndGlyphs" >0.45-0.30</text>
<circle cx="579.7" cy="627.5" r="16.8" fill="none" stroke="#d04050" stroke-width="0.9"/>
<text x="730.0" y="360.9" font-family='"Liberation Serif",serif' font-size="7.6" fill="#222" textLength="128.2" lengthAdjust="spacingAndGlyphs" >GEOTEHNIČKI MODEL TERENA</text>
<text x="749.0" y="368.8" font-family='"Liberation Serif",serif' font-size="7.4" fill="#222" textLength="92.5" lengthAdjust="spacingAndGlyphs" >Most M6 (km: 31+793.00)</text>
<text x="753.0" y="379.7" font-family='"Liberation Serif",serif' font-size="7.2" fill="#222" textLength="79.0" lengthAdjust="spacingAndGlyphs" >Analizirani šipovi dužine:</text>
<text x="749.5" y="385.8" font-family='"Liberation Serif",serif' font-size="6.6" fill="#222" textLength="84.5" lengthAdjust="spacingAndGlyphs" >L = 9.0 m (za grupu 4 x 4) i</text>
<text x="749.5" y="392.7" font-family='"Liberation Serif",serif' font-size="6.6" fill="#222" textLength="84.5" lengthAdjust="spacingAndGlyphs" >L = 14.0 m za grupu 2 x 1).</text>
<text x="686.5" y="402.2" font-family='"Liberation Serif",serif' font-size="4.8" fill="#333" textLength="232.8" lengthAdjust="spacingAndGlyphs" >Napomena: NPV registrovan je na dubini od 1.6 m u bušotini BN-79 (kota: 273.2 m)</text>
<text x="706.3" y="420.0" font-family='"Liberation Sans",sans-serif' font-size="5.4" fill="#222" font-weight="bold" textLength="18.8" lengthAdjust="spacingAndGlyphs" >BN-79</text>
<text x="754.7" y="415.6" font-family='"Liberation Sans",sans-serif' font-size="5.4" fill="#333" textLength="29.5" lengthAdjust="spacingAndGlyphs" >qc (kN/m²)</text>
<text x="832.4" y="418.4" font-family='"Liberation Sans",sans-serif' font-size="5" fill="#2a8a4a" font-weight="bold" textLength="14.8" lengthAdjust="spacingAndGlyphs" >0.8 m</text>
<text x="832.4" y="423.4" font-family='"Liberation Sans",sans-serif' font-size="5" fill="#2a8a4a" font-weight="bold" textLength="14.8" lengthAdjust="spacingAndGlyphs" >274.8</text>
<text x="857.0" y="418.0" font-family='"Liberation Serif",serif' font-size="3.8" fill="#444" textLength="21.0" lengthAdjust="spacingAndGlyphs" >površina</text>
<text x="857.0" y="423.2" font-family='"Liberation Serif",serif' font-size="3.8" fill="#444" textLength="24.8" lengthAdjust="spacingAndGlyphs" >kota terena</text>
<text x="732.0" y="422.5" font-family='"Liberation Sans",sans-serif' font-size="3.2" fill="#8ab" textLength="4.0" lengthAdjust="spacingAndGlyphs" >0</text>
<text x="744.0" y="422.5" font-family='"Liberation Sans",sans-serif' font-size="3.2" fill="#8ab" textLength="4.0" lengthAdjust="spacingAndGlyphs" >5</text>
<text x="756.0" y="422.5" font-family='"Liberation Sans",sans-serif' font-size="3.2" fill="#8ab" textLength="4.0" lengthAdjust="spacingAndGlyphs" >10</text>
<text x="768.0" y="422.5" font-family='"Liberation Sans",sans-serif' font-size="3.2" fill="#8ab" textLength="4.0" lengthAdjust="spacingAndGlyphs" >15</text>
<text x="780.0" y="422.5" font-family='"Liberation Sans",sans-serif' font-size="3.2" fill="#8ab" textLength="4.0" lengthAdjust="spacingAndGlyphs" >20</text>
<text x="792.0" y="422.5" font-family='"Liberation Sans",sans-serif' font-size="3.2" fill="#8ab" textLength="4.0" lengthAdjust="spacingAndGlyphs" >25</text>
<rect x="684.3" y="424.7" width="221.5" height="24.4" fill="url(#dots2)" />
<rect x="684.3" y="439.8" width="221.5" height="9.3" fill="#d0e4ea" />
<rect x="684.3" y="449.1" width="221.5" height="41.3" fill="url(#dots3)" />
<rect x="684.3" y="490.4" width="221.5" height="27.0" fill="url(#lav)" />
<rect x="684.3" y="517.4" width="221.5" height="87.4" fill="url(#hl2)" />
<line x1="684.3" y1="424.7" x2="905.8" y2="424.7" stroke="#3a4a5a" stroke-width="0.9" />
<line x1="684.3" y1="449.1" x2="905.8" y2="449.1" stroke="#3a4a5a" stroke-width="0.9" />
<line x1="684.3" y1="490.4" x2="905.8" y2="490.4" stroke="#3a4a5a" stroke-width="0.9" />
<line x1="684.3" y1="517.4" x2="905.8" y2="517.4" stroke="#8a8a7a" stroke-width="1.2" />
<line x1="684.3" y1="485.2" x2="905.8" y2="485.2" stroke="#555" stroke-width="0.6" stroke-dasharray="3,2.5"/>
<line x1="684.3" y1="545.3" x2="905.8" y2="545.3" stroke="#444" stroke-width="0.8" stroke-dasharray="4,2.5"/>
<line x1="711.6" y1="426" x2="711.6" y2="545" stroke="#333" stroke-width="0.7" stroke-dasharray="3,2"/>
<line x1="719.6" y1="426" x2="719.6" y2="545" stroke="#333" stroke-width="0.7" stroke-dasharray="3,2"/>
<line x1="730.6" y1="424.7" x2="730.6" y2="560.0" stroke="#99a" stroke-width="0.35" />
<line x1="751.2" y1="424.7" x2="751.2" y2="560.0" stroke="#99a" stroke-width="0.35" />
<line x1="771.0" y1="424.7" x2="771.0" y2="560.0" stroke="#99a" stroke-width="0.35" />
<line x1="791.0" y1="424.7" x2="791.0" y2="560.0" stroke="#99a" stroke-width="0.35" />
<line x1="730.6" y1="458.0" x2="791.0" y2="458.0" stroke="#99a" stroke-width="0.35" />
<line x1="730.6" y1="468.0" x2="791.0" y2="468.0" stroke="#99a" stroke-width="0.35" />
<line x1="730.6" y1="478.0" x2="791.0" y2="478.0" stroke="#99a" stroke-width="0.35" />
<line x1="730.6" y1="500.0" x2="791.0" y2="500.0" stroke="#99a" stroke-width="0.35" />
<line x1="730.6" y1="510.0" x2="791.0" y2="510.0" stroke="#99a" stroke-width="0.35" />
<line x1="730.6" y1="525.0" x2="791.0" y2="525.0" stroke="#99a" stroke-width="0.35" />
<line x1="730.6" y1="535.0" x2="791.0" y2="535.0" stroke="#99a" stroke-width="0.35" />
<path d="M737.7,430.3 L760.7,430.8 L745,432.5 L762,434 L740,436 L733,437 L732,445 L731.9,470 L732.5,480.7 L745,483 L757.9,486 L760,489 L783.8,491 L758,494 L783,497 L762,500 L784,503 L760,506 L783,509 L765,512 L784,515" fill="none" stroke="#c040c8" stroke-width="1" />
<path d="M760,520 L775,530 L770,545 L800,548 L830,550 L800,553" fill="none" stroke="#e0a090" stroke-width="0.6" />
<rect x="784.6" y="443.0" width="12.4" height="102.0" fill="url(#pile)" />
<rect x="816.2" y="443.0" width="12.5" height="158.4" fill="url(#pile)" />
<path d="M795.6,409.3 L817.6,409.3 L817.6,430.5 L834.2,430.5 L834.2,442.9 L779.4,442.9 L779.4,430.5 L795.6,430.5 Z" fill="#d0d2ea" stroke="#555" stroke-width="0.8" />
<text transform="translate(791,545) rotate(-90)" font-family='"Liberation Sans",sans-serif' font-size="3.8" fill="#ccd" textLength="17" lengthAdjust="spacingAndGlyphs">L=9.0 m</text>
<text transform="translate(822.5,548) rotate(-90)" font-family='"Liberation Sans",sans-serif' font-size="3.8" fill="#ccd" textLength="18" lengthAdjust="spacingAndGlyphs">L=9.0 m</text>
<text x="685.3" y="433.0" font-family='"Liberation Sans",sans-serif' font-size="6.4" fill="#222" font-weight="bold" textLength="23.4" lengthAdjust="spacingAndGlyphs" >Q2al-pr</text>
<text x="720.3" y="436.2" font-family='"Liberation Sans",sans-serif' font-size="6.2" fill="#2a3ab0" font-weight="bold" textLength="15.1" lengthAdjust="spacingAndGlyphs" >NPV</text>
<text x="805.0" y="467.0" font-family='"Liberation Sans",sans-serif' font-size="5" fill="#333" font-weight="bold" textLength="4.0" lengthAdjust="spacingAndGlyphs" >B</text>
<text x="865.3" y="431.4" font-family='"Liberation Sans",sans-serif' font-size="6" fill="#222" font-weight="bold" textLength="3.7" lengthAdjust="spacingAndGlyphs" >š</text>
<text x="871.0" y="431.4" font-family='"Liberation Sans",sans-serif' font-size="6" fill="#d03a4a" textLength="34.0" lengthAdjust="spacingAndGlyphs" >(GW, SW)</text>
<text x="841.4" y="436.6" font-family='"Liberation Sans",sans-serif' font-size="5" fill="#333" font-weight="bold" textLength="28.1" lengthAdjust="spacingAndGlyphs" >Df = 1.5 m</text>
<text x="864.5" y="447.0" font-family='"Liberation Sans",sans-serif' font-size="6" fill="#222" font-weight="bold" textLength="40.5" lengthAdjust="spacingAndGlyphs" >(SPT) N = 12</text>
<text x="841.4" y="468.2" font-family='"Liberation Sans",sans-serif' font-size="6.8" fill="#222" font-weight="bold" textLength="35.6" lengthAdjust="spacingAndGlyphs" >pr-m,p,gl</text>
<text x="879.0" y="468.2" font-family='"Liberation Sans",sans-serif' font-size="6.8" fill="#d03a4a" textLength="24.3" lengthAdjust="spacingAndGlyphs" >(ML-PI)</text>
<text x="852.2" y="477.6" font-family='"Liberation Sans",sans-serif' font-size="6.4" fill="#222" font-weight="bold" textLength="35.4" lengthAdjust="spacingAndGlyphs" >(SPT) N = 9</text>
<text x="846.4" y="501.4" font-family='"Liberation Sans",sans-serif' font-size="6.8" fill="#222" font-weight="bold" textLength="19.6" lengthAdjust="spacingAndGlyphs" >š - p,</text>
<text x="867.0" y="501.4" font-family='"Liberation Sans",sans-serif' font-size="6.8" fill="#d03a4a" textLength="33.8" lengthAdjust="spacingAndGlyphs" >(GW, SW)</text>
<text x="850.5" y="507.6" font-family='"Liberation Sans",sans-serif' font-size="6.2" fill="#222" font-weight="bold" textLength="42.1" lengthAdjust="spacingAndGlyphs" >(SPT) N = 26</text>
<text x="860.5" y="531.0" font-family='"Liberation Sans",sans-serif' font-size="6.6" fill="#222" font-weight="bold" textLength="28.8" lengthAdjust="spacingAndGlyphs" >gl(PI), L</text>
<text x="863.2" y="557.4" font-family='"Liberation Sans",sans-serif' font-size="7" fill="#222" font-weight="bold" textLength="20.8" lengthAdjust="spacingAndGlyphs" >L, Gl</text>
<text x="848.8" y="566.9" font-family='"Liberation Sans",sans-serif' font-size="5.6" fill="#222" font-weight="bold" textLength="50.9" lengthAdjust="spacingAndGlyphs" >(SPT) N = 19 - 50</text>
<text x="779.6" y="587.0" font-family='"Liberation Sans",sans-serif' font-size="4.8" fill="#222" font-weight="bold" textLength="32.7" lengthAdjust="spacingAndGlyphs" >D = 900 mm</text>
<text x="688.3" y="529.0" font-family='"Liberation Sans",sans-serif' font-size="5.6" fill="#222" font-weight="bold" textLength="11.7" lengthAdjust="spacingAndGlyphs" >M22</text>
<text x="715.7" y="551.4" font-family='"Liberation Sans",sans-serif' font-size="6" fill="#222" font-weight="bold" textLength="20.9" lengthAdjust="spacingAndGlyphs" >- 11.0</text>
<line x1="914.8" y1="424.0" x2="914.8" y2="600.0" stroke="#888" stroke-width="0.6" />
<path d="M913.3,423.2 L916.3,423.2 L914.8,425.7 Z" fill="#333" />
<path d="M913.3,447.6 L916.3,447.6 L914.8,450.1 Z" fill="#333" />
<path d="M913.3,488.9 L916.3,488.9 L914.8,491.4 Z" fill="#333" />
<path d="M913.3,515.9 L916.3,515.9 L914.8,518.4 Z" fill="#333" />
<text transform="translate(921.5,444) rotate(-90)" font-family='"Liberation Sans",sans-serif' font-size="4.6" fill="#555" textLength="16" lengthAdjust="spacingAndGlyphs">2.5 m</text>
<text transform="translate(921.5,480) rotate(-90)" font-family='"Liberation Sans",sans-serif' font-size="4.6" fill="#555" textLength="20" lengthAdjust="spacingAndGlyphs">4.0 m</text>
<text transform="translate(921.5,512) rotate(-90)" font-family='"Liberation Sans",sans-serif' font-size="4.6" fill="#555" textLength="15" lengthAdjust="spacingAndGlyphs">2.5 m</text>
<text transform="translate(921.5,550) rotate(-90)" font-family='"Liberation Sans",sans-serif' font-size="4.6" fill="#555" textLength="23" lengthAdjust="spacingAndGlyphs">> 8.0 m</text>
<rect x="687.7" y="611.8" width="44.9" height="49.6" fill="#ffffff" stroke="#666" stroke-width="0.8" />
<rect x="732.6" y="613.0" width="1.6" height="49.5" fill="#b0b0b0" />
<rect x="687.7" y="611.8" width="44.9" height="9.2" fill="url(#dots)" stroke="#666" stroke-width="0.8" />
<text x="708.0" y="619.4" font-family='"Liberation Sans",sans-serif' font-size="7.6" fill="#111" font-weight="bold" textLength="4.2" lengthAdjust="spacingAndGlyphs" >š</text>
<text x="691.2" y="626.7" font-family='"Liberation Sans",sans-serif' font-size="5.4" fill="#333" textLength="37.9" lengthAdjust="spacingAndGlyphs" >γ = 20.5 kN/m³</text>
<text x="694.7" y="632.8" font-family='"Liberation Sans",sans-serif' font-size="5.4" fill="#333" textLength="30.9" lengthAdjust="spacingAndGlyphs" >c' = 0 kN/m²</text>
<text x="700.0" y="638.8" font-family='"Liberation Sans",sans-serif' font-size="5.4" fill="#333" textLength="20.2" lengthAdjust="spacingAndGlyphs" >φ' = 38°</text>
<text x="693.5" y="644.9" font-family='"Liberation Sans",sans-serif' font-size="5.4" fill="#333" textLength="33.4" lengthAdjust="spacingAndGlyphs" >Ev = 10 MPa</text>
<text x="692.2" y="650.9" font-family='"Liberation Sans",sans-serif' font-size="5.4" fill="#333" textLength="35.9" lengthAdjust="spacingAndGlyphs" >qc,sr = 5 MPa</text>
<text x="701.5" y="657.0" font-family='"Liberation Sans",sans-serif' font-size="5.4" fill="#333" textLength="17.2" lengthAdjust="spacingAndGlyphs" >N = 12</text>
<rect x="743.9" y="611.8" width="44.9" height="49.6" fill="#ffffff" stroke="#666" stroke-width="0.8" />
<rect x="788.8" y="613.0" width="1.6" height="49.5" fill="#b0b0b0" />
<rect x="743.9" y="611.8" width="44.9" height="9.2" fill="#c8e8f2" stroke="#666" stroke-width="0.8" />
<text x="754.5" y="619.4" font-family='"Liberation Sans",sans-serif' font-size="7.6" fill="#111" font-weight="bold" textLength="23.6" lengthAdjust="spacingAndGlyphs" >m-p,pr</text>
<text x="748.2" y="626.7" font-family='"Liberation Sans",sans-serif' font-size="5.4" fill="#333" textLength="36.3" lengthAdjust="spacingAndGlyphs" >γ= 18.5 kN/m³</text>
<text x="750.9" y="632.8" font-family='"Liberation Sans",sans-serif' font-size="5.4" fill="#333" textLength="30.9" lengthAdjust="spacingAndGlyphs" >c' = 7 kN/m²</text>
<text x="756.2" y="638.8" font-family='"Liberation Sans",sans-serif' font-size="5.4" fill="#333" textLength="20.2" lengthAdjust="spacingAndGlyphs" >φ' = 19°</text>
<text x="748.9" y="644.9" font-family='"Liberation Sans",sans-serif' font-size="5.4" fill="#333" textLength="35.0" lengthAdjust="spacingAndGlyphs" >Ev = 2.5 MPa</text>
<text x="746.0" y="650.9" font-family='"Liberation Sans",sans-serif' font-size="5.4" fill="#333" textLength="40.8" lengthAdjust="spacingAndGlyphs" >qc,sr = 1.2 MPa</text>
<text x="759.3" y="657.0" font-family='"Liberation Sans",sans-serif' font-size="5.4" fill="#333" textLength="14.0" lengthAdjust="spacingAndGlyphs" >N = 9</text>
<rect x="799.7" y="611.8" width="43.9" height="49.6" fill="#ffffff" stroke="#666" stroke-width="0.8" />
<rect x="843.6" y="613.0" width="1.6" height="49.5" fill="#b0b0b0" />
<rect x="799.7" y="611.8" width="43.9" height="9.2" fill="#cdc6f0" stroke="#666" stroke-width="0.8" />
<text x="816.0" y="619.4" font-family='"Liberation Sans",sans-serif' font-size="7.6" fill="#111" font-weight="bold" textLength="11.4" lengthAdjust="spacingAndGlyphs" >š-p</text>
<text x="802.7" y="626.7" font-family='"Liberation Sans",sans-serif' font-size="5.4" fill="#333" textLength="37.9" lengthAdjust="spacingAndGlyphs" >γ = 20.5 kN/m³</text>
<text x="806.2" y="632.8" font-family='"Liberation Sans",sans-serif' font-size="5.4" fill="#333" textLength="30.9" lengthAdjust="spacingAndGlyphs" >c' = 0 kN/m²</text>
<text x="811.5" y="638.8" font-family='"Liberation Sans",sans-serif' font-size="5.4" fill="#333" textLength="20.2" lengthAdjust="spacingAndGlyphs" >φ' = 34°</text>
<text x="802.5" y="644.9" font-family='"Liberation Sans",sans-serif' font-size="5.4" fill="#333" textLength="38.2" lengthAdjust="spacingAndGlyphs" >Es = 35.0 MPa</text>
<text x="802.1" y="650.9" font-family='"Liberation Sans",sans-serif' font-size="5.4" fill="#333" textLength="39.2" lengthAdjust="spacingAndGlyphs" >qc,sr = 18 MPa</text>
<text x="813.0" y="657.0" font-family='"Liberation Sans",sans-serif' font-size="5.4" fill="#333" textLength="17.2" lengthAdjust="spacingAndGlyphs" >N = 35</text>
<rect x="854.5" y="611.8" width="45.2" height="49.6" fill="#ffffff" stroke="#666" stroke-width="0.8" />
<rect x="899.7" y="613.0" width="1.6" height="49.5" fill="#b0b0b0" />
<rect x="854.5" y="611.8" width="45.2" height="9.2" fill="#e6eea2" stroke="#666" stroke-width="0.8" />
<text x="865.7" y="619.4" font-family='"Liberation Sans",sans-serif' font-size="7.6" fill="#111" font-weight="bold" textLength="22.8" lengthAdjust="spacingAndGlyphs" >glPI, L</text>
<text x="859.0" y="626.7" font-family='"Liberation Sans",sans-serif' font-size="5.4" fill="#333" textLength="36.3" lengthAdjust="spacingAndGlyphs" >γ= 20.3 kN/m³</text>
<text x="860.0" y="632.8" font-family='"Liberation Sans",sans-serif' font-size="5.4" fill="#333" textLength="34.1" lengthAdjust="spacingAndGlyphs" >c' = 13 kN/m²</text>
<text x="867.0" y="638.8" font-family='"Liberation Sans",sans-serif' font-size="5.4" fill="#333" textLength="20.2" lengthAdjust="spacingAndGlyphs" >φ' = 29°</text>
<text x="857.5" y="644.9" font-family='"Liberation Sans",sans-serif' font-size="5.4" fill="#333" textLength="39.2" lengthAdjust="spacingAndGlyphs" >Mv = 12.8 MPa</text>
<text x="857.5" y="650.9" font-family='"Liberation Sans",sans-serif' font-size="5.4" fill="#333" textLength="39.2" lengthAdjust="spacingAndGlyphs" >qc,sr = 15 MPa</text>
<text x="868.5" y="657.0" font-family='"Liberation Sans",sans-serif' font-size="5.4" fill="#333" textLength="17.2" lengthAdjust="spacingAndGlyphs" >N = 25</text>
<text x="1002.0" y="352.6" font-family='"Liberation Serif",serif' font-size="7" fill="#333" textLength="186.0" lengthAdjust="spacingAndGlyphs" >PRELIMINARNI GEOTEHNIČKI MODEL TERENA</text>
<text x="1005.4" y="362.4" font-family='"Liberation Serif",serif' font-size="8.6" fill="#111" font-weight="bold" textLength="26.1" lengthAdjust="spacingAndGlyphs" >GTM-2</text>
<text x="1034.0" y="362.4" font-family='"Liberation Serif",serif' font-size="8" fill="#222" textLength="79.0" lengthAdjust="spacingAndGlyphs" >- srednji stubovi mosta</text>
<text x="1114.5" y="362.4" font-family='"Liberation Serif",serif' font-size="8.6" fill="#111" font-weight="bold" textLength="11.0" lengthAdjust="spacingAndGlyphs" >M3</text>
<text x="1127.5" y="362.4" font-family='"Liberation Serif",serif' font-size="8" fill="#222" textLength="56.8" lengthAdjust="spacingAndGlyphs" >(km: 18+400.00)</text>
<text x="1066.0" y="372.4" font-family='"Liberation Serif",serif' font-size="7" fill="#333" textLength="76.0" lengthAdjust="spacingAndGlyphs" >Analizirani stojeci šipovi</text>
<text x="1040.0" y="380.6" font-family='"Liberation Serif",serif' font-size="7" fill="#333" textLength="126.0" lengthAdjust="spacingAndGlyphs" >dužine L = 8.0 m i prečnika D = 1200 mm</text>
<text x="1033.0" y="396.0" font-family='"Liberation Serif",serif' font-size="5.6" fill="#333" textLength="134.0" lengthAdjust="spacingAndGlyphs" >Napomena: NPV je registrovan na dubini od 3.0 m</text>
<text x="1138.0" y="407.6" font-family='"Liberation Sans",sans-serif' font-size="5.4" fill="#333" textLength="14.0" lengthAdjust="spacingAndGlyphs" >0.0 m</text>
<text x="1124.0" y="413.4" font-family='"Liberation Sans",sans-serif' font-size="5.4" fill="#3a8a5a" textLength="28.0" lengthAdjust="spacingAndGlyphs" >= 277.8</text>
<line x1="1124.0" y1="408.6" x2="1152.0" y2="408.6" stroke="#555" stroke-width="0.4" />
<text x="1161.0" y="406.2" font-family='"Liberation Serif",serif' font-size="4.2" fill="#444" textLength="24.0" lengthAdjust="spacingAndGlyphs" >površina</text>
<text x="1160.0" y="412.4" font-family='"Liberation Serif",serif' font-size="4.2" fill="#444" textLength="25.0" lengthAdjust="spacingAndGlyphs" >kota terena</text>
<rect x="992.1" y="415.3" width="213.5" height="33.9" fill="url(#dots2)" />
<rect x="992.1" y="449.2" width="213.5" height="39.6" fill="url(#circ)" />
<rect x="992.1" y="488.8" width="213.5" height="32.2" fill="url(#beige)" />
<rect x="992.1" y="521.0" width="213.5" height="14.3" fill="#e8c4c2" />
<circle cx="994.1" cy="524.0" r="0.5" fill="#d4a8a8"/>
<circle cx="994.1" cy="528.0" r="0.5" fill="#d4a8a8"/>
<circle cx="994.1" cy="532.0" r="0.5" fill="#d4a8a8"/>
<circle cx="998.9" cy="526.0" r="0.5" fill="#d4a8a8"/>
<circle cx="998.9" cy="530.0" r="0.5" fill="#d4a8a8"/>
<circle cx="998.9" cy="534.0" r="0.5" fill="#d4a8a8"/>
<circle cx="1003.7" cy="524.0" r="0.5" fill="#d4a8a8"/>
<circle cx="1003.7" cy="528.0" r="0.5" fill="#d4a8a8"/>
<circle cx="1003.7" cy="532.0" r="0.5" fill="#d4a8a8"/>
<circle cx="1008.5" cy="526.0" r="0.5" fill="#d4a8a8"/>
<circle cx="1008.5" cy="530.0" r="0.5" fill="#d4a8a8"/>
<circle cx="1008.5" cy="534.0" r="0.5" fill="#d4a8a8"/>
<circle cx="1013.3" cy="524.0" r="0.5" fill="#d4a8a8"/>
<circle cx="1013.3" cy="528.0" r="0.5" fill="#d4a8a8"/>
<circle cx="1013.3" cy="532.0" r="0.5" fill="#d4a8a8"/>
<circle cx="1018.1" cy="526.0" r="0.5" fill="#d4a8a8"/>
<circle cx="1018.1" cy="530.0" r="0.5" fill="#d4a8a8"/>
<circle cx="1018.1" cy="534.0" r="0.5" fill="#d4a8a8"/>
<circle cx="1022.9" cy="524.0" r="0.5" fill="#d4a8a8"/>
<circle cx="1022.9" cy="528.0" r="0.5" fill="#d4a8a8"/>
<circle cx="1022.9" cy="532.0" r="0.5" fill="#d4a8a8"/>
<circle cx="1027.7" cy="526.0" r="0.5" fill="#d4a8a8"/>
<circle cx="1027.7" cy="530.0" r="0.5" fill="#d4a8a8"/>
<circle cx="1027.7" cy="534.0" r="0.5" fill="#d4a8a8"/>
<circle cx="1032.5" cy="524.0" r="0.5" fill="#d4a8a8"/>
<circle cx="1032.5" cy="528.0" r="0.5" fill="#d4a8a8"/>
<circle cx="1032.5" cy="532.0" r="0.5" fill="#d4a8a8"/>
<circle cx="1037.3" cy="526.0" r="0.5" fill="#d4a8a8"/>
<circle cx="1037.3" cy="530.0" r="0.5" fill="#d4a8a8"/>
<circle cx="1037.3" cy="534.0" r="0.5" fill="#d4a8a8"/>
<circle cx="1042.1" cy="524.0" r="0.5" fill="#d4a8a8"/>
<circle cx="1042.1" cy="528.0" r="0.5" fill="#d4a8a8"/>
<circle cx="1042.1" cy="532.0" r="0.5" fill="#d4a8a8"/>
<circle cx="1046.9" cy="526.0" r="0.5" fill="#d4a8a8"/>
<circle cx="1046.9" cy="530.0" r="0.5" fill="#d4a8a8"/>
<circle cx="1046.9" cy="534.0" r="0.5" fill="#d4a8a8"/>
<circle cx="1051.7" cy="524.0" r="0.5" fill="#d4a8a8"/>
<circle cx="1051.7" cy="528.0" r="0.5" fill="#d4a8a8"/>
<circle cx="1051.7" cy="532.0" r="0.5" fill="#d4a8a8"/>
<circle cx="1056.5" cy="526.0" r="0.5" fill="#d4a8a8"/>
<circle cx="1056.5" cy="530.0" r="0.5" fill="#d4a8a8"/>
<circle cx="1056.5" cy="534.0" r="0.5" fill="#d4a8a8"/>
<circle cx="1061.3" cy="524.0" r="0.5" fill="#d4a8a8"/>
<circle cx="1061.3" cy="528.0" r="0.5" fill="#d4a8a8"/>
<circle cx="1061.3" cy="532.0" r="0.5" fill="#d4a8a8"/>
<circle cx="1066.1" cy="526.0" r="0.5" fill="#d4a8a8"/>
<circle cx="1066.1" cy="530.0" r="0.5" fill="#d4a8a8"/>
<circle cx="1066.1" cy="534.0" r="0.5" fill="#d4a8a8"/>
<circle cx="1070.9" cy="524.0" r="0.5" fill="#d4a8a8"/>
<circle cx="1070.9" cy="528.0" r="0.5" fill="#d4a8a8"/>
<circle cx="1070.9" cy="532.0" r="0.5" fill="#d4a8a8"/>
<circle cx="1075.7" cy="526.0" r="0.5" fill="#d4a8a8"/>
<circle cx="1075.7" cy="530.0" r="0.5" fill="#d4a8a8"/>
<circle cx="1075.7" cy="534.0" r="0.5" fill="#d4a8a8"/>
<circle cx="1080.5" cy="524.0" r="0.5" fill="#d4a8a8"/>
<circle cx="1080.5" cy="528.0" r="0.5" fill="#d4a8a8"/>
<circle cx="1080.5" cy="532.0" r="0.5" fill="#d4a8a8"/>
<circle cx="1085.3" cy="526.0" r="0.5" fill="#d4a8a8"/>
<circle cx="1085.3" cy="530.0" r="0.5" fill="#d4a8a8"/>
<circle cx="1085.3" cy="534.0" r="0.5" fill="#d4a8a8"/>
<circle cx="1090.1" cy="524.0" r="0.5" fill="#d4a8a8"/>
<circle cx="1090.1" cy="528.0" r="0.5" fill="#d4a8a8"/>
<circle cx="1090.1" cy="532.0" r="0.5" fill="#d4a8a8"/>
<circle cx="1094.9" cy="526.0" r="0.5" fill="#d4a8a8"/>
<circle cx="1094.9" cy="530.0" r="0.5" fill="#d4a8a8"/>
<circle cx="1094.9" cy="534.0" r="0.5" fill="#d4a8a8"/>
<circle cx="1099.7" cy="524.0" r="0.5" fill="#d4a8a8"/>
<circle cx="1099.7" cy="528.0" r="0.5" fill="#d4a8a8"/>
<circle cx="1099.7" cy="532.0" r="0.5" fill="#d4a8a8"/>
<circle cx="1104.5" cy="526.0" r="0.5" fill="#d4a8a8"/>
<circle cx="1104.5" cy="530.0" r="0.5" fill="#d4a8a8"/>
<circle cx="1104.5" cy="534.0" r="0.5" fill="#d4a8a8"/>
<circle cx="1109.3" cy="524.0" r="0.5" fill="#d4a8a8"/>
<circle cx="1109.3" cy="528.0" r="0.5" fill="#d4a8a8"/>
<circle cx="1109.3" cy="532.0" r="0.5" fill="#d4a8a8"/>
<circle cx="1114.1" cy="526.0" r="0.5" fill="#d4a8a8"/>
<circle cx="1114.1" cy="530.0" r="0.5" fill="#d4a8a8"/>
<circle cx="1114.1" cy="534.0" r="0.5" fill="#d4a8a8"/>
<circle cx="1118.9" cy="524.0" r="0.5" fill="#d4a8a8"/>
<circle cx="1118.9" cy="528.0" r="0.5" fill="#d4a8a8"/>
<circle cx="1118.9" cy="532.0" r="0.5" fill="#d4a8a8"/>
<circle cx="1123.7" cy="526.0" r="0.5" fill="#d4a8a8"/>
<circle cx="1123.7" cy="530.0" r="0.5" fill="#d4a8a8"/>
<circle cx="1123.7" cy="534.0" r="0.5" fill="#d4a8a8"/>
<circle cx="1128.5" cy="524.0" r="0.5" fill="#d4a8a8"/>
<circle cx="1128.5" cy="528.0" r="0.5" fill="#d4a8a8"/>
<circle cx="1128.5" cy="532.0" r="0.5" fill="#d4a8a8"/>
<circle cx="1133.3" cy="526.0" r="0.5" fill="#d4a8a8"/>
<circle cx="1133.3" cy="530.0" r="0.5" fill="#d4a8a8"/>
<circle cx="1133.3" cy="534.0" r="0.5" fill="#d4a8a8"/>
<circle cx="1138.1" cy="524.0" r="0.5" fill="#d4a8a8"/>
<circle cx="1138.1" cy="528.0" r="0.5" fill="#d4a8a8"/>
<circle cx="1138.1" cy="532.0" r="0.5" fill="#d4a8a8"/>
<circle cx="1142.9" cy="526.0" r="0.5" fill="#d4a8a8"/>
<circle cx="1142.9" cy="530.0" r="0.5" fill="#d4a8a8"/>
<circle cx="1142.9" cy="534.0" r="0.5" fill="#d4a8a8"/>
<circle cx="1147.7" cy="524.0" r="0.5" fill="#d4a8a8"/>
<circle cx="1147.7" cy="528.0" r="0.5" fill="#d4a8a8"/>
<circle cx="1147.7" cy="532.0" r="0.5" fill="#d4a8a8"/>
<circle cx="1152.5" cy="526.0" r="0.5" fill="#d4a8a8"/>
<circle cx="1152.5" cy="530.0" r="0.5" fill="#d4a8a8"/>
<circle cx="1152.5" cy="534.0" r="0.5" fill="#d4a8a8"/>
<circle cx="1157.3" cy="524.0" r="0.5" fill="#d4a8a8"/>
<circle cx="1157.3" cy="528.0" r="0.5" fill="#d4a8a8"/>
<circle cx="1157.3" cy="532.0" r="0.5" fill="#d4a8a8"/>
<circle cx="1162.1" cy="526.0" r="0.5" fill="#d4a8a8"/>
<circle cx="1162.1" cy="530.0" r="0.5" fill="#d4a8a8"/>
<circle cx="1162.1" cy="534.0" r="0.5" fill="#d4a8a8"/>
<circle cx="1166.9" cy="524.0" r="0.5" fill="#d4a8a8"/>
<circle cx="1166.9" cy="528.0" r="0.5" fill="#d4a8a8"/>
<circle cx="1166.9" cy="532.0" r="0.5" fill="#d4a8a8"/>
<circle cx="1171.7" cy="526.0" r="0.5" fill="#d4a8a8"/>
<circle cx="1171.7" cy="530.0" r="0.5" fill="#d4a8a8"/>
<circle cx="1171.7" cy="534.0" r="0.5" fill="#d4a8a8"/>
<circle cx="1176.5" cy="524.0" r="0.5" fill="#d4a8a8"/>
<circle cx="1176.5" cy="528.0" r="0.5" fill="#d4a8a8"/>
<circle cx="1176.5" cy="532.0" r="0.5" fill="#d4a8a8"/>
<circle cx="1181.3" cy="526.0" r="0.5" fill="#d4a8a8"/>
<circle cx="1181.3" cy="530.0" r="0.5" fill="#d4a8a8"/>
<circle cx="1181.3" cy="534.0" r="0.5" fill="#d4a8a8"/>
<circle cx="1186.1" cy="524.0" r="0.5" fill="#d4a8a8"/>
<circle cx="1186.1" cy="528.0" r="0.5" fill="#d4a8a8"/>
<circle cx="1186.1" cy="532.0" r="0.5" fill="#d4a8a8"/>
<circle cx="1190.9" cy="526.0" r="0.5" fill="#d4a8a8"/>
<circle cx="1190.9" cy="530.0" r="0.5" fill="#d4a8a8"/>
<circle cx="1190.9" cy="534.0" r="0.5" fill="#d4a8a8"/>
<circle cx="1195.7" cy="524.0" r="0.5" fill="#d4a8a8"/>
<circle cx="1195.7" cy="528.0" r="0.5" fill="#d4a8a8"/>
<circle cx="1195.7" cy="532.0" r="0.5" fill="#d4a8a8"/>
<circle cx="1200.5" cy="526.0" r="0.5" fill="#d4a8a8"/>
<circle cx="1200.5" cy="530.0" r="0.5" fill="#d4a8a8"/>
<circle cx="1200.5" cy="534.0" r="0.5" fill="#d4a8a8"/>
<circle cx="1205.3" cy="524.0" r="0.5" fill="#d4a8a8"/>
<circle cx="1205.3" cy="528.0" r="0.5" fill="#d4a8a8"/>
<circle cx="1205.3" cy="532.0" r="0.5" fill="#d4a8a8"/>
<rect x="992.1" y="535.3" width="213.5" height="65.5" fill="url(#hatch3)" />
<line x1="992.1" y1="415.3" x2="1205.6" y2="415.3" stroke="#556" stroke-width="0.8" />
<line x1="992.1" y1="449.2" x2="1205.6" y2="449.2" stroke="#2a5a6a" stroke-width="0.8" />
<line x1="992.1" y1="488.8" x2="1205.6" y2="488.8" stroke="#455" stroke-width="0.8" />
<line x1="992.1" y1="521.0" x2="1205.6" y2="521.0" stroke="#7a5a5a" stroke-width="0.7" />
<line x1="992.1" y1="535.3" x2="1205.6" y2="535.3" stroke="#7a5a5a" stroke-width="0.7" />
<line x1="992" y1="457.5" x2="1205.6" y2="457.5" stroke="#1a3a6a" stroke-width="1.1" stroke-dasharray="5,4"/>
<text x="1009.5" y="456.0" font-family='"Liberation Sans",sans-serif' font-size="5.8" fill="#2a3ab0" font-weight="bold" textLength="12.5" lengthAdjust="spacingAndGlyphs" >NPV</text>
<rect x="1054.8" y="449.0" width="16.1" height="106.2" fill="url(#pile)" />
<rect x="1094.4" y="449.0" width="16.4" height="106.2" fill="url(#pile)" />
<path d="M1069.2,410.4 L1094.6,410.4 L1094.6,434.6 L1113.5,434.6 L1113.5,449.2 L1050.3,449.2 L1050.3,434.6 L1069.2,434.6 Z" fill="#d2d4ea" stroke="#555" stroke-width="0.8" />
<text x="1078.0" y="461.2" font-family='"Liberation Sans",sans-serif' font-size="6" fill="#333" font-weight="bold" textLength="4.5" lengthAdjust="spacingAndGlyphs" >B</text>
<line x1="1062.0" y1="458.0" x2="1102.0" y2="458.0" stroke="#333" stroke-width="0.5" />
<line x1="1047.7" y1="416.0" x2="1047.7" y2="448.0" stroke="#444" stroke-width="0.5" />
<text transform="translate(1045,448) rotate(-90)" font-family='"Liberation Sans",sans-serif' font-size="5" fill="#333" font-weight="bold" textLength="22" lengthAdjust="spacingAndGlyphs">Df = 2.6 m</text>
<text transform="translate(1063.5,513) rotate(-90)" font-family='"Liberation Sans",sans-serif' font-size="4" fill="#dde" textLength="14" lengthAdjust="spacingAndGlyphs">L=8.0 m</text>
<text transform="translate(1103.5,513) rotate(-90)" font-family='"Liberation Sans",sans-serif' font-size="4" fill="#dde" textLength="14" lengthAdjust="spacingAndGlyphs">L=8.0 m</text>
<text x="1165.3" y="428.8" font-family='"Liberation Sans",sans-serif' font-size="7.6" fill="#222" font-weight="bold" textLength="31.7" lengthAdjust="spacingAndGlyphs" >p-pr,gl</text>
<text x="1163.8" y="471.2" font-family='"Liberation Sans",sans-serif' font-size="7.6" fill="#222" font-weight="bold" textLength="30.2" lengthAdjust="spacingAndGlyphs" >š-p,pr</text>
<text x="1166.7" y="502.6" font-family='"Liberation Sans",sans-serif' font-size="8.4" fill="#222" font-weight="bold" textLength="14.3" lengthAdjust="spacingAndGlyphs" >Ga</text>
<text x="1181.5" y="498.5" font-family='"Liberation Sans",sans-serif' font-size="4.4" fill="#222" font-weight="bold" textLength="11.2" lengthAdjust="spacingAndGlyphs" >pr-r</text>
<text x="1168.0" y="531.4" font-family='"Liberation Sans",sans-serif' font-size="8.4" fill="#222" font-weight="bold" textLength="19.0" lengthAdjust="spacingAndGlyphs" >Ga*</text>
<text x="1169.0" y="551.6" font-family='"Liberation Sans",sans-serif' font-size="9" fill="#222" font-weight="bold" textLength="13.6" lengthAdjust="spacingAndGlyphs" >Ga</text>
<text x="1122.0" y="544.4" font-family='"Liberation Sans",sans-serif' font-size="4.4" fill="#444" textLength="28.0" lengthAdjust="spacingAndGlyphs" >uklještenje</text>
<text x="1127.0" y="549.6" font-family='"Liberation Sans",sans-serif' font-size="4.4" fill="#444" textLength="13.0" lengthAdjust="spacingAndGlyphs" >1.5 m</text>
<line x1="1118.0" y1="537.0" x2="1118.0" y2="554.0" stroke="#444" stroke-width="0.5" />
<text x="1064.0" y="566.6" font-family='"Liberation Sans",sans-serif' font-size="4.6" fill="#222" font-weight="bold" textLength="32.0" lengthAdjust="spacingAndGlyphs" >D = 1200 mm</text>
<line x1="1210.5" y1="415.0" x2="1210.5" y2="575.0" stroke="#888" stroke-width="0.6" />
<path d="M1209,413.8 L1212,413.8 L1210.5,416.3 Z" fill="#333" />
<path d="M1209,447.7 L1212,447.7 L1210.5,450.2 Z" fill="#333" />
<path d="M1209,487.3 L1212,487.3 L1210.5,489.8 Z" fill="#333" />
<path d="M1209,519.5 L1212,519.5 L1210.5,522 Z" fill="#333" />
<path d="M1209,533.8 L1212,533.8 L1210.5,536.3 Z" fill="#333" />
<text transform="translate(1218,440) rotate(-90)" font-family='"Liberation Sans",sans-serif' font-size="4.6" fill="#666" textLength="16" lengthAdjust="spacingAndGlyphs">3.0 m</text>
<text transform="translate(1218,478) rotate(-90)" font-family='"Liberation Sans",sans-serif' font-size="4.6" fill="#666" textLength="16" lengthAdjust="spacingAndGlyphs">3.5 m</text>
<text transform="translate(1218,512) rotate(-90)" font-family='"Liberation Sans",sans-serif' font-size="4.6" fill="#666" textLength="15" lengthAdjust="spacingAndGlyphs">2.5 m</text>
<text transform="translate(1218,533) rotate(-90)" font-family='"Liberation Sans",sans-serif' font-size="4.6" fill="#666" textLength="10" lengthAdjust="spacingAndGlyphs">1 m</text>
<text transform="translate(1218,568) rotate(-90)" font-family='"Liberation Sans",sans-serif' font-size="4.6" fill="#666" textLength="23" lengthAdjust="spacingAndGlyphs">> 10.0 m</text>
<rect x="978.3" y="606.6" width="43.5" height="47.7" fill="#ffffff" stroke="#666" stroke-width="0.8" />
<rect x="979.8" y="654.3" width="43.5" height="1.3" fill="#b8b8b8" />
<rect x="978.3" y="606.6" width="43.5" height="9.1" fill="#b8ecf4" stroke="#666" stroke-width="0.8" />
<text x="988.7" y="614.0" font-family='"Liberation Sans",sans-serif' font-size="7.4" fill="#111" font-weight="bold" textLength="22.6" lengthAdjust="spacingAndGlyphs" >p-pr,gl</text>
<text x="981.1" y="622.6" font-family='"Liberation Sans",sans-serif' font-size="5.4" fill="#333" textLength="37.9" lengthAdjust="spacingAndGlyphs" >γ = 19.0 kN/m³</text>
<text x="984.6" y="629.5" font-family='"Liberation Sans",sans-serif' font-size="5.4" fill="#333" textLength="30.9" lengthAdjust="spacingAndGlyphs" >c' = 5 kN/m²</text>
<text x="989.9" y="636.4" font-family='"Liberation Sans",sans-serif' font-size="5.4" fill="#333" textLength="20.2" lengthAdjust="spacingAndGlyphs" >φ' = 27°</text>
<text x="982.9" y="643.3" font-family='"Liberation Sans",sans-serif' font-size="5.4" fill="#333" textLength="34.3" lengthAdjust="spacingAndGlyphs" >Mv = 10 MPa</text>
<text x="983.4" y="650.2" font-family='"Liberation Sans",sans-serif' font-size="5.4" fill="#333" textLength="33.4" lengthAdjust="spacingAndGlyphs" >Es = 12 MPa</text>
<rect x="1027.3" y="606.6" width="43.1" height="47.7" fill="#ffffff" stroke="#666" stroke-width="0.8" />
<rect x="1028.8" y="654.3" width="43.1" height="1.3" fill="#b8b8b8" />
<rect x="1027.3" y="606.6" width="43.1" height="9.1" fill="#a6e4ee" stroke="#666" stroke-width="0.8" />
<text x="1038.6" y="614.0" font-family='"Liberation Sans",sans-serif' font-size="7.4" fill="#111" font-weight="bold" textLength="20.6" lengthAdjust="spacingAndGlyphs" >š-p,pr</text>
<text x="1029.9" y="622.6" font-family='"Liberation Sans",sans-serif' font-size="5.4" fill="#333" textLength="37.9" lengthAdjust="spacingAndGlyphs" >γ = 21.0 kN/m³</text>
<text x="1033.4" y="629.5" font-family='"Liberation Sans",sans-serif' font-size="5.4" fill="#333" textLength="30.9" lengthAdjust="spacingAndGlyphs" >c' = 0 kN/m²</text>
<text x="1038.7" y="636.4" font-family='"Liberation Sans",sans-serif' font-size="5.4" fill="#333" textLength="20.2" lengthAdjust="spacingAndGlyphs" >φ' = 38°</text>
<text x="1031.7" y="643.3" font-family='"Liberation Sans",sans-serif' font-size="5.4" fill="#333" textLength="34.3" lengthAdjust="spacingAndGlyphs" >Mv = 20 MPa</text>
<text x="1032.2" y="650.2" font-family='"Liberation Sans",sans-serif' font-size="5.4" fill="#333" textLength="33.4" lengthAdjust="spacingAndGlyphs" >Es = 19 MPa</text>
<rect x="1074.8" y="606.6" width="43.1" height="47.7" fill="#ffffff" stroke="#666" stroke-width="0.8" />
<rect x="1076.3" y="654.3" width="43.1" height="1.3" fill="#b8b8b8" />
<rect x="1074.8" y="606.6" width="43.1" height="9.1" fill="#d8d0c4" stroke="#666" stroke-width="0.8" />
<text x="1091.4" y="614.0" font-family='"Liberation Sans",sans-serif' font-size="7.4" fill="#111" font-weight="bold" textLength="9.9" lengthAdjust="spacingAndGlyphs" >Ga</text>
<text x="1077.4" y="622.6" font-family='"Liberation Sans",sans-serif' font-size="5.4" fill="#333" textLength="37.9" lengthAdjust="spacingAndGlyphs" >γ = 20.0 kN/m³</text>
<text x="1079.3" y="629.5" font-family='"Liberation Sans",sans-serif' font-size="5.4" fill="#333" textLength="34.1" lengthAdjust="spacingAndGlyphs" >c' = 18 kN/m²</text>
<text x="1086.2" y="636.4" font-family='"Liberation Sans",sans-serif' font-size="5.4" fill="#333" textLength="20.2" lengthAdjust="spacingAndGlyphs" >φ' = 28°</text>
<text x="1079.2" y="643.3" font-family='"Liberation Sans",sans-serif' font-size="5.4" fill="#333" textLength="34.3" lengthAdjust="spacingAndGlyphs" >Mv = 15 MPa</text>
<text x="1079.7" y="650.2" font-family='"Liberation Sans",sans-serif' font-size="5.4" fill="#333" textLength="33.4" lengthAdjust="spacingAndGlyphs" >Es = 12 MPa</text>
<rect x="1121.8" y="606.6" width="43.1" height="47.7" fill="#ffffff" stroke="#666" stroke-width="0.8" />
<rect x="1123.3" y="654.3" width="43.1" height="1.3" fill="#b8b8b8" />
<rect x="1121.8" y="606.6" width="43.1" height="9.1" fill="#e8b2b4" stroke="#666" stroke-width="0.8" />
<text x="1137.0" y="614.0" font-family='"Liberation Sans",sans-serif' font-size="7.4" fill="#111" font-weight="bold" textLength="12.8" lengthAdjust="spacingAndGlyphs" >Ga*</text>
<text x="1124.4" y="622.6" font-family='"Liberation Sans",sans-serif' font-size="5.4" fill="#333" textLength="37.9" lengthAdjust="spacingAndGlyphs" >γ = 21.5 kN/m³</text>
<text x="1126.3" y="629.5" font-family='"Liberation Sans",sans-serif' font-size="5.4" fill="#333" textLength="34.1" lengthAdjust="spacingAndGlyphs" >c' = 15 kN/m²</text>
<text x="1133.2" y="636.4" font-family='"Liberation Sans",sans-serif' font-size="5.4" fill="#333" textLength="20.2" lengthAdjust="spacingAndGlyphs" >φ' = 30°</text>
<text x="1123.4" y="643.3" font-family='"Liberation Sans",sans-serif' font-size="5.4" fill="#333" textLength="39.8" lengthAdjust="spacingAndGlyphs" >Ex = 1800 MPa</text>
<text x="1126.0" y="650.2" font-family='"Liberation Sans",sans-serif' font-size="5.4" fill="#333" textLength="34.7" lengthAdjust="spacingAndGlyphs" >qu &gt; 0.9 MPa</text>
<rect x="1169.6" y="606.6" width="42.2" height="47.7" fill="#ffffff" stroke="#666" stroke-width="0.8" />
<rect x="1171.1" y="654.3" width="42.2" height="1.3" fill="#b8b8b8" />
<rect x="1169.6" y="606.6" width="42.2" height="9.1" fill="#e8a27c" stroke="#666" stroke-width="0.8" />
<text x="1185.8" y="614.0" font-family='"Liberation Sans",sans-serif' font-size="7.4" fill="#111" font-weight="bold" textLength="9.9" lengthAdjust="spacingAndGlyphs" >Ga</text>
<text x="1171.8" y="622.6" font-family='"Liberation Sans",sans-serif' font-size="5.4" fill="#333" textLength="37.9" lengthAdjust="spacingAndGlyphs" >γ = 25.0 kN/m³</text>
<text x="1172.0" y="629.5" font-family='"Liberation Sans",sans-serif' font-size="5.4" fill="#333" textLength="37.4" lengthAdjust="spacingAndGlyphs" >c' = 100 kN/m²</text>
<text x="1180.6" y="636.4" font-family='"Liberation Sans",sans-serif' font-size="5.4" fill="#333" textLength="20.2" lengthAdjust="spacingAndGlyphs" >φ' = 40°</text>
<text x="1171.1" y="643.3" font-family='"Liberation Sans",sans-serif' font-size="5.4" fill="#333" textLength="39.2" lengthAdjust="spacingAndGlyphs" >Ex = 20000 MPa</text>
<text x="1173.4" y="650.2" font-family='"Liberation Sans",sans-serif' font-size="5.4" fill="#333" textLength="34.7" lengthAdjust="spacingAndGlyphs" >qu &gt; 3.5 MPa</text>
<rect x="0.0" y="672.0" width="1233.0" height="56.0" fill="#1f4c78" />
<rect x="0.0" y="720.0" width="1233.0" height="3.0" fill="#22507e" />
<rect x="0.0" y="723.0" width="1233.0" height="5.0" fill="#2e4a68" />
<text x="541.9" y="703.7" font-family='"Liberation Sans",sans-serif' font-size="21.5" fill="#b2cce8" font-weight="bold" textLength="162.9" lengthAdjust="spacingAndGlyphs" >www.rgf.bg.ac.rs</text>
</svg>
</body></html>
